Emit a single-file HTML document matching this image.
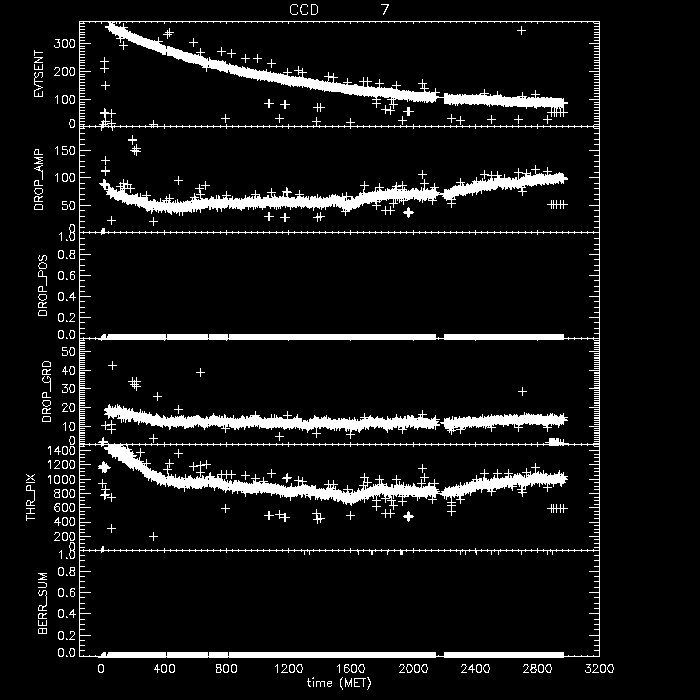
<!DOCTYPE html>
<html><head><meta charset="utf-8"><title>CCD 7</title>
<style>
html,body{margin:0;padding:0;background:#000;}
body{width:700px;height:700px;overflow:hidden;font-family:"Liberation Sans",sans-serif;}
svg{display:block;}
</style></head><body>
<svg width="700" height="700" viewBox="0 0 700 700" shape-rendering="crispEdges">
<rect width="700" height="700" fill="#000"/>
<g fill="#000" font-family="Liberation Sans, sans-serif" font-size="11">
<text x="101" y="672" text-anchor="middle">0</text>
<text x="164" y="672" text-anchor="middle">400</text>
<text x="226" y="672" text-anchor="middle">800</text>
<text x="288" y="672" text-anchor="middle">1200</text>
<text x="350" y="672" text-anchor="middle">1600</text>
<text x="413" y="672" text-anchor="middle">2000</text>
<text x="475" y="672" text-anchor="middle">2400</text>
<text x="537" y="672" text-anchor="middle">2800</text>
<text x="599" y="672" text-anchor="middle">3200</text>
<text x="339" y="686" text-anchor="middle">time (MET)</text>
<text x="75" y="47" text-anchor="end">300</text>
<text x="75" y="75" text-anchor="end">200</text>
<text x="75" y="103" text-anchor="end">100</text>
<text x="75" y="127" text-anchor="end">0</text>
<text x="75" y="154" text-anchor="end">150</text>
<text x="75" y="181" text-anchor="end">100</text>
<text x="75" y="209" text-anchor="end">50</text>
<text x="75" y="232" text-anchor="end">0</text>
<text x="75" y="240" text-anchor="end">1.0</text>
<text x="75" y="258" text-anchor="end">0.8</text>
<text x="75" y="279" text-anchor="end">0.6</text>
<text x="75" y="300" text-anchor="end">0.4</text>
<text x="75" y="321" text-anchor="end">0.2</text>
<text x="75" y="338" text-anchor="end">0.0</text>
<text x="75" y="355" text-anchor="end">50</text>
<text x="75" y="374" text-anchor="end">40</text>
<text x="75" y="392" text-anchor="end">30</text>
<text x="75" y="411" text-anchor="end">20</text>
<text x="75" y="430" text-anchor="end">10</text>
<text x="75" y="444" text-anchor="end">0</text>
<text x="75" y="454" text-anchor="end">1400</text>
<text x="75" y="468" text-anchor="end">1200</text>
<text x="75" y="483" text-anchor="end">1000</text>
<text x="75" y="497" text-anchor="end">800</text>
<text x="75" y="511" text-anchor="end">600</text>
<text x="75" y="525" text-anchor="end">400</text>
<text x="75" y="540" text-anchor="end">200</text>
<text x="75" y="550" text-anchor="end">0</text>
<text x="75" y="558" text-anchor="end">1.0</text>
<text x="75" y="575" text-anchor="end">0.8</text>
<text x="75" y="596" text-anchor="end">0.6</text>
<text x="75" y="617" text-anchor="end">0.4</text>
<text x="75" y="639" text-anchor="end">0.2</text>
<text x="75" y="656" text-anchor="end">0.0</text>
<text x="42" y="73" text-anchor="middle" transform="rotate(-90 42 73)">EVTSENT</text>
<text x="42" y="179" text-anchor="middle" transform="rotate(-90 42 179)">DROP_AMP</text>
<text x="46" y="285" text-anchor="middle" transform="rotate(-90 46 285)">DROP_POS</text>
<text x="50" y="391" text-anchor="middle" transform="rotate(-90 50 391)">DROP_GRD</text>
<text x="34" y="497" text-anchor="middle" transform="rotate(-90 34 497)">THR_PIX</text>
<text x="46" y="603" text-anchor="middle" transform="rotate(-90 46 603)">BERR_SUM</text>
<text x="304" y="14" text-anchor="middle">CCD</text>
<text x="385" y="14" text-anchor="middle">7</text>
</g>
<defs>
<clipPath id="c0"><rect x="79" y="21" width="521" height="107"/></clipPath>
<clipPath id="c1"><rect x="79" y="126" width="521" height="108"/></clipPath>
<clipPath id="c2"><rect x="79" y="232" width="521" height="108"/></clipPath>
<clipPath id="c3"><rect x="79" y="338" width="521" height="108"/></clipPath>
<clipPath id="c4"><rect x="79" y="444" width="521" height="108"/></clipPath>
<clipPath id="c5"><rect x="79" y="550" width="521" height="108"/></clipPath>
</defs>
<path fill="#fff" d="M79 21h1v636h-1zM599 21h1v636h-1zM79 21h521v1h-521zM79 126h521v1h-521zM79 232h521v1h-521zM79 338h521v1h-521zM79 444h521v1h-521zM79 550h521v1h-521zM79 656h521v1h-521zM83 21h1v2h-1zM89 21h1v2h-1zM95 21h1v2h-1zM101 21h1v3h-1zM108 21h1v2h-1zM114 21h1v2h-1zM120 21h1v2h-1zM126 21h1v2h-1zM132 21h1v2h-1zM139 21h1v2h-1zM145 21h1v2h-1zM151 21h1v2h-1zM157 21h1v2h-1zM164 21h1v3h-1zM170 21h1v2h-1zM176 21h1v2h-1zM182 21h1v2h-1zM189 21h1v2h-1zM195 21h1v2h-1zM201 21h1v2h-1zM207 21h1v2h-1zM213 21h1v2h-1zM220 21h1v2h-1zM226 21h1v3h-1zM232 21h1v2h-1zM238 21h1v2h-1zM245 21h1v2h-1zM251 21h1v2h-1zM257 21h1v2h-1zM263 21h1v2h-1zM269 21h1v2h-1zM276 21h1v2h-1zM282 21h1v2h-1zM288 21h1v3h-1zM294 21h1v2h-1zM301 21h1v2h-1zM307 21h1v2h-1zM313 21h1v2h-1zM319 21h1v2h-1zM325 21h1v2h-1zM332 21h1v2h-1zM338 21h1v2h-1zM344 21h1v2h-1zM350 21h1v3h-1zM357 21h1v2h-1zM363 21h1v2h-1zM369 21h1v2h-1zM375 21h1v2h-1zM381 21h1v2h-1zM388 21h1v2h-1zM394 21h1v2h-1zM400 21h1v2h-1zM406 21h1v2h-1zM413 21h1v3h-1zM419 21h1v2h-1zM425 21h1v2h-1zM431 21h1v2h-1zM438 21h1v2h-1zM444 21h1v2h-1zM450 21h1v2h-1zM456 21h1v2h-1zM462 21h1v2h-1zM469 21h1v2h-1zM475 21h1v3h-1zM481 21h1v2h-1zM487 21h1v2h-1zM494 21h1v2h-1zM500 21h1v2h-1zM506 21h1v2h-1zM512 21h1v2h-1zM518 21h1v2h-1zM525 21h1v2h-1zM531 21h1v2h-1zM537 21h1v3h-1zM543 21h1v2h-1zM550 21h1v2h-1zM556 21h1v2h-1zM562 21h1v2h-1zM568 21h1v2h-1zM574 21h1v2h-1zM581 21h1v2h-1zM587 21h1v2h-1zM593 21h1v2h-1zM83 125h1v3h-1zM89 125h1v3h-1zM95 125h1v3h-1zM101 124h1v5h-1zM108 125h1v3h-1zM114 125h1v3h-1zM120 125h1v3h-1zM126 125h1v3h-1zM132 125h1v3h-1zM139 125h1v3h-1zM145 125h1v3h-1zM151 125h1v3h-1zM157 125h1v3h-1zM164 124h1v5h-1zM170 125h1v3h-1zM176 125h1v3h-1zM182 125h1v3h-1zM189 125h1v3h-1zM195 125h1v3h-1zM201 125h1v3h-1zM207 125h1v3h-1zM213 125h1v3h-1zM220 125h1v3h-1zM226 124h1v5h-1zM232 125h1v3h-1zM238 125h1v3h-1zM245 125h1v3h-1zM251 125h1v3h-1zM257 125h1v3h-1zM263 125h1v3h-1zM269 125h1v3h-1zM276 125h1v3h-1zM282 125h1v3h-1zM288 124h1v5h-1zM294 125h1v3h-1zM301 125h1v3h-1zM307 125h1v3h-1zM313 125h1v3h-1zM319 125h1v3h-1zM325 125h1v3h-1zM332 125h1v3h-1zM338 125h1v3h-1zM344 125h1v3h-1zM350 124h1v5h-1zM357 125h1v3h-1zM363 125h1v3h-1zM369 125h1v3h-1zM375 125h1v3h-1zM381 125h1v3h-1zM388 125h1v3h-1zM394 125h1v3h-1zM400 125h1v3h-1zM406 125h1v3h-1zM413 124h1v5h-1zM419 125h1v3h-1zM425 125h1v3h-1zM431 125h1v3h-1zM438 125h1v3h-1zM444 125h1v3h-1zM450 125h1v3h-1zM456 125h1v3h-1zM462 125h1v3h-1zM469 125h1v3h-1zM475 124h1v5h-1zM481 125h1v3h-1zM487 125h1v3h-1zM494 125h1v3h-1zM500 125h1v3h-1zM506 125h1v3h-1zM512 125h1v3h-1zM518 125h1v3h-1zM525 125h1v3h-1zM531 125h1v3h-1zM537 124h1v5h-1zM543 125h1v3h-1zM550 125h1v3h-1zM556 125h1v3h-1zM562 125h1v3h-1zM568 125h1v3h-1zM574 125h1v3h-1zM581 125h1v3h-1zM587 125h1v3h-1zM593 125h1v3h-1zM83 231h1v3h-1zM89 231h1v3h-1zM95 231h1v3h-1zM101 230h1v5h-1zM108 231h1v3h-1zM114 231h1v3h-1zM120 231h1v3h-1zM126 231h1v3h-1zM132 231h1v3h-1zM139 231h1v3h-1zM145 231h1v3h-1zM151 231h1v3h-1zM157 231h1v3h-1zM164 230h1v5h-1zM170 231h1v3h-1zM176 231h1v3h-1zM182 231h1v3h-1zM189 231h1v3h-1zM195 231h1v3h-1zM201 231h1v3h-1zM207 231h1v3h-1zM213 231h1v3h-1zM220 231h1v3h-1zM226 230h1v5h-1zM232 231h1v3h-1zM238 231h1v3h-1zM245 231h1v3h-1zM251 231h1v3h-1zM257 231h1v3h-1zM263 231h1v3h-1zM269 231h1v3h-1zM276 231h1v3h-1zM282 231h1v3h-1zM288 230h1v5h-1zM294 231h1v3h-1zM301 231h1v3h-1zM307 231h1v3h-1zM313 231h1v3h-1zM319 231h1v3h-1zM325 231h1v3h-1zM332 231h1v3h-1zM338 231h1v3h-1zM344 231h1v3h-1zM350 230h1v5h-1zM357 231h1v3h-1zM363 231h1v3h-1zM369 231h1v3h-1zM375 231h1v3h-1zM381 231h1v3h-1zM388 231h1v3h-1zM394 231h1v3h-1zM400 231h1v3h-1zM406 231h1v3h-1zM413 230h1v5h-1zM419 231h1v3h-1zM425 231h1v3h-1zM431 231h1v3h-1zM438 231h1v3h-1zM444 231h1v3h-1zM450 231h1v3h-1zM456 231h1v3h-1zM462 231h1v3h-1zM469 231h1v3h-1zM475 230h1v5h-1zM481 231h1v3h-1zM487 231h1v3h-1zM494 231h1v3h-1zM500 231h1v3h-1zM506 231h1v3h-1zM512 231h1v3h-1zM518 231h1v3h-1zM525 231h1v3h-1zM531 231h1v3h-1zM537 230h1v5h-1zM543 231h1v3h-1zM550 231h1v3h-1zM556 231h1v3h-1zM562 231h1v3h-1zM568 231h1v3h-1zM574 231h1v3h-1zM581 231h1v3h-1zM587 231h1v3h-1zM593 231h1v3h-1zM83 337h1v3h-1zM89 337h1v3h-1zM95 337h1v3h-1zM101 336h1v5h-1zM108 337h1v3h-1zM114 337h1v3h-1zM120 337h1v3h-1zM126 337h1v3h-1zM132 337h1v3h-1zM139 337h1v3h-1zM145 337h1v3h-1zM151 337h1v3h-1zM157 337h1v3h-1zM164 336h1v5h-1zM170 337h1v3h-1zM176 337h1v3h-1zM182 337h1v3h-1zM189 337h1v3h-1zM195 337h1v3h-1zM201 337h1v3h-1zM207 337h1v3h-1zM213 337h1v3h-1zM220 337h1v3h-1zM226 336h1v5h-1zM232 337h1v3h-1zM238 337h1v3h-1zM245 337h1v3h-1zM251 337h1v3h-1zM257 337h1v3h-1zM263 337h1v3h-1zM269 337h1v3h-1zM276 337h1v3h-1zM282 337h1v3h-1zM288 336h1v5h-1zM294 337h1v3h-1zM301 337h1v3h-1zM307 337h1v3h-1zM313 337h1v3h-1zM319 337h1v3h-1zM325 337h1v3h-1zM332 337h1v3h-1zM338 337h1v3h-1zM344 337h1v3h-1zM350 336h1v5h-1zM357 337h1v3h-1zM363 337h1v3h-1zM369 337h1v3h-1zM375 337h1v3h-1zM381 337h1v3h-1zM388 337h1v3h-1zM394 337h1v3h-1zM400 337h1v3h-1zM406 337h1v3h-1zM413 336h1v5h-1zM419 337h1v3h-1zM425 337h1v3h-1zM431 337h1v3h-1zM438 337h1v3h-1zM444 337h1v3h-1zM450 337h1v3h-1zM456 337h1v3h-1zM462 337h1v3h-1zM469 337h1v3h-1zM475 336h1v5h-1zM481 337h1v3h-1zM487 337h1v3h-1zM494 337h1v3h-1zM500 337h1v3h-1zM506 337h1v3h-1zM512 337h1v3h-1zM518 337h1v3h-1zM525 337h1v3h-1zM531 337h1v3h-1zM537 336h1v5h-1zM543 337h1v3h-1zM550 337h1v3h-1zM556 337h1v3h-1zM562 337h1v3h-1zM568 337h1v3h-1zM574 337h1v3h-1zM581 337h1v3h-1zM587 337h1v3h-1zM593 337h1v3h-1zM83 443h1v3h-1zM89 443h1v3h-1zM95 443h1v3h-1zM101 442h1v5h-1zM108 443h1v3h-1zM114 443h1v3h-1zM120 443h1v3h-1zM126 443h1v3h-1zM132 443h1v3h-1zM139 443h1v3h-1zM145 443h1v3h-1zM151 443h1v3h-1zM157 443h1v3h-1zM164 442h1v5h-1zM170 443h1v3h-1zM176 443h1v3h-1zM182 443h1v3h-1zM189 443h1v3h-1zM195 443h1v3h-1zM201 443h1v3h-1zM207 443h1v3h-1zM213 443h1v3h-1zM220 443h1v3h-1zM226 442h1v5h-1zM232 443h1v3h-1zM238 443h1v3h-1zM245 443h1v3h-1zM251 443h1v3h-1zM257 443h1v3h-1zM263 443h1v3h-1zM269 443h1v3h-1zM276 443h1v3h-1zM282 443h1v3h-1zM288 442h1v5h-1zM294 443h1v3h-1zM301 443h1v3h-1zM307 443h1v3h-1zM313 443h1v3h-1zM319 443h1v3h-1zM325 443h1v3h-1zM332 443h1v3h-1zM338 443h1v3h-1zM344 443h1v3h-1zM350 442h1v5h-1zM357 443h1v3h-1zM363 443h1v3h-1zM369 443h1v3h-1zM375 443h1v3h-1zM381 443h1v3h-1zM388 443h1v3h-1zM394 443h1v3h-1zM400 443h1v3h-1zM406 443h1v3h-1zM413 442h1v5h-1zM419 443h1v3h-1zM425 443h1v3h-1zM431 443h1v3h-1zM438 443h1v3h-1zM444 443h1v3h-1zM450 443h1v3h-1zM456 443h1v3h-1zM462 443h1v3h-1zM469 443h1v3h-1zM475 442h1v5h-1zM481 443h1v3h-1zM487 443h1v3h-1zM494 443h1v3h-1zM500 443h1v3h-1zM506 443h1v3h-1zM512 443h1v3h-1zM518 443h1v3h-1zM525 443h1v3h-1zM531 443h1v3h-1zM537 442h1v5h-1zM543 443h1v3h-1zM550 443h1v3h-1zM556 443h1v3h-1zM562 443h1v3h-1zM568 443h1v3h-1zM574 443h1v3h-1zM581 443h1v3h-1zM587 443h1v3h-1zM593 443h1v3h-1zM83 549h1v3h-1zM89 549h1v3h-1zM95 549h1v3h-1zM101 548h1v5h-1zM108 549h1v3h-1zM114 549h1v3h-1zM120 549h1v3h-1zM126 549h1v3h-1zM132 549h1v3h-1zM139 549h1v3h-1zM145 549h1v3h-1zM151 549h1v3h-1zM157 549h1v3h-1zM164 548h1v5h-1zM170 549h1v3h-1zM176 549h1v3h-1zM182 549h1v3h-1zM189 549h1v3h-1zM195 549h1v3h-1zM201 549h1v3h-1zM207 549h1v3h-1zM213 549h1v3h-1zM220 549h1v3h-1zM226 548h1v5h-1zM232 549h1v3h-1zM238 549h1v3h-1zM245 549h1v3h-1zM251 549h1v3h-1zM257 549h1v3h-1zM263 549h1v3h-1zM269 549h1v3h-1zM276 549h1v3h-1zM282 549h1v3h-1zM288 548h1v5h-1zM294 549h1v3h-1zM301 549h1v3h-1zM307 549h1v3h-1zM313 549h1v3h-1zM319 549h1v3h-1zM325 549h1v3h-1zM332 549h1v3h-1zM338 549h1v3h-1zM344 549h1v3h-1zM350 548h1v5h-1zM357 549h1v3h-1zM363 549h1v3h-1zM369 549h1v3h-1zM375 549h1v3h-1zM381 549h1v3h-1zM388 549h1v3h-1zM394 549h1v3h-1zM400 549h1v3h-1zM406 549h1v3h-1zM413 548h1v5h-1zM419 549h1v3h-1zM425 549h1v3h-1zM431 549h1v3h-1zM438 549h1v3h-1zM444 549h1v3h-1zM450 549h1v3h-1zM456 549h1v3h-1zM462 549h1v3h-1zM469 549h1v3h-1zM475 548h1v5h-1zM481 549h1v3h-1zM487 549h1v3h-1zM494 549h1v3h-1zM500 549h1v3h-1zM506 549h1v3h-1zM512 549h1v3h-1zM518 549h1v3h-1zM525 549h1v3h-1zM531 549h1v3h-1zM537 548h1v5h-1zM543 549h1v3h-1zM550 549h1v3h-1zM556 549h1v3h-1zM562 549h1v3h-1zM568 549h1v3h-1zM574 549h1v3h-1zM581 549h1v3h-1zM587 549h1v3h-1zM593 549h1v3h-1zM83 655h1v2h-1zM89 655h1v2h-1zM95 655h1v2h-1zM101 654h1v3h-1zM108 655h1v2h-1zM114 655h1v2h-1zM120 655h1v2h-1zM126 655h1v2h-1zM132 655h1v2h-1zM139 655h1v2h-1zM145 655h1v2h-1zM151 655h1v2h-1zM157 655h1v2h-1zM164 654h1v3h-1zM170 655h1v2h-1zM176 655h1v2h-1zM182 655h1v2h-1zM189 655h1v2h-1zM195 655h1v2h-1zM201 655h1v2h-1zM207 655h1v2h-1zM213 655h1v2h-1zM220 655h1v2h-1zM226 654h1v3h-1zM232 655h1v2h-1zM238 655h1v2h-1zM245 655h1v2h-1zM251 655h1v2h-1zM257 655h1v2h-1zM263 655h1v2h-1zM269 655h1v2h-1zM276 655h1v2h-1zM282 655h1v2h-1zM288 654h1v3h-1zM294 655h1v2h-1zM301 655h1v2h-1zM307 655h1v2h-1zM313 655h1v2h-1zM319 655h1v2h-1zM325 655h1v2h-1zM332 655h1v2h-1zM338 655h1v2h-1zM344 655h1v2h-1zM350 654h1v3h-1zM357 655h1v2h-1zM363 655h1v2h-1zM369 655h1v2h-1zM375 655h1v2h-1zM381 655h1v2h-1zM388 655h1v2h-1zM394 655h1v2h-1zM400 655h1v2h-1zM406 655h1v2h-1zM413 654h1v3h-1zM419 655h1v2h-1zM425 655h1v2h-1zM431 655h1v2h-1zM438 655h1v2h-1zM444 655h1v2h-1zM450 655h1v2h-1zM456 655h1v2h-1zM462 655h1v2h-1zM469 655h1v2h-1zM475 654h1v3h-1zM481 655h1v2h-1zM487 655h1v2h-1zM494 655h1v2h-1zM500 655h1v2h-1zM506 655h1v2h-1zM512 655h1v2h-1zM518 655h1v2h-1zM525 655h1v2h-1zM531 655h1v2h-1zM537 654h1v3h-1zM543 655h1v2h-1zM550 655h1v2h-1zM556 655h1v2h-1zM562 655h1v2h-1zM568 655h1v2h-1zM574 655h1v2h-1zM581 655h1v2h-1zM587 655h1v2h-1zM593 655h1v2h-1zM80 124h5v1h-5zM594 124h5v1h-5zM80 121h5v1h-5zM594 121h5v1h-5zM80 118h5v1h-5zM594 118h5v1h-5zM80 116h5v1h-5zM594 116h5v1h-5zM80 113h5v1h-5zM594 113h5v1h-5zM80 110h5v1h-5zM594 110h5v1h-5zM80 107h5v1h-5zM594 107h5v1h-5zM80 104h5v1h-5zM594 104h5v1h-5zM80 102h5v1h-5zM594 102h5v1h-5zM80 99h11v1h-11zM589 99h10v1h-10zM80 96h5v1h-5zM594 96h5v1h-5zM80 93h5v1h-5zM594 93h5v1h-5zM80 90h5v1h-5zM594 90h5v1h-5zM80 88h5v1h-5zM594 88h5v1h-5zM80 85h5v1h-5zM594 85h5v1h-5zM80 82h5v1h-5zM594 82h5v1h-5zM80 79h5v1h-5zM594 79h5v1h-5zM80 76h5v1h-5zM594 76h5v1h-5zM80 74h5v1h-5zM594 74h5v1h-5zM80 71h11v1h-11zM589 71h10v1h-10zM80 68h5v1h-5zM594 68h5v1h-5zM80 65h5v1h-5zM594 65h5v1h-5zM80 62h5v1h-5zM594 62h5v1h-5zM80 60h5v1h-5zM594 60h5v1h-5zM80 57h5v1h-5zM594 57h5v1h-5zM80 54h5v1h-5zM594 54h5v1h-5zM80 51h5v1h-5zM594 51h5v1h-5zM80 48h5v1h-5zM594 48h5v1h-5zM80 46h5v1h-5zM594 46h5v1h-5zM80 43h11v1h-11zM589 43h10v1h-10zM80 40h5v1h-5zM594 40h5v1h-5zM80 37h5v1h-5zM594 37h5v1h-5zM80 34h5v1h-5zM594 34h5v1h-5zM80 32h5v1h-5zM594 32h5v1h-5zM80 29h5v1h-5zM594 29h5v1h-5zM80 26h5v1h-5zM594 26h5v1h-5zM80 23h5v1h-5zM594 23h5v1h-5zM80 227h5v1h-5zM594 227h5v1h-5zM80 221h5v1h-5zM594 221h5v1h-5zM80 216h5v1h-5zM594 216h5v1h-5zM80 210h5v1h-5zM594 210h5v1h-5zM80 205h11v1h-11zM589 205h10v1h-10zM80 199h5v1h-5zM594 199h5v1h-5zM80 194h5v1h-5zM594 194h5v1h-5zM80 188h5v1h-5zM594 188h5v1h-5zM80 183h5v1h-5zM594 183h5v1h-5zM80 177h11v1h-11zM589 177h10v1h-10zM80 172h5v1h-5zM594 172h5v1h-5zM80 166h5v1h-5zM594 166h5v1h-5zM80 161h5v1h-5zM594 161h5v1h-5zM80 155h5v1h-5zM594 155h5v1h-5zM80 150h11v1h-11zM589 150h10v1h-10zM80 144h5v1h-5zM594 144h5v1h-5zM80 139h5v1h-5zM594 139h5v1h-5zM80 133h5v1h-5zM594 133h5v1h-5zM80 128h5v1h-5zM594 128h5v1h-5zM80 333h5v1h-5zM594 333h5v1h-5zM80 328h5v1h-5zM594 328h5v1h-5zM80 322h5v1h-5zM594 322h5v1h-5zM80 317h11v1h-11zM589 317h10v1h-10zM80 312h5v1h-5zM594 312h5v1h-5zM80 307h5v1h-5zM594 307h5v1h-5zM80 301h5v1h-5zM594 301h5v1h-5zM80 296h11v1h-11zM589 296h10v1h-10zM80 291h5v1h-5zM594 291h5v1h-5zM80 286h5v1h-5zM594 286h5v1h-5zM80 280h5v1h-5zM594 280h5v1h-5zM80 275h11v1h-11zM589 275h10v1h-10zM80 270h5v1h-5zM594 270h5v1h-5zM80 265h5v1h-5zM594 265h5v1h-5zM80 259h5v1h-5zM594 259h5v1h-5zM80 254h11v1h-11zM589 254h10v1h-10zM80 249h5v1h-5zM594 249h5v1h-5zM80 244h5v1h-5zM594 244h5v1h-5zM80 238h5v1h-5zM594 238h5v1h-5zM80 443h5v1h-5zM594 443h5v1h-5zM80 441h5v1h-5zM594 441h5v1h-5zM80 439h5v1h-5zM594 439h5v1h-5zM80 437h5v1h-5zM594 437h5v1h-5zM80 435h5v1h-5zM594 435h5v1h-5zM80 433h5v1h-5zM594 433h5v1h-5zM80 432h5v1h-5zM594 432h5v1h-5zM80 430h5v1h-5zM594 430h5v1h-5zM80 428h5v1h-5zM594 428h5v1h-5zM80 426h11v1h-11zM589 426h10v1h-10zM80 424h5v1h-5zM594 424h5v1h-5zM80 422h5v1h-5zM594 422h5v1h-5zM80 420h5v1h-5zM594 420h5v1h-5zM80 418h5v1h-5zM594 418h5v1h-5zM80 417h5v1h-5zM594 417h5v1h-5zM80 415h5v1h-5zM594 415h5v1h-5zM80 413h5v1h-5zM594 413h5v1h-5zM80 411h5v1h-5zM594 411h5v1h-5zM80 409h5v1h-5zM594 409h5v1h-5zM80 407h11v1h-11zM589 407h10v1h-10zM80 405h5v1h-5zM594 405h5v1h-5zM80 403h5v1h-5zM594 403h5v1h-5zM80 402h5v1h-5zM594 402h5v1h-5zM80 400h5v1h-5zM594 400h5v1h-5zM80 398h5v1h-5zM594 398h5v1h-5zM80 396h5v1h-5zM594 396h5v1h-5zM80 394h5v1h-5zM594 394h5v1h-5zM80 392h5v1h-5zM594 392h5v1h-5zM80 390h5v1h-5zM594 390h5v1h-5zM80 388h11v1h-11zM589 388h10v1h-10zM80 387h5v1h-5zM594 387h5v1h-5zM80 385h5v1h-5zM594 385h5v1h-5zM80 383h5v1h-5zM594 383h5v1h-5zM80 381h5v1h-5zM594 381h5v1h-5zM80 379h5v1h-5zM594 379h5v1h-5zM80 377h5v1h-5zM594 377h5v1h-5zM80 375h5v1h-5zM594 375h5v1h-5zM80 373h5v1h-5zM594 373h5v1h-5zM80 372h5v1h-5zM594 372h5v1h-5zM80 370h11v1h-11zM589 370h10v1h-10zM80 368h5v1h-5zM594 368h5v1h-5zM80 366h5v1h-5zM594 366h5v1h-5zM80 364h5v1h-5zM594 364h5v1h-5zM80 362h5v1h-5zM594 362h5v1h-5zM80 360h5v1h-5zM594 360h5v1h-5zM80 358h5v1h-5zM594 358h5v1h-5zM80 357h5v1h-5zM594 357h5v1h-5zM80 355h5v1h-5zM594 355h5v1h-5zM80 353h5v1h-5zM594 353h5v1h-5zM80 351h11v1h-11zM589 351h10v1h-10zM80 349h5v1h-5zM594 349h5v1h-5zM80 347h5v1h-5zM594 347h5v1h-5zM80 345h5v1h-5zM594 345h5v1h-5zM80 343h5v1h-5zM594 343h5v1h-5zM80 342h5v1h-5zM594 342h5v1h-5zM80 340h5v1h-5zM594 340h5v1h-5zM80 547h5v1h-5zM594 547h5v1h-5zM80 543h5v1h-5zM594 543h5v1h-5zM80 539h5v1h-5zM594 539h5v1h-5zM80 536h11v1h-11zM589 536h10v1h-10zM80 532h5v1h-5zM594 532h5v1h-5zM80 529h5v1h-5zM594 529h5v1h-5zM80 525h5v1h-5zM594 525h5v1h-5zM80 522h11v1h-11zM589 522h10v1h-10zM80 518h5v1h-5zM594 518h5v1h-5zM80 514h5v1h-5zM594 514h5v1h-5zM80 511h5v1h-5zM594 511h5v1h-5zM80 507h11v1h-11zM589 507h10v1h-10zM80 504h5v1h-5zM594 504h5v1h-5zM80 500h5v1h-5zM594 500h5v1h-5zM80 497h5v1h-5zM594 497h5v1h-5zM80 493h11v1h-11zM589 493h10v1h-10zM80 489h5v1h-5zM594 489h5v1h-5zM80 486h5v1h-5zM594 486h5v1h-5zM80 482h5v1h-5zM594 482h5v1h-5zM80 479h11v1h-11zM589 479h10v1h-10zM80 475h5v1h-5zM594 475h5v1h-5zM80 471h5v1h-5zM594 471h5v1h-5zM80 468h5v1h-5zM594 468h5v1h-5zM80 464h11v1h-11zM589 464h10v1h-10zM80 461h5v1h-5zM594 461h5v1h-5zM80 457h5v1h-5zM594 457h5v1h-5zM80 454h5v1h-5zM594 454h5v1h-5zM80 450h11v1h-11zM589 450h10v1h-10zM80 446h5v1h-5zM594 446h5v1h-5zM80 650h5v1h-5zM594 650h5v1h-5zM80 645h5v1h-5zM594 645h5v1h-5zM80 640h5v1h-5zM594 640h5v1h-5zM80 635h11v1h-11zM589 635h10v1h-10zM80 629h5v1h-5zM594 629h5v1h-5zM80 624h5v1h-5zM594 624h5v1h-5zM80 619h5v1h-5zM594 619h5v1h-5zM80 613h11v1h-11zM589 613h10v1h-10zM80 608h5v1h-5zM594 608h5v1h-5zM80 603h5v1h-5zM594 603h5v1h-5zM80 597h5v1h-5zM594 597h5v1h-5zM80 592h11v1h-11zM589 592h10v1h-10zM80 587h5v1h-5zM594 587h5v1h-5zM80 581h5v1h-5zM594 581h5v1h-5zM80 576h5v1h-5zM594 576h5v1h-5zM80 571h11v1h-11zM589 571h10v1h-10zM80 566h5v1h-5zM594 566h5v1h-5zM80 560h5v1h-5zM594 560h5v1h-5zM80 555h5v1h-5zM594 555h5v1h-5zM439 97h5v1h-5zM444 93h4v11h-4z"/>
<g clip-path="url(#c0)"><path fill="none" stroke="#fff" stroke-width="1" d="M105 27.5h9M109.5 23v9M105 26.5h9M109.5 22v9M106 26.5h9M110.5 22v9M107 27.5h9M111.5 23v9M108 28.5h9M112.5 24v9M108 29.5h9M112.5 25v9M109 28.5h9M113.5 24v9M109 29.5h9M113.5 25v9M110 29.5h9M114.5 25v9M110 28.5h9M114.5 24v9M111 30.5h9M115.5 26v9M111 31.5h9M115.5 27v9M112 30.5h9M116.5 26v9M113 30.5h9M117.5 26v9M114 31.5h9M118.5 27v9M115 32.5h9M119.5 28v9M115 33.5h9M119.5 29v9M116 30.5h9M120.5 26v9M116 32.5h9M120.5 28v9M117 32.5h9M121.5 28v9M118 32.5h9M122.5 28v9M119 33.5h9M123.5 29v9M120 33.5h9M124.5 29v9M120 32.5h9M124.5 28v9M121 33.5h9M125.5 29v9M122 34.5h9M126.5 30v9M123 34.5h9M127.5 30v9M124 36.5h9M128.5 32v9M125 35.5h9M129.5 31v9M125 36.5h9M129.5 32v9M126 35.5h9M130.5 31v9M126 36.5h9M130.5 32v9M127 37.5h9M131.5 33v9M128 37.5h9M132.5 33v9M129 38.5h9M133.5 34v9M130 38.5h9M134.5 34v9M130 37.5h9M134.5 33v9M131 38.5h9M135.5 34v9M132 38.5h9M136.5 34v9M132 39.5h9M136.5 35v9M133 40.5h9M137.5 36v9M133 39.5h9M137.5 35v9M134 39.5h9M138.5 35v9M134 40.5h9M138.5 36v9M135 40.5h9M139.5 36v9M136 40.5h9M140.5 36v9M137 41.5h9M141.5 37v9M137 40.5h9M141.5 36v9M138 41.5h9M142.5 37v9M139 42.5h9M143.5 38v9M140 42.5h9M144.5 38v9M141 42.5h9M145.5 38v9M142 42.5h9M146.5 38v9M142 43.5h9M146.5 39v9M143 43.5h9M147.5 39v9M144 43.5h9M148.5 39v9M144 44.5h9M148.5 40v9M145 43.5h9M149.5 39v9M145 44.5h9M149.5 40v9M146 44.5h9M150.5 40v9M147 44.5h9M151.5 40v9M148 45.5h9M152.5 41v9M148 44.5h9M152.5 40v9M149 45.5h9M153.5 41v9M150 45.5h9M154.5 41v9M150 44.5h9M154.5 40v9M151 46.5h9M155.5 42v9M151 45.5h9M155.5 41v9M152 46.5h9M156.5 42v9M153 46.5h9M157.5 42v9M153 47.5h9M157.5 43v9M154 47.5h9M158.5 43v9M154 46.5h9M158.5 42v9M155 47.5h9M159.5 43v9M156 48.5h9M160.5 44v9M157 48.5h9M161.5 44v9M158 49.5h9M162.5 45v9M158 50.5h9M162.5 46v9M159 50.5h9M163.5 46v9M159 49.5h9M163.5 45v9M160 49.5h9M164.5 45v9M160 50.5h9M164.5 46v9M161 50.5h9M165.5 46v9M163 50.5h9M167.5 46v9M163 51.5h9M167.5 47v9M164 50.5h9M168.5 46v9M164 51.5h9M168.5 47v9M165 50.5h9M169.5 46v9M165 51.5h9M169.5 47v9M166 51.5h9M170.5 47v9M167 51.5h9M171.5 47v9M168 51.5h9M172.5 47v9M169 52.5h9M173.5 48v9M170 53.5h9M174.5 49v9M170 52.5h9M174.5 48v9M171 53.5h9M175.5 49v9M172 54.5h9M176.5 50v9M172 53.5h9M176.5 49v9M173 53.5h9M177.5 49v9M173 54.5h9M177.5 50v9M174 53.5h9M178.5 49v9M174 55.5h9M178.5 51v9M175 54.5h9M179.5 50v9M176 54.5h9M180.5 50v9M177 54.5h9M181.5 50v9M178 55.5h9M182.5 51v9M179 56.5h9M183.5 52v9M180 56.5h9M184.5 52v9M181 56.5h9M185.5 52v9M181 57.5h9M185.5 53v9M182 57.5h9M186.5 53v9M182 56.5h9M186.5 52v9M183 57.5h9M187.5 53v9M183 56.5h9M187.5 52v9M184 58.5h9M188.5 54v9M184 57.5h9M188.5 53v9M185 58.5h9M189.5 54v9M185 57.5h9M189.5 53v9M186 57.5h9M190.5 53v9M186 58.5h9M190.5 54v9M187 58.5h9M191.5 54v9M187 57.5h9M191.5 53v9M188 58.5h9M192.5 54v9M189 59.5h9M193.5 55v9M190 58.5h9M194.5 54v9M191 59.5h9M195.5 55v9M191 58.5h9M195.5 54v9M192 59.5h9M196.5 55v9M193 59.5h9M197.5 55v9M194 59.5h9M198.5 55v9M194 58.5h9M198.5 54v9M195 60.5h9M199.5 56v9M196 59.5h9M200.5 55v9M196 60.5h9M200.5 56v9M197 60.5h9M201.5 56v9M197 61.5h9M201.5 57v9M198 60.5h9M202.5 56v9M198 61.5h9M202.5 57v9M199 61.5h9M203.5 57v9M199 62.5h9M203.5 58v9M200 62.5h9M204.5 58v9M201 62.5h9M205.5 58v9M202 64.5h9M206.5 60v9M202 63.5h9M206.5 59v9M203 62.5h9M207.5 58v9M203 63.5h9M207.5 59v9M205 63.5h9M209.5 59v9M205 61.5h9M209.5 57v9M206 63.5h9M210.5 59v9M207 64.5h9M211.5 60v9M208 64.5h9M212.5 60v9M209 64.5h9M213.5 60v9M210 64.5h9M214.5 60v9M211 64.5h9M215.5 60v9M212 64.5h9M216.5 60v9M213 65.5h9M217.5 61v9M214 64.5h9M218.5 60v9M214 65.5h9M218.5 61v9M215 65.5h9M219.5 61v9M215 66.5h9M219.5 62v9M216 67.5h9M220.5 63v9M216 65.5h9M220.5 61v9M217 66.5h9M221.5 62v9M217 65.5h9M221.5 61v9M218 64.5h9M222.5 60v9M218 66.5h9M222.5 62v9M219 65.5h9M223.5 61v9M219 66.5h9M223.5 62v9M220 66.5h9M224.5 62v9M220 67.5h9M224.5 63v9M221 65.5h9M225.5 61v9M221 67.5h9M225.5 63v9M222 68.5h9M226.5 64v9M223 68.5h9M227.5 64v9M225 67.5h9M229.5 63v9M226 68.5h9M230.5 64v9M226 69.5h9M230.5 65v9M227 69.5h9M231.5 65v9M228 69.5h9M232.5 65v9M229 69.5h9M233.5 65v9M230 70.5h9M234.5 66v9M231 69.5h9M235.5 65v9M232 69.5h9M236.5 65v9M232 70.5h9M236.5 66v9M233 70.5h9M237.5 66v9M234 71.5h9M238.5 67v9M235 71.5h9M239.5 67v9M235 72.5h9M239.5 68v9M236 71.5h9M240.5 67v9M237 72.5h9M241.5 68v9M238 71.5h9M242.5 67v9M238 70.5h9M242.5 66v9M239 71.5h9M243.5 67v9M239 72.5h9M243.5 68v9M240 72.5h9M244.5 68v9M240 71.5h9M244.5 67v9M241 72.5h9M245.5 68v9M242 73.5h9M246.5 69v9M243 71.5h9M247.5 67v9M243 73.5h9M247.5 69v9M244 72.5h9M248.5 68v9M244 73.5h9M248.5 69v9M245 73.5h9M249.5 69v9M245 72.5h9M249.5 68v9M246 73.5h9M250.5 69v9M247 74.5h9M251.5 70v9M247 73.5h9M251.5 69v9M248 73.5h9M252.5 69v9M249 73.5h9M253.5 69v9M249 74.5h9M253.5 70v9M250 74.5h9M254.5 70v9M251 73.5h9M255.5 69v9M251 74.5h9M255.5 70v9M252 74.5h9M256.5 70v9M253 75.5h9M257.5 71v9M253 76.5h9M257.5 72v9M254 75.5h9M258.5 71v9M255 74.5h9M259.5 70v9M256 76.5h9M260.5 72v9M256 75.5h9M260.5 71v9M257 75.5h9M261.5 71v9M258 75.5h9M262.5 71v9M259 74.5h9M263.5 70v9M259 75.5h9M263.5 71v9M260 75.5h9M264.5 71v9M260 76.5h9M264.5 72v9M261 75.5h9M265.5 71v9M262 73.5h9M266.5 69v9M262 75.5h9M266.5 71v9M263 76.5h9M267.5 72v9M264 76.5h9M268.5 72v9M264 77.5h9M268.5 73v9M265 77.5h9M269.5 73v9M265 76.5h9M269.5 72v9M266 75.5h9M270.5 71v9M266 76.5h9M270.5 72v9M267 77.5h9M271.5 73v9M268 77.5h9M272.5 73v9M269 76.5h9M273.5 72v9M270 77.5h9M274.5 73v9M271 77.5h9M275.5 73v9M272 77.5h9M276.5 73v9M273 78.5h9M277.5 74v9M274 78.5h9M278.5 74v9M274 77.5h9M278.5 73v9M275 78.5h9M279.5 74v9M276 77.5h9M280.5 73v9M276 78.5h9M280.5 74v9M277 78.5h9M281.5 74v9M277 80.5h9M281.5 76v9M278 78.5h9M282.5 74v9M278 79.5h9M282.5 75v9M279 78.5h9M283.5 74v9M279 80.5h9M283.5 76v9M280 79.5h9M284.5 75v9M281 80.5h9M285.5 76v9M281 79.5h9M285.5 75v9M282 80.5h9M286.5 76v9M282 79.5h9M286.5 75v9M283 80.5h9M287.5 76v9M284 81.5h9M288.5 77v9M284 80.5h9M288.5 76v9M285 81.5h9M289.5 77v9M285 80.5h9M289.5 76v9M286 82.5h9M290.5 78v9M286 81.5h9M290.5 77v9M287 80.5h9M291.5 76v9M288 81.5h9M292.5 77v9M288 80.5h9M292.5 76v9M289 82.5h9M293.5 78v9M289 80.5h9M293.5 76v9M290 81.5h9M294.5 77v9M291 81.5h9M295.5 77v9M291 80.5h9M295.5 76v9M292 81.5h9M296.5 77v9M293 81.5h9M297.5 77v9M293 82.5h9M297.5 78v9M294 81.5h9M298.5 77v9M295 80.5h9M299.5 76v9M295 82.5h9M299.5 78v9M296 81.5h9M300.5 77v9M297 81.5h9M301.5 77v9M298 81.5h9M302.5 77v9M298 83.5h9M302.5 79v9M299 81.5h9M303.5 77v9M300 82.5h9M304.5 78v9M301 82.5h9M305.5 78v9M302 82.5h9M306.5 78v9M303 83.5h9M307.5 79v9M304 82.5h9M308.5 78v9M305 83.5h9M309.5 79v9M305 82.5h9M309.5 78v9M306 82.5h9M310.5 78v9M306 85.5h9M310.5 81v9M307 84.5h9M311.5 80v9M307 83.5h9M311.5 79v9M308 83.5h9M312.5 79v9M309 83.5h9M313.5 79v9M309 84.5h9M313.5 80v9M310 84.5h9M314.5 80v9M311 85.5h9M315.5 81v9M311 84.5h9M315.5 80v9M312 83.5h9M316.5 79v9M312 84.5h9M316.5 80v9M313 83.5h9M317.5 79v9M313 84.5h9M317.5 80v9M314 84.5h9M318.5 80v9M314 85.5h9M318.5 81v9M315 85.5h9M319.5 81v9M316 85.5h9M320.5 81v9M317 85.5h9M321.5 81v9M318 84.5h9M322.5 80v9M318 86.5h9M322.5 82v9M319 85.5h9M323.5 81v9M320 86.5h9M324.5 82v9M320 87.5h9M324.5 83v9M321 86.5h9M325.5 82v9M321 85.5h9M325.5 81v9M322 86.5h9M326.5 82v9M323 86.5h9M327.5 82v9M323 85.5h9M327.5 81v9M324 86.5h9M328.5 82v9M325 87.5h9M329.5 83v9M325 86.5h9M329.5 82v9M326 86.5h9M330.5 82v9M327 87.5h9M331.5 83v9M328 87.5h9M332.5 83v9M328 86.5h9M332.5 82v9M329 86.5h9M333.5 82v9M329 87.5h9M333.5 83v9M330 87.5h9M334.5 83v9M331 87.5h9M335.5 83v9M332 86.5h9M336.5 82v9M332 87.5h9M336.5 83v9M333 87.5h9M337.5 83v9M334 87.5h9M338.5 83v9M335 87.5h9M339.5 83v9M336 87.5h9M340.5 83v9M337 88.5h9M341.5 84v9M338 88.5h9M342.5 84v9M339 88.5h9M343.5 84v9M340 89.5h9M344.5 85v9M340 88.5h9M344.5 84v9M341 89.5h9M345.5 85v9M342 89.5h9M346.5 85v9M342 88.5h9M346.5 84v9M343 89.5h9M347.5 85v9M344 89.5h9M348.5 85v9M345 89.5h9M349.5 85v9M345 90.5h9M349.5 86v9M346 89.5h9M350.5 85v9M346 90.5h9M350.5 86v9M347 89.5h9M351.5 85v9M347 90.5h9M351.5 86v9M348 89.5h9M352.5 85v9M349 89.5h9M353.5 85v9M350 88.5h9M354.5 84v9M350 90.5h9M354.5 86v9M351 90.5h9M355.5 86v9M351 88.5h9M355.5 84v9M352 90.5h9M356.5 86v9M352 88.5h9M356.5 84v9M353 91.5h9M357.5 87v9M353 89.5h9M357.5 85v9M354 90.5h9M358.5 86v9M355 90.5h9M359.5 86v9M355 91.5h9M359.5 87v9M356 91.5h9M360.5 87v9M356 90.5h9M360.5 86v9M357 91.5h9M361.5 87v9M357 90.5h9M361.5 86v9M358 90.5h9M362.5 86v9M359 91.5h9M363.5 87v9M359 90.5h9M363.5 86v9M360 91.5h9M364.5 87v9M360 92.5h9M364.5 88v9M361 91.5h9M365.5 87v9M362 91.5h9M366.5 87v9M363 90.5h9M367.5 86v9M363 91.5h9M367.5 87v9M364 90.5h9M368.5 86v9M364 92.5h9M368.5 88v9M365 91.5h9M369.5 87v9M366 91.5h9M370.5 87v9M367 90.5h9M371.5 86v9M367 92.5h9M371.5 88v9M368 91.5h9M372.5 87v9M369 91.5h9M373.5 87v9M369 92.5h9M373.5 88v9M370 91.5h9M374.5 87v9M370 92.5h9M374.5 88v9M371 92.5h9M375.5 88v9M371 93.5h9M375.5 89v9M372 92.5h9M376.5 88v9M373 92.5h9M377.5 88v9M373 91.5h9M377.5 87v9M374 91.5h9M378.5 87v9M375 91.5h9M379.5 87v9M376 92.5h9M380.5 88v9M377 91.5h9M381.5 87v9M378 92.5h9M382.5 88v9M379 92.5h9M383.5 88v9M380 91.5h9M384.5 87v9M380 93.5h9M384.5 89v9M381 93.5h9M385.5 89v9M381 92.5h9M385.5 88v9M382 92.5h9M386.5 88v9M382 93.5h9M386.5 89v9M383 92.5h9M387.5 88v9M383 93.5h9M387.5 89v9M384 92.5h9M388.5 88v9M384 93.5h9M388.5 89v9M385 92.5h9M389.5 88v9M386 92.5h9M390.5 88v9M387 91.5h9M391.5 87v9M387 93.5h9M391.5 89v9M388 92.5h9M392.5 88v9M388 93.5h9M392.5 89v9M389 93.5h9M393.5 89v9M389 94.5h9M393.5 90v9M390 93.5h9M394.5 89v9M391 94.5h9M395.5 90v9M391 93.5h9M395.5 89v9M392 93.5h9M396.5 89v9M392 94.5h9M396.5 90v9M393 94.5h9M397.5 90v9M393 93.5h9M397.5 89v9M394 95.5h9M398.5 91v9M394 94.5h9M398.5 90v9M395 95.5h9M399.5 91v9M395 94.5h9M399.5 90v9M396 95.5h9M400.5 91v9M397 95.5h9M401.5 91v9M398 95.5h9M402.5 91v9M398 94.5h9M402.5 90v9M399 94.5h9M403.5 90v9M400 95.5h9M404.5 91v9M400 94.5h9M404.5 90v9M401 95.5h9M405.5 91v9M402 95.5h9M406.5 91v9M402 94.5h9M406.5 90v9M403 97.5h9M407.5 93v9M403 95.5h9M407.5 91v9M404 94.5h9M408.5 90v9M405 95.5h9M409.5 91v9M405 96.5h9M409.5 92v9M406 95.5h9M410.5 91v9M407 96.5h9M411.5 92v9M408 95.5h9M412.5 91v9M409 97.5h9M413.5 93v9M409 95.5h9M413.5 91v9M410 96.5h9M414.5 92v9M410 97.5h9M414.5 93v9M411 97.5h9M415.5 93v9M411 96.5h9M415.5 92v9M412 96.5h9M416.5 92v9M413 96.5h9M417.5 92v9M413 97.5h9M417.5 93v9M414 96.5h9M418.5 92v9M414 97.5h9M418.5 93v9M415 96.5h9M419.5 92v9M416 96.5h9M420.5 92v9M416 97.5h9M420.5 93v9M417 96.5h9M421.5 92v9M418 96.5h9M422.5 92v9M418 97.5h9M422.5 93v9M419 96.5h9M423.5 92v9M420 98.5h9M424.5 94v9M420 97.5h9M424.5 93v9M421 95.5h9M425.5 91v9M421 96.5h9M425.5 92v9M422 96.5h9M426.5 92v9M422 98.5h9M426.5 94v9M423 98.5h9M427.5 94v9M423 96.5h9M427.5 92v9M424 96.5h9M428.5 92v9M424 97.5h9M428.5 93v9M425 96.5h9M429.5 92v9M425 95.5h9M429.5 91v9M426 97.5h9M430.5 93v9M427 98.5h9M431.5 94v9M427 97.5h9M431.5 93v9M428 98.5h9M432.5 94v9M428 96.5h9M432.5 92v9M429 96.5h9M433.5 92v9M429 97.5h9M433.5 93v9M430 96.5h9M434.5 92v9M431 97.5h9M435.5 93v9M444 99.5h9M448.5 95v9M445 98.5h9M449.5 94v9M445 100.5h9M449.5 96v9M446 100.5h9M450.5 96v9M446 99.5h9M450.5 95v9M447 98.5h9M451.5 94v9M448 100.5h9M452.5 96v9M448 98.5h9M452.5 94v9M449 99.5h9M453.5 95v9M450 99.5h9M454.5 95v9M451 99.5h9M455.5 95v9M451 101.5h9M455.5 97v9M452 99.5h9M456.5 95v9M453 101.5h9M457.5 97v9M453 98.5h9M457.5 94v9M454 99.5h9M458.5 95v9M455 98.5h9M459.5 94v9M456 98.5h9M460.5 94v9M456 99.5h9M460.5 95v9M457 100.5h9M461.5 96v9M458 99.5h9M462.5 95v9M458 98.5h9M462.5 94v9M459 99.5h9M463.5 95v9M460 98.5h9M464.5 94v9M461 99.5h9M465.5 95v9M461 98.5h9M465.5 94v9M462 99.5h9M466.5 95v9M463 99.5h9M467.5 95v9M464 99.5h9M468.5 95v9M465 100.5h9M469.5 96v9M465 99.5h9M469.5 95v9M466 100.5h9M470.5 96v9M466 99.5h9M470.5 95v9M467 100.5h9M471.5 96v9M467 99.5h9M471.5 95v9M468 98.5h9M472.5 94v9M468 99.5h9M472.5 95v9M469 99.5h9M473.5 95v9M470 99.5h9M474.5 95v9M470 100.5h9M474.5 96v9M471 99.5h9M475.5 95v9M472 99.5h9M476.5 95v9M472 98.5h9M476.5 94v9M473 100.5h9M477.5 96v9M473 99.5h9M477.5 95v9M474 100.5h9M478.5 96v9M474 99.5h9M478.5 95v9M475 99.5h9M479.5 95v9M475 98.5h9M479.5 94v9M476 98.5h9M480.5 94v9M476 99.5h9M480.5 95v9M477 99.5h9M481.5 95v9M478 99.5h9M482.5 95v9M479 99.5h9M483.5 95v9M480 100.5h9M484.5 96v9M480 99.5h9M484.5 95v9M481 99.5h9M485.5 95v9M482 99.5h9M486.5 95v9M482 100.5h9M486.5 96v9M483 101.5h9M487.5 97v9M483 100.5h9M487.5 96v9M484 100.5h9M488.5 96v9M485 102.5h9M489.5 98v9M485 100.5h9M489.5 96v9M486 98.5h9M490.5 94v9M486 99.5h9M490.5 95v9M487 100.5h9M491.5 96v9M488 101.5h9M492.5 97v9M488 100.5h9M492.5 96v9M489 100.5h9M493.5 96v9M490 100.5h9M494.5 96v9M490 99.5h9M494.5 95v9M491 100.5h9M495.5 96v9M492 99.5h9M496.5 95v9M492 100.5h9M496.5 96v9M493 101.5h9M497.5 97v9M493 100.5h9M497.5 96v9M494 100.5h9M498.5 96v9M495 100.5h9M499.5 96v9M495 99.5h9M499.5 95v9M496 98.5h9M500.5 94v9M496 100.5h9M500.5 96v9M497 100.5h9M501.5 96v9M497 101.5h9M501.5 97v9M498 101.5h9M502.5 97v9M499 102.5h9M503.5 98v9M499 101.5h9M503.5 97v9M500 100.5h9M504.5 96v9M501 102.5h9M505.5 98v9M501 101.5h9M505.5 97v9M502 101.5h9M506.5 97v9M502 102.5h9M506.5 98v9M503 101.5h9M507.5 97v9M503 102.5h9M507.5 98v9M504 101.5h9M508.5 97v9M504 102.5h9M508.5 98v9M505 101.5h9M509.5 97v9M506 101.5h9M510.5 97v9M506 102.5h9M510.5 98v9M507 102.5h9M511.5 98v9M508 101.5h9M512.5 97v9M508 102.5h9M512.5 98v9M509 101.5h9M513.5 97v9M510 101.5h9M514.5 97v9M511 101.5h9M515.5 97v9M512 101.5h9M516.5 97v9M513 100.5h9M517.5 96v9M513 102.5h9M517.5 98v9M514 101.5h9M518.5 97v9M514 102.5h9M518.5 98v9M515 102.5h9M519.5 98v9M515 101.5h9M519.5 97v9M516 102.5h9M520.5 98v9M517 102.5h9M521.5 98v9M518 102.5h9M522.5 98v9M519 102.5h9M523.5 98v9M520 101.5h9M524.5 97v9M520 102.5h9M524.5 98v9M521 101.5h9M525.5 97v9M521 102.5h9M525.5 98v9M522 103.5h9M526.5 99v9M522 104.5h9M526.5 100v9M523 102.5h9M527.5 98v9M524 101.5h9M528.5 97v9M524 102.5h9M528.5 98v9M525 101.5h9M529.5 97v9M525 102.5h9M529.5 98v9M526 102.5h9M530.5 98v9M527 101.5h9M531.5 97v9M527 102.5h9M531.5 98v9M528 101.5h9M532.5 97v9M528 102.5h9M532.5 98v9M529 101.5h9M533.5 97v9M530 102.5h9M534.5 98v9M530 103.5h9M534.5 99v9M531 102.5h9M535.5 98v9M531 103.5h9M535.5 99v9M532 104.5h9M536.5 100v9M532 102.5h9M536.5 98v9M533 102.5h9M537.5 98v9M533 101.5h9M537.5 97v9M534 101.5h9M538.5 97v9M534 102.5h9M538.5 98v9M535 102.5h9M539.5 98v9M536 102.5h9M540.5 98v9M537 101.5h9M541.5 97v9M538 101.5h9M542.5 97v9M538 102.5h9M542.5 98v9M539 101.5h9M543.5 97v9M539 102.5h9M543.5 98v9M540 101.5h9M544.5 97v9M540 103.5h9M544.5 99v9M541 102.5h9M545.5 98v9M542 102.5h9M546.5 98v9M542 101.5h9M546.5 97v9M543 101.5h9M547.5 97v9M543 102.5h9M547.5 98v9M544 102.5h9M548.5 98v9M545 102.5h9M549.5 98v9M546 102.5h9M550.5 98v9M546 101.5h9M550.5 97v9M547 101.5h9M551.5 97v9M547 103.5h9M551.5 99v9M548 102.5h9M552.5 98v9M548 103.5h9M552.5 99v9M549 102.5h9M553.5 98v9M550 102.5h9M554.5 98v9M550 103.5h9M554.5 99v9M551 103.5h9M555.5 99v9M551 102.5h9M555.5 98v9M552 103.5h9M556.5 99v9M552 102.5h9M556.5 98v9M553 104.5h9M557.5 100v9M553 102.5h9M557.5 98v9M554 102.5h9M558.5 98v9M555 104.5h9M559.5 100v9M555 102.5h9M559.5 98v9M556 102.5h9M560.5 98v9M557 103.5h9M561.5 99v9M557 102.5h9M561.5 98v9M558 103.5h9M562.5 99v9M559 103.5h9M563.5 99v9M559 102.5h9M563.5 98v9M100 61.5h9M104.5 57v9M100 68.5h9M104.5 64v9M101 85.5h9M105.5 81v9M100 113.5h9M104.5 109v9M101 113.5h9M105.5 109v9M100 112.5h9M104.5 108v9M107 113.5h9M111.5 109v9M119 45.5h9M123.5 41v9M116 38.5h9M120.5 34v9M165 32.5h9M169.5 28v9M163 34.5h9M167.5 30v9M154 41.5h9M158.5 37v9M189 42.5h9M193.5 38v9M196 52.5h9M200.5 48v9M119 27.5h9M123.5 23v9M101 121.5h9M105.5 117v9M107 123.5h9M111.5 119v9M98 126.5h9M102.5 122v9M99 126.5h9M103.5 122v9M99 124.5h9M103.5 120v9M149 124.5h9M153.5 120v9M202 67.5h9M206.5 63v9M217 51.5h9M221.5 47v9M227 53.5h9M231.5 49v9M241 58.5h9M245.5 54v9M253 58.5h9M257.5 54v9M267 63.5h9M271.5 59v9M283 72.5h9M287.5 68v9M294 70.5h9M298.5 66v9M298 72.5h9M302.5 68v9M324 76.5h9M328.5 72v9M329 77.5h9M333.5 73v9M264 103.5h9M268.5 99v9M265 103.5h9M269.5 99v9M280 104.5h9M284.5 100v9M281 104.5h9M285.5 100v9M313 107.5h9M317.5 103v9M316 107.5h9M320.5 103v9M221 118.5h9M225.5 114v9M275 118.5h9M279.5 114v9M312 121.5h9M316.5 117v9M343 82.5h9M347.5 78v9M359 81.5h9M363.5 77v9M363 81.5h9M367.5 77v9M375 83.5h9M379.5 79v9M392 85.5h9M396.5 81v9M418 83.5h9M422.5 79v9M420 88.5h9M424.5 84v9M431 92.5h9M435.5 88v9M372 99.5h9M376.5 95v9M372 103.5h9M376.5 99v9M387 99.5h9M391.5 95v9M389 104.5h9M393.5 100v9M381 109.5h9M385.5 105v9M386 110.5h9M390.5 106v9M403 111.5h9M407.5 107v9M404 111.5h9M408.5 107v9M405 111.5h9M409.5 107v9M398 120.5h9M402.5 116v9M346 122.5h9M350.5 118v9M447 118.5h9M451.5 114v9M456 120.5h9M460.5 116v9M517 30.5h9M521.5 26v9M480 93.5h9M484.5 89v9M531 94.5h9M535.5 90v9M493 95.5h9M497.5 91v9M518 96.5h9M522.5 92v9M547 112.5h9M551.5 108v9M550 112.5h9M554.5 108v9M552 112.5h9M556.5 108v9M556 112.5h9M560.5 108v9M559 112.5h9M563.5 108v9M487 119.5h9M491.5 115v9M514 119.5h9M518.5 115v9M543 119.5h9M547.5 115v9M106 19.5h9M110.5 15v9M108 20.5h9M112.5 16v9M109 18.5h9M113.5 14v9M112 19.5h9M116.5 15v9M115 19.5h9M119.5 15v9"/></g>
<g clip-path="url(#c1)"><path fill="none" stroke="#fff" stroke-width="1" d="M100 183.5h9M104.5 179v9M100 184.5h9M104.5 180v9M101 184.5h9M105.5 180v9M101 185.5h9M105.5 181v9M104 189.5h9M108.5 185v9M105 189.5h9M109.5 185v9M106 194.5h9M110.5 190v9M106 191.5h9M110.5 187v9M107 192.5h9M111.5 188v9M107 193.5h9M111.5 189v9M108 192.5h9M112.5 188v9M108 191.5h9M112.5 187v9M109 192.5h9M113.5 188v9M110 194.5h9M114.5 190v9M111 194.5h9M115.5 190v9M111 195.5h9M115.5 191v9M112 195.5h9M116.5 191v9M112 193.5h9M116.5 189v9M113 196.5h9M117.5 192v9M114 196.5h9M118.5 192v9M114 195.5h9M118.5 191v9M115 195.5h9M119.5 191v9M116 195.5h9M120.5 191v9M116 193.5h9M120.5 189v9M117 194.5h9M121.5 190v9M117 195.5h9M121.5 191v9M118 193.5h9M122.5 189v9M118 198.5h9M122.5 194v9M119 194.5h9M123.5 190v9M119 197.5h9M123.5 193v9M120 198.5h9M124.5 194v9M121 197.5h9M125.5 193v9M122 197.5h9M126.5 193v9M122 199.5h9M126.5 195v9M123 200.5h9M127.5 196v9M123 198.5h9M127.5 194v9M124 200.5h9M128.5 196v9M124 199.5h9M128.5 195v9M125 199.5h9M129.5 195v9M126 199.5h9M130.5 195v9M127 200.5h9M131.5 196v9M127 199.5h9M131.5 195v9M128 199.5h9M132.5 195v9M128 198.5h9M132.5 194v9M129 199.5h9M133.5 195v9M130 199.5h9M134.5 195v9M131 198.5h9M135.5 194v9M131 201.5h9M135.5 197v9M132 198.5h9M136.5 194v9M133 201.5h9M137.5 197v9M133 197.5h9M137.5 193v9M134 202.5h9M138.5 198v9M135 201.5h9M139.5 197v9M135 203.5h9M139.5 199v9M136 201.5h9M140.5 197v9M136 200.5h9M140.5 196v9M137 201.5h9M141.5 197v9M137 202.5h9M141.5 198v9M138 202.5h9M142.5 198v9M138 201.5h9M142.5 197v9M139 201.5h9M143.5 197v9M139 202.5h9M143.5 198v9M140 202.5h9M144.5 198v9M141 201.5h9M145.5 197v9M141 204.5h9M145.5 200v9M142 206.5h9M146.5 202v9M142 201.5h9M146.5 197v9M143 207.5h9M147.5 203v9M143 201.5h9M147.5 197v9M144 206.5h9M148.5 202v9M144 205.5h9M148.5 201v9M145 206.5h9M149.5 202v9M145 205.5h9M149.5 201v9M146 205.5h9M150.5 201v9M146 204.5h9M150.5 200v9M147 209.5h9M151.5 205v9M147 206.5h9M151.5 202v9M148 207.5h9M152.5 203v9M148 205.5h9M152.5 201v9M149 203.5h9M153.5 199v9M150 205.5h9M154.5 201v9M150 203.5h9M154.5 199v9M151 204.5h9M155.5 200v9M151 206.5h9M155.5 202v9M152 207.5h9M156.5 203v9M152 206.5h9M156.5 202v9M153 205.5h9M157.5 201v9M154 207.5h9M158.5 203v9M154 208.5h9M158.5 204v9M155 206.5h9M159.5 202v9M156 206.5h9M160.5 202v9M156 202.5h9M160.5 198v9M157 208.5h9M161.5 204v9M157 206.5h9M161.5 202v9M158 206.5h9M162.5 202v9M159 205.5h9M163.5 201v9M160 206.5h9M164.5 202v9M160 205.5h9M164.5 201v9M161 208.5h9M165.5 204v9M161 207.5h9M165.5 203v9M163 207.5h9M167.5 203v9M164 208.5h9M168.5 204v9M164 204.5h9M168.5 200v9M165 208.5h9M169.5 204v9M165 207.5h9M169.5 203v9M166 209.5h9M170.5 205v9M166 206.5h9M170.5 202v9M167 207.5h9M171.5 203v9M167 210.5h9M171.5 206v9M168 206.5h9M172.5 202v9M169 207.5h9M173.5 203v9M169 205.5h9M173.5 201v9M170 207.5h9M174.5 203v9M170 208.5h9M174.5 204v9M171 206.5h9M175.5 202v9M171 204.5h9M175.5 200v9M172 209.5h9M176.5 205v9M172 207.5h9M176.5 203v9M173 208.5h9M177.5 204v9M173 203.5h9M177.5 199v9M174 206.5h9M178.5 202v9M174 207.5h9M178.5 203v9M175 208.5h9M179.5 204v9M175 211.5h9M179.5 207v9M176 205.5h9M180.5 201v9M176 206.5h9M180.5 202v9M177 206.5h9M181.5 202v9M178 211.5h9M182.5 207v9M178 207.5h9M182.5 203v9M179 205.5h9M183.5 201v9M179 206.5h9M183.5 202v9M180 207.5h9M184.5 203v9M180 206.5h9M184.5 202v9M181 205.5h9M185.5 201v9M181 206.5h9M185.5 202v9M182 205.5h9M186.5 201v9M182 206.5h9M186.5 202v9M183 207.5h9M187.5 203v9M183 204.5h9M187.5 200v9M184 206.5h9M188.5 202v9M185 207.5h9M189.5 203v9M185 205.5h9M189.5 201v9M186 206.5h9M190.5 202v9M186 207.5h9M190.5 203v9M187 208.5h9M191.5 204v9M187 207.5h9M191.5 203v9M188 203.5h9M192.5 199v9M188 201.5h9M192.5 197v9M189 207.5h9M193.5 203v9M189 206.5h9M193.5 202v9M190 207.5h9M194.5 203v9M190 205.5h9M194.5 201v9M191 204.5h9M195.5 200v9M191 200.5h9M195.5 196v9M192 207.5h9M196.5 203v9M192 203.5h9M196.5 199v9M193 205.5h9M197.5 201v9M193 204.5h9M197.5 200v9M194 203.5h9M198.5 199v9M194 204.5h9M198.5 200v9M195 205.5h9M199.5 201v9M196 208.5h9M200.5 204v9M196 204.5h9M200.5 200v9M197 202.5h9M201.5 198v9M197 203.5h9M201.5 199v9M198 202.5h9M202.5 198v9M198 203.5h9M202.5 199v9M199 204.5h9M203.5 200v9M199 203.5h9M203.5 199v9M200 203.5h9M204.5 199v9M201 202.5h9M205.5 198v9M201 203.5h9M205.5 199v9M202 202.5h9M206.5 198v9M202 203.5h9M206.5 199v9M203 203.5h9M207.5 199v9M203 202.5h9M207.5 198v9M205 205.5h9M209.5 201v9M205 203.5h9M209.5 199v9M206 202.5h9M210.5 198v9M206 205.5h9M210.5 201v9M207 200.5h9M211.5 196v9M207 202.5h9M211.5 198v9M208 204.5h9M212.5 200v9M208 201.5h9M212.5 197v9M209 204.5h9M213.5 200v9M209 201.5h9M213.5 197v9M210 203.5h9M214.5 199v9M211 203.5h9M215.5 199v9M212 199.5h9M216.5 195v9M212 205.5h9M216.5 201v9M213 207.5h9M217.5 203v9M213 204.5h9M217.5 200v9M214 199.5h9M218.5 195v9M214 203.5h9M218.5 199v9M215 200.5h9M219.5 196v9M215 202.5h9M219.5 198v9M216 204.5h9M220.5 200v9M217 203.5h9M221.5 199v9M217 207.5h9M221.5 203v9M218 203.5h9M222.5 199v9M219 203.5h9M223.5 199v9M219 201.5h9M223.5 197v9M220 202.5h9M224.5 198v9M220 204.5h9M224.5 200v9M221 201.5h9M225.5 197v9M221 202.5h9M225.5 198v9M222 203.5h9M226.5 199v9M222 201.5h9M226.5 197v9M223 202.5h9M227.5 198v9M225 202.5h9M229.5 198v9M225 204.5h9M229.5 200v9M226 203.5h9M230.5 199v9M226 202.5h9M230.5 198v9M227 202.5h9M231.5 198v9M228 204.5h9M232.5 200v9M228 200.5h9M232.5 196v9M229 204.5h9M233.5 200v9M230 203.5h9M234.5 199v9M231 202.5h9M235.5 198v9M231 204.5h9M235.5 200v9M232 202.5h9M236.5 198v9M233 202.5h9M237.5 198v9M233 204.5h9M237.5 200v9M234 203.5h9M238.5 199v9M234 204.5h9M238.5 200v9M235 204.5h9M239.5 200v9M235 202.5h9M239.5 198v9M236 205.5h9M240.5 201v9M236 204.5h9M240.5 200v9M237 202.5h9M241.5 198v9M237 206.5h9M241.5 202v9M238 204.5h9M242.5 200v9M238 203.5h9M242.5 199v9M239 203.5h9M243.5 199v9M239 204.5h9M243.5 200v9M240 202.5h9M244.5 198v9M240 204.5h9M244.5 200v9M241 200.5h9M245.5 196v9M241 199.5h9M245.5 195v9M242 202.5h9M246.5 198v9M243 202.5h9M247.5 198v9M243 201.5h9M247.5 197v9M244 201.5h9M248.5 197v9M244 205.5h9M248.5 201v9M245 200.5h9M249.5 196v9M245 202.5h9M249.5 198v9M246 203.5h9M250.5 199v9M246 202.5h9M250.5 198v9M247 202.5h9M251.5 198v9M247 201.5h9M251.5 197v9M248 200.5h9M252.5 196v9M248 202.5h9M252.5 198v9M249 205.5h9M253.5 201v9M249 203.5h9M253.5 199v9M250 202.5h9M254.5 198v9M250 200.5h9M254.5 196v9M251 204.5h9M255.5 200v9M251 200.5h9M255.5 196v9M252 202.5h9M256.5 198v9M253 203.5h9M257.5 199v9M253 200.5h9M257.5 196v9M254 201.5h9M258.5 197v9M254 200.5h9M258.5 196v9M255 199.5h9M259.5 195v9M255 203.5h9M259.5 199v9M256 203.5h9M260.5 199v9M256 201.5h9M260.5 197v9M257 203.5h9M261.5 199v9M258 205.5h9M262.5 201v9M258 203.5h9M262.5 199v9M259 201.5h9M263.5 197v9M259 203.5h9M263.5 199v9M260 201.5h9M264.5 197v9M260 203.5h9M264.5 199v9M261 203.5h9M265.5 199v9M261 201.5h9M265.5 197v9M262 201.5h9M266.5 197v9M263 201.5h9M267.5 197v9M263 199.5h9M267.5 195v9M264 201.5h9M268.5 197v9M264 199.5h9M268.5 195v9M265 202.5h9M269.5 198v9M266 204.5h9M270.5 200v9M266 203.5h9M270.5 199v9M267 202.5h9M271.5 198v9M268 202.5h9M272.5 198v9M268 200.5h9M272.5 196v9M269 201.5h9M273.5 197v9M269 202.5h9M273.5 198v9M270 204.5h9M274.5 200v9M270 198.5h9M274.5 194v9M271 200.5h9M275.5 196v9M271 202.5h9M275.5 198v9M272 201.5h9M276.5 197v9M272 205.5h9M276.5 201v9M273 201.5h9M277.5 197v9M273 202.5h9M277.5 198v9M274 204.5h9M278.5 200v9M274 202.5h9M278.5 198v9M275 202.5h9M279.5 198v9M275 200.5h9M279.5 196v9M276 204.5h9M280.5 200v9M276 200.5h9M280.5 196v9M277 201.5h9M281.5 197v9M278 200.5h9M282.5 196v9M278 202.5h9M282.5 198v9M279 197.5h9M283.5 193v9M279 201.5h9M283.5 197v9M280 201.5h9M284.5 197v9M281 201.5h9M285.5 197v9M281 203.5h9M285.5 199v9M282 201.5h9M286.5 197v9M283 201.5h9M287.5 197v9M283 202.5h9M287.5 198v9M284 201.5h9M288.5 197v9M284 202.5h9M288.5 198v9M285 202.5h9M289.5 198v9M286 205.5h9M290.5 201v9M286 202.5h9M290.5 198v9M287 202.5h9M291.5 198v9M287 201.5h9M291.5 197v9M288 201.5h9M292.5 197v9M288 203.5h9M292.5 199v9M289 201.5h9M293.5 197v9M289 202.5h9M293.5 198v9M290 202.5h9M294.5 198v9M290 201.5h9M294.5 197v9M291 203.5h9M295.5 199v9M292 202.5h9M296.5 198v9M292 203.5h9M296.5 199v9M293 200.5h9M297.5 196v9M293 201.5h9M297.5 197v9M294 202.5h9M298.5 198v9M294 200.5h9M298.5 196v9M295 200.5h9M299.5 196v9M295 201.5h9M299.5 197v9M296 200.5h9M300.5 196v9M296 202.5h9M300.5 198v9M297 204.5h9M301.5 200v9M297 201.5h9M301.5 197v9M298 202.5h9M302.5 198v9M298 201.5h9M302.5 197v9M299 203.5h9M303.5 199v9M299 200.5h9M303.5 196v9M300 202.5h9M304.5 198v9M301 201.5h9M305.5 197v9M302 202.5h9M306.5 198v9M302 200.5h9M306.5 196v9M303 202.5h9M307.5 198v9M303 203.5h9M307.5 199v9M304 203.5h9M308.5 199v9M304 200.5h9M308.5 196v9M305 204.5h9M309.5 200v9M306 203.5h9M310.5 199v9M306 201.5h9M310.5 197v9M307 203.5h9M311.5 199v9M307 200.5h9M311.5 196v9M308 202.5h9M312.5 198v9M308 200.5h9M312.5 196v9M309 206.5h9M313.5 202v9M309 201.5h9M313.5 197v9M310 200.5h9M314.5 196v9M310 203.5h9M314.5 199v9M311 200.5h9M315.5 196v9M311 201.5h9M315.5 197v9M312 202.5h9M316.5 198v9M313 203.5h9M317.5 199v9M313 198.5h9M317.5 194v9M314 203.5h9M318.5 199v9M314 202.5h9M318.5 198v9M315 201.5h9M319.5 197v9M315 204.5h9M319.5 200v9M316 202.5h9M320.5 198v9M316 200.5h9M320.5 196v9M317 205.5h9M321.5 201v9M317 202.5h9M321.5 198v9M318 203.5h9M322.5 199v9M319 201.5h9M323.5 197v9M319 203.5h9M323.5 199v9M320 202.5h9M324.5 198v9M321 202.5h9M325.5 198v9M321 205.5h9M325.5 201v9M322 201.5h9M326.5 197v9M322 202.5h9M326.5 198v9M323 201.5h9M327.5 197v9M323 202.5h9M327.5 198v9M324 202.5h9M328.5 198v9M325 201.5h9M329.5 197v9M325 199.5h9M329.5 195v9M326 202.5h9M330.5 198v9M326 201.5h9M330.5 197v9M327 201.5h9M331.5 197v9M327 199.5h9M331.5 195v9M328 199.5h9M332.5 195v9M328 198.5h9M332.5 194v9M329 202.5h9M333.5 198v9M329 199.5h9M333.5 195v9M330 199.5h9M334.5 195v9M330 202.5h9M334.5 198v9M331 198.5h9M335.5 194v9M331 199.5h9M335.5 195v9M332 202.5h9M336.5 198v9M332 200.5h9M336.5 196v9M333 199.5h9M337.5 195v9M333 201.5h9M337.5 197v9M334 202.5h9M338.5 198v9M334 200.5h9M338.5 196v9M335 200.5h9M339.5 196v9M335 203.5h9M339.5 199v9M336 201.5h9M340.5 197v9M336 203.5h9M340.5 199v9M337 202.5h9M341.5 198v9M337 201.5h9M341.5 197v9M338 203.5h9M342.5 199v9M338 204.5h9M342.5 200v9M339 206.5h9M343.5 202v9M339 202.5h9M343.5 198v9M340 204.5h9M344.5 200v9M340 202.5h9M344.5 198v9M341 205.5h9M345.5 201v9M342 203.5h9M346.5 199v9M342 205.5h9M346.5 201v9M343 204.5h9M347.5 200v9M343 206.5h9M347.5 202v9M344 203.5h9M348.5 199v9M344 207.5h9M348.5 203v9M345 206.5h9M349.5 202v9M345 204.5h9M349.5 200v9M346 205.5h9M350.5 201v9M347 205.5h9M351.5 201v9M347 200.5h9M351.5 196v9M348 200.5h9M352.5 196v9M348 203.5h9M352.5 199v9M349 202.5h9M353.5 198v9M349 204.5h9M353.5 200v9M350 203.5h9M354.5 199v9M350 204.5h9M354.5 200v9M351 202.5h9M355.5 198v9M351 204.5h9M355.5 200v9M352 203.5h9M356.5 199v9M352 201.5h9M356.5 197v9M353 200.5h9M357.5 196v9M353 202.5h9M357.5 198v9M354 203.5h9M358.5 199v9M354 202.5h9M358.5 198v9M355 197.5h9M359.5 193v9M355 202.5h9M359.5 198v9M356 200.5h9M360.5 196v9M356 196.5h9M360.5 192v9M357 199.5h9M361.5 195v9M357 198.5h9M361.5 194v9M358 199.5h9M362.5 195v9M358 201.5h9M362.5 197v9M359 199.5h9M363.5 195v9M360 198.5h9M364.5 194v9M360 196.5h9M364.5 192v9M361 198.5h9M365.5 194v9M361 197.5h9M365.5 193v9M362 198.5h9M366.5 194v9M363 199.5h9M367.5 195v9M363 198.5h9M367.5 194v9M364 199.5h9M368.5 195v9M364 196.5h9M368.5 192v9M365 196.5h9M369.5 192v9M365 199.5h9M369.5 195v9M366 196.5h9M370.5 192v9M366 197.5h9M370.5 193v9M367 198.5h9M371.5 194v9M367 196.5h9M371.5 192v9M368 195.5h9M372.5 191v9M368 197.5h9M372.5 193v9M369 197.5h9M373.5 193v9M369 196.5h9M373.5 192v9M370 195.5h9M374.5 191v9M370 196.5h9M374.5 192v9M371 192.5h9M375.5 188v9M371 199.5h9M375.5 195v9M372 197.5h9M376.5 193v9M373 194.5h9M377.5 190v9M373 195.5h9M377.5 191v9M374 195.5h9M378.5 191v9M375 198.5h9M379.5 194v9M375 195.5h9M379.5 191v9M376 193.5h9M380.5 189v9M376 195.5h9M380.5 191v9M377 194.5h9M381.5 190v9M377 196.5h9M381.5 192v9M378 195.5h9M382.5 191v9M379 195.5h9M383.5 191v9M380 195.5h9M384.5 191v9M381 195.5h9M385.5 191v9M381 193.5h9M385.5 189v9M382 195.5h9M386.5 191v9M382 196.5h9M386.5 192v9M383 192.5h9M387.5 188v9M383 194.5h9M387.5 190v9M384 195.5h9M388.5 191v9M384 193.5h9M388.5 189v9M385 193.5h9M389.5 189v9M385 194.5h9M389.5 190v9M386 194.5h9M390.5 190v9M387 193.5h9M391.5 189v9M387 194.5h9M391.5 190v9M388 192.5h9M392.5 188v9M388 193.5h9M392.5 189v9M389 193.5h9M393.5 189v9M389 194.5h9M393.5 190v9M390 194.5h9M394.5 190v9M390 192.5h9M394.5 188v9M391 189.5h9M395.5 185v9M391 198.5h9M395.5 194v9M392 192.5h9M396.5 188v9M392 194.5h9M396.5 190v9M393 196.5h9M397.5 192v9M393 195.5h9M397.5 191v9M394 193.5h9M398.5 189v9M394 194.5h9M398.5 190v9M395 194.5h9M399.5 190v9M395 198.5h9M399.5 194v9M396 193.5h9M400.5 189v9M396 194.5h9M400.5 190v9M397 197.5h9M401.5 193v9M397 196.5h9M401.5 192v9M398 189.5h9M402.5 185v9M398 192.5h9M402.5 188v9M399 194.5h9M403.5 190v9M399 193.5h9M403.5 189v9M400 191.5h9M404.5 187v9M400 192.5h9M404.5 188v9M401 195.5h9M405.5 191v9M402 194.5h9M406.5 190v9M403 195.5h9M407.5 191v9M404 195.5h9M408.5 191v9M404 194.5h9M408.5 190v9M405 195.5h9M409.5 191v9M406 194.5h9M410.5 190v9M407 193.5h9M411.5 189v9M407 194.5h9M411.5 190v9M408 194.5h9M412.5 190v9M408 192.5h9M412.5 188v9M409 192.5h9M413.5 188v9M410 195.5h9M414.5 191v9M410 194.5h9M414.5 190v9M411 192.5h9M415.5 188v9M411 194.5h9M415.5 190v9M412 194.5h9M416.5 190v9M412 192.5h9M416.5 188v9M413 195.5h9M417.5 191v9M413 193.5h9M417.5 189v9M414 195.5h9M418.5 191v9M414 194.5h9M418.5 190v9M415 197.5h9M419.5 193v9M415 196.5h9M419.5 192v9M416 194.5h9M420.5 190v9M416 196.5h9M420.5 192v9M417 191.5h9M421.5 187v9M417 194.5h9M421.5 190v9M418 198.5h9M422.5 194v9M418 196.5h9M422.5 192v9M419 192.5h9M423.5 188v9M419 195.5h9M423.5 191v9M420 192.5h9M424.5 188v9M420 196.5h9M424.5 192v9M421 196.5h9M425.5 192v9M421 194.5h9M425.5 190v9M422 195.5h9M426.5 191v9M422 193.5h9M426.5 189v9M423 193.5h9M427.5 189v9M423 192.5h9M427.5 188v9M424 195.5h9M428.5 191v9M424 194.5h9M428.5 190v9M425 194.5h9M429.5 190v9M426 194.5h9M430.5 190v9M427 194.5h9M431.5 190v9M427 193.5h9M431.5 189v9M428 191.5h9M432.5 187v9M428 195.5h9M432.5 191v9M429 193.5h9M433.5 189v9M429 195.5h9M433.5 191v9M430 193.5h9M434.5 189v9M430 192.5h9M434.5 188v9M431 192.5h9M435.5 188v9M431 194.5h9M435.5 190v9M440 193.5h9M444.5 189v9M440 194.5h9M444.5 190v9M441 194.5h9M445.5 190v9M441 193.5h9M445.5 189v9M442 196.5h9M446.5 192v9M442 193.5h9M446.5 189v9M443 195.5h9M447.5 191v9M443 194.5h9M447.5 190v9M444 193.5h9M448.5 189v9M444 194.5h9M448.5 190v9M445 194.5h9M449.5 190v9M445 195.5h9M449.5 191v9M446 192.5h9M450.5 188v9M446 194.5h9M450.5 190v9M447 193.5h9M451.5 189v9M447 192.5h9M451.5 188v9M448 191.5h9M452.5 187v9M448 193.5h9M452.5 189v9M449 192.5h9M453.5 188v9M449 190.5h9M453.5 186v9M450 190.5h9M454.5 186v9M450 195.5h9M454.5 191v9M451 190.5h9M455.5 186v9M451 189.5h9M455.5 185v9M452 191.5h9M456.5 187v9M452 190.5h9M456.5 186v9M453 191.5h9M457.5 187v9M453 190.5h9M457.5 186v9M454 191.5h9M458.5 187v9M454 189.5h9M458.5 185v9M455 189.5h9M459.5 185v9M456 190.5h9M460.5 186v9M457 190.5h9M461.5 186v9M458 191.5h9M462.5 187v9M458 186.5h9M462.5 182v9M459 191.5h9M463.5 187v9M459 188.5h9M463.5 184v9M460 190.5h9M464.5 186v9M461 190.5h9M465.5 186v9M461 191.5h9M465.5 187v9M462 188.5h9M466.5 184v9M462 189.5h9M466.5 185v9M463 187.5h9M467.5 183v9M463 189.5h9M467.5 185v9M464 188.5h9M468.5 184v9M465 189.5h9M469.5 185v9M466 188.5h9M470.5 184v9M467 187.5h9M471.5 183v9M467 188.5h9M471.5 184v9M468 189.5h9M472.5 185v9M468 191.5h9M472.5 187v9M469 188.5h9M473.5 184v9M469 185.5h9M473.5 181v9M470 184.5h9M474.5 180v9M470 188.5h9M474.5 184v9M471 186.5h9M475.5 182v9M472 187.5h9M476.5 183v9M472 190.5h9M476.5 186v9M473 187.5h9M477.5 183v9M473 188.5h9M477.5 184v9M474 186.5h9M478.5 182v9M474 187.5h9M478.5 183v9M475 186.5h9M479.5 182v9M475 185.5h9M479.5 181v9M476 186.5h9M480.5 182v9M476 184.5h9M480.5 180v9M477 185.5h9M481.5 181v9M477 189.5h9M481.5 185v9M478 185.5h9M482.5 181v9M478 182.5h9M482.5 178v9M479 185.5h9M483.5 181v9M480 185.5h9M484.5 181v9M480 186.5h9M484.5 182v9M481 185.5h9M485.5 181v9M481 184.5h9M485.5 180v9M482 186.5h9M486.5 182v9M483 185.5h9M487.5 181v9M483 186.5h9M487.5 182v9M484 185.5h9M488.5 181v9M484 183.5h9M488.5 179v9M485 184.5h9M489.5 180v9M485 186.5h9M489.5 182v9M486 186.5h9M490.5 182v9M486 182.5h9M490.5 178v9M487 184.5h9M491.5 180v9M488 184.5h9M492.5 180v9M488 182.5h9M492.5 178v9M489 185.5h9M493.5 181v9M490 182.5h9M494.5 178v9M490 185.5h9M494.5 181v9M491 185.5h9M495.5 181v9M491 182.5h9M495.5 178v9M492 184.5h9M496.5 180v9M492 182.5h9M496.5 178v9M493 183.5h9M497.5 179v9M493 182.5h9M497.5 178v9M494 179.5h9M498.5 175v9M494 181.5h9M498.5 177v9M495 180.5h9M499.5 176v9M495 182.5h9M499.5 178v9M496 182.5h9M500.5 178v9M497 182.5h9M501.5 178v9M497 183.5h9M501.5 179v9M498 184.5h9M502.5 180v9M498 185.5h9M502.5 181v9M499 184.5h9M503.5 180v9M499 182.5h9M503.5 178v9M500 178.5h9M504.5 174v9M500 182.5h9M504.5 178v9M501 182.5h9M505.5 178v9M501 185.5h9M505.5 181v9M502 183.5h9M506.5 179v9M502 184.5h9M506.5 180v9M503 183.5h9M507.5 179v9M503 184.5h9M507.5 180v9M504 182.5h9M508.5 178v9M504 181.5h9M508.5 177v9M505 181.5h9M509.5 177v9M505 183.5h9M509.5 179v9M506 185.5h9M510.5 181v9M506 182.5h9M510.5 178v9M507 185.5h9M511.5 181v9M507 184.5h9M511.5 180v9M508 182.5h9M512.5 178v9M509 183.5h9M513.5 179v9M509 182.5h9M513.5 178v9M510 183.5h9M514.5 179v9M510 184.5h9M514.5 180v9M511 181.5h9M515.5 177v9M511 182.5h9M515.5 178v9M512 181.5h9M516.5 177v9M512 183.5h9M516.5 179v9M513 184.5h9M517.5 180v9M514 181.5h9M518.5 177v9M514 184.5h9M518.5 180v9M515 183.5h9M519.5 179v9M516 182.5h9M520.5 178v9M516 183.5h9M520.5 179v9M517 182.5h9M521.5 178v9M518 181.5h9M522.5 177v9M519 181.5h9M523.5 177v9M519 180.5h9M523.5 176v9M520 182.5h9M524.5 178v9M520 181.5h9M524.5 177v9M521 180.5h9M525.5 176v9M521 177.5h9M525.5 173v9M522 179.5h9M526.5 175v9M522 180.5h9M526.5 176v9M523 179.5h9M527.5 175v9M523 181.5h9M527.5 177v9M524 179.5h9M528.5 175v9M524 180.5h9M528.5 176v9M525 179.5h9M529.5 175v9M525 181.5h9M529.5 177v9M526 176.5h9M530.5 172v9M526 181.5h9M530.5 177v9M527 182.5h9M531.5 178v9M527 180.5h9M531.5 176v9M528 181.5h9M532.5 177v9M529 181.5h9M533.5 177v9M529 179.5h9M533.5 175v9M530 180.5h9M534.5 176v9M530 179.5h9M534.5 175v9M531 179.5h9M535.5 175v9M531 180.5h9M535.5 176v9M532 181.5h9M536.5 177v9M532 178.5h9M536.5 174v9M533 178.5h9M537.5 174v9M533 179.5h9M537.5 175v9M534 178.5h9M538.5 174v9M534 179.5h9M538.5 175v9M535 177.5h9M539.5 173v9M535 179.5h9M539.5 175v9M536 178.5h9M540.5 174v9M536 180.5h9M540.5 176v9M537 181.5h9M541.5 177v9M537 177.5h9M541.5 173v9M538 179.5h9M542.5 175v9M538 178.5h9M542.5 174v9M539 180.5h9M543.5 176v9M539 178.5h9M543.5 174v9M540 180.5h9M544.5 176v9M541 178.5h9M545.5 174v9M542 179.5h9M546.5 175v9M543 180.5h9M547.5 176v9M543 178.5h9M547.5 174v9M544 180.5h9M548.5 176v9M544 179.5h9M548.5 175v9M545 178.5h9M549.5 174v9M546 178.5h9M550.5 174v9M546 179.5h9M550.5 175v9M547 179.5h9M551.5 175v9M548 179.5h9M552.5 175v9M549 180.5h9M553.5 176v9M549 179.5h9M553.5 175v9M550 178.5h9M554.5 174v9M551 178.5h9M555.5 174v9M551 179.5h9M555.5 175v9M552 178.5h9M556.5 174v9M552 177.5h9M556.5 173v9M553 178.5h9M557.5 174v9M554 177.5h9M558.5 173v9M554 179.5h9M558.5 175v9M555 176.5h9M559.5 172v9M556 177.5h9M560.5 173v9M557 177.5h9M561.5 173v9M557 179.5h9M561.5 175v9M558 178.5h9M562.5 174v9M558 177.5h9M562.5 173v9M559 179.5h9M563.5 175v9M559 178.5h9M563.5 174v9M108 126.5h9M112.5 122v9M97 126.5h9M101.5 122v9M128 139.5h9M132.5 135v9M128 140.5h9M132.5 136v9M130 150.5h9M134.5 146v9M132 148.5h9M136.5 144v9M132 151.5h9M136.5 147v9M101 160.5h9M105.5 156v9M101 170.5h9M105.5 166v9M101 171.5h9M105.5 167v9M120 188.5h9M124.5 184v9M126 188.5h9M130.5 184v9M136 197.5h9M140.5 193v9M162 200.5h9M166.5 196v9M99 183.5h9M103.5 179v9M174 180.5h9M178.5 176v9M201 185.5h9M205.5 181v9M195 188.5h9M199.5 184v9M196 194.5h9M200.5 190v9M119 183.5h9M123.5 179v9M123 184.5h9M127.5 180v9M116 186.5h9M120.5 182v9M142 195.5h9M146.5 191v9M165 198.5h9M169.5 194v9M190 197.5h9M194.5 193v9M107 220.5h9M111.5 216v9M149 221.5h9M153.5 217v9M98 232.5h9M102.5 228v9M99 232.5h9M103.5 228v9M100 232.5h9M104.5 228v9M222 195.5h9M226.5 191v9M251 194.5h9M255.5 190v9M267 192.5h9M271.5 188v9M282 191.5h9M286.5 187v9M283 192.5h9M287.5 188v9M295 194.5h9M299.5 190v9M264 216.5h9M268.5 212v9M265 216.5h9M269.5 212v9M280 217.5h9M284.5 213v9M281 217.5h9M285.5 213v9M313 217.5h9M317.5 213v9M316 216.5h9M320.5 212v9M418 174.5h9M422.5 170v9M360 185.5h9M364.5 181v9M420 183.5h9M424.5 179v9M375 187.5h9M379.5 183v9M398 185.5h9M402.5 181v9M392 186.5h9M396.5 182v9M430 187.5h9M434.5 183v9M456 182.5h9M460.5 178v9M472 181.5h9M476.5 177v9M359 193.5h9M363.5 189v9M342 196.5h9M346.5 192v9M338 197.5h9M342.5 193v9M372 205.5h9M376.5 201v9M372 201.5h9M376.5 197v9M381 210.5h9M385.5 206v9M386 210.5h9M390.5 206v9M389 203.5h9M393.5 199v9M399 200.5h9M403.5 196v9M403 212.5h9M407.5 208v9M404 212.5h9M408.5 208v9M405 212.5h9M409.5 208v9M404 211.5h9M408.5 207v9M404 213.5h9M408.5 209v9M428 200.5h9M432.5 196v9M447 199.5h9M451.5 195v9M447 203.5h9M451.5 199v9M341 211.5h9M345.5 207v9M480 174.5h9M484.5 170v9M487 175.5h9M491.5 171v9M493 175.5h9M497.5 171v9M514 172.5h9M518.5 168v9M522 173.5h9M526.5 169v9M531 169.5h9M535.5 165v9M543 171.5h9M547.5 167v9M518 191.5h9M522.5 187v9M517 187.5h9M521.5 183v9M547 204.5h9M551.5 200v9M549 204.5h9M553.5 200v9M552 204.5h9M556.5 200v9M556 204.5h9M560.5 200v9M559 204.5h9M563.5 200v9"/></g>
<g clip-path="url(#c2)"><path fill="none" stroke="#fff" stroke-width="1" d="M99 338.5h9M103.5 334v9M100 338.5h9M104.5 334v9M101 338.5h9M105.5 334v9M104 338.5h9M108.5 334v9M105 338.5h9M109.5 334v9M106 338.5h9M110.5 334v9M107 338.5h9M111.5 334v9M108 338.5h9M112.5 334v9M109 338.5h9M113.5 334v9M110 338.5h9M114.5 334v9M111 338.5h9M115.5 334v9M112 338.5h9M116.5 334v9M113 338.5h9M117.5 334v9M114 338.5h9M118.5 334v9M115 338.5h9M119.5 334v9M116 338.5h9M120.5 334v9M117 338.5h9M121.5 334v9M118 338.5h9M122.5 334v9M119 338.5h9M123.5 334v9M120 338.5h9M124.5 334v9M121 338.5h9M125.5 334v9M122 338.5h9M126.5 334v9M123 338.5h9M127.5 334v9M124 338.5h9M128.5 334v9M125 338.5h9M129.5 334v9M126 338.5h9M130.5 334v9M127 338.5h9M131.5 334v9M128 338.5h9M132.5 334v9M129 338.5h9M133.5 334v9M130 338.5h9M134.5 334v9M131 338.5h9M135.5 334v9M132 338.5h9M136.5 334v9M133 338.5h9M137.5 334v9M134 338.5h9M138.5 334v9M135 338.5h9M139.5 334v9M136 338.5h9M140.5 334v9M137 338.5h9M141.5 334v9M138 338.5h9M142.5 334v9M139 338.5h9M143.5 334v9M140 338.5h9M144.5 334v9M141 338.5h9M145.5 334v9M142 338.5h9M146.5 334v9M143 338.5h9M147.5 334v9M144 338.5h9M148.5 334v9M145 338.5h9M149.5 334v9M146 338.5h9M150.5 334v9M147 338.5h9M151.5 334v9M148 338.5h9M152.5 334v9M149 338.5h9M153.5 334v9M150 338.5h9M154.5 334v9M151 338.5h9M155.5 334v9M152 338.5h9M156.5 334v9M153 338.5h9M157.5 334v9M154 338.5h9M158.5 334v9M155 338.5h9M159.5 334v9M156 338.5h9M160.5 334v9M157 338.5h9M161.5 334v9M158 338.5h9M162.5 334v9M159 338.5h9M163.5 334v9M160 338.5h9M164.5 334v9M161 338.5h9M165.5 334v9M163 338.5h9M167.5 334v9M164 338.5h9M168.5 334v9M165 338.5h9M169.5 334v9M166 338.5h9M170.5 334v9M167 338.5h9M171.5 334v9M168 338.5h9M172.5 334v9M169 338.5h9M173.5 334v9M170 338.5h9M174.5 334v9M171 338.5h9M175.5 334v9M172 338.5h9M176.5 334v9M173 338.5h9M177.5 334v9M174 338.5h9M178.5 334v9M175 338.5h9M179.5 334v9M176 338.5h9M180.5 334v9M177 338.5h9M181.5 334v9M178 338.5h9M182.5 334v9M179 338.5h9M183.5 334v9M180 338.5h9M184.5 334v9M181 338.5h9M185.5 334v9M182 338.5h9M186.5 334v9M183 338.5h9M187.5 334v9M184 338.5h9M188.5 334v9M185 338.5h9M189.5 334v9M186 338.5h9M190.5 334v9M187 338.5h9M191.5 334v9M188 338.5h9M192.5 334v9M189 338.5h9M193.5 334v9M190 338.5h9M194.5 334v9M191 338.5h9M195.5 334v9M192 338.5h9M196.5 334v9M193 338.5h9M197.5 334v9M194 338.5h9M198.5 334v9M195 338.5h9M199.5 334v9M196 338.5h9M200.5 334v9M197 338.5h9M201.5 334v9M198 338.5h9M202.5 334v9M199 338.5h9M203.5 334v9M200 338.5h9M204.5 334v9M201 338.5h9M205.5 334v9M202 338.5h9M206.5 334v9M203 338.5h9M207.5 334v9M205 338.5h9M209.5 334v9M206 338.5h9M210.5 334v9M207 338.5h9M211.5 334v9M208 338.5h9M212.5 334v9M209 338.5h9M213.5 334v9M210 338.5h9M214.5 334v9M211 338.5h9M215.5 334v9M212 338.5h9M216.5 334v9M213 338.5h9M217.5 334v9M214 338.5h9M218.5 334v9M215 338.5h9M219.5 334v9M216 338.5h9M220.5 334v9M217 338.5h9M221.5 334v9M218 338.5h9M222.5 334v9M219 338.5h9M223.5 334v9M220 338.5h9M224.5 334v9M221 338.5h9M225.5 334v9M222 338.5h9M226.5 334v9M223 338.5h9M227.5 334v9M225 338.5h9M229.5 334v9M226 338.5h9M230.5 334v9M227 338.5h9M231.5 334v9M228 338.5h9M232.5 334v9M229 338.5h9M233.5 334v9M230 338.5h9M234.5 334v9M231 338.5h9M235.5 334v9M232 338.5h9M236.5 334v9M233 338.5h9M237.5 334v9M234 338.5h9M238.5 334v9M235 338.5h9M239.5 334v9M236 338.5h9M240.5 334v9M237 338.5h9M241.5 334v9M238 338.5h9M242.5 334v9M239 338.5h9M243.5 334v9M240 338.5h9M244.5 334v9M241 338.5h9M245.5 334v9M242 338.5h9M246.5 334v9M243 338.5h9M247.5 334v9M244 338.5h9M248.5 334v9M245 338.5h9M249.5 334v9M246 338.5h9M250.5 334v9M247 338.5h9M251.5 334v9M248 338.5h9M252.5 334v9M249 338.5h9M253.5 334v9M250 338.5h9M254.5 334v9M251 338.5h9M255.5 334v9M252 338.5h9M256.5 334v9M253 338.5h9M257.5 334v9M254 338.5h9M258.5 334v9M255 338.5h9M259.5 334v9M256 338.5h9M260.5 334v9M257 338.5h9M261.5 334v9M258 338.5h9M262.5 334v9M259 338.5h9M263.5 334v9M260 338.5h9M264.5 334v9M261 338.5h9M265.5 334v9M262 338.5h9M266.5 334v9M263 338.5h9M267.5 334v9M264 338.5h9M268.5 334v9M265 338.5h9M269.5 334v9M266 338.5h9M270.5 334v9M267 338.5h9M271.5 334v9M268 338.5h9M272.5 334v9M269 338.5h9M273.5 334v9M270 338.5h9M274.5 334v9M271 338.5h9M275.5 334v9M272 338.5h9M276.5 334v9M273 338.5h9M277.5 334v9M274 338.5h9M278.5 334v9M275 338.5h9M279.5 334v9M276 338.5h9M280.5 334v9M277 338.5h9M281.5 334v9M278 338.5h9M282.5 334v9M279 338.5h9M283.5 334v9M280 338.5h9M284.5 334v9M281 338.5h9M285.5 334v9M282 338.5h9M286.5 334v9M283 338.5h9M287.5 334v9M284 338.5h9M288.5 334v9M285 338.5h9M289.5 334v9M286 338.5h9M290.5 334v9M287 338.5h9M291.5 334v9M288 338.5h9M292.5 334v9M289 338.5h9M293.5 334v9M290 338.5h9M294.5 334v9M291 338.5h9M295.5 334v9M292 338.5h9M296.5 334v9M293 338.5h9M297.5 334v9M294 338.5h9M298.5 334v9M295 338.5h9M299.5 334v9M296 338.5h9M300.5 334v9M297 338.5h9M301.5 334v9M298 338.5h9M302.5 334v9M299 338.5h9M303.5 334v9M300 338.5h9M304.5 334v9M301 338.5h9M305.5 334v9M302 338.5h9M306.5 334v9M303 338.5h9M307.5 334v9M304 338.5h9M308.5 334v9M305 338.5h9M309.5 334v9M306 338.5h9M310.5 334v9M307 338.5h9M311.5 334v9M308 338.5h9M312.5 334v9M309 338.5h9M313.5 334v9M310 338.5h9M314.5 334v9M311 338.5h9M315.5 334v9M312 338.5h9M316.5 334v9M313 338.5h9M317.5 334v9M314 338.5h9M318.5 334v9M315 338.5h9M319.5 334v9M316 338.5h9M320.5 334v9M317 338.5h9M321.5 334v9M318 338.5h9M322.5 334v9M319 338.5h9M323.5 334v9M320 338.5h9M324.5 334v9M321 338.5h9M325.5 334v9M322 338.5h9M326.5 334v9M323 338.5h9M327.5 334v9M324 338.5h9M328.5 334v9M325 338.5h9M329.5 334v9M326 338.5h9M330.5 334v9M327 338.5h9M331.5 334v9M328 338.5h9M332.5 334v9M329 338.5h9M333.5 334v9M330 338.5h9M334.5 334v9M331 338.5h9M335.5 334v9M332 338.5h9M336.5 334v9M333 338.5h9M337.5 334v9M334 338.5h9M338.5 334v9M335 338.5h9M339.5 334v9M336 338.5h9M340.5 334v9M337 338.5h9M341.5 334v9M338 338.5h9M342.5 334v9M339 338.5h9M343.5 334v9M340 338.5h9M344.5 334v9M341 338.5h9M345.5 334v9M342 338.5h9M346.5 334v9M343 338.5h9M347.5 334v9M344 338.5h9M348.5 334v9M345 338.5h9M349.5 334v9M346 338.5h9M350.5 334v9M347 338.5h9M351.5 334v9M348 338.5h9M352.5 334v9M349 338.5h9M353.5 334v9M350 338.5h9M354.5 334v9M351 338.5h9M355.5 334v9M352 338.5h9M356.5 334v9M353 338.5h9M357.5 334v9M354 338.5h9M358.5 334v9M355 338.5h9M359.5 334v9M356 338.5h9M360.5 334v9M357 338.5h9M361.5 334v9M358 338.5h9M362.5 334v9M359 338.5h9M363.5 334v9M360 338.5h9M364.5 334v9M361 338.5h9M365.5 334v9M362 338.5h9M366.5 334v9M363 338.5h9M367.5 334v9M364 338.5h9M368.5 334v9M365 338.5h9M369.5 334v9M366 338.5h9M370.5 334v9M367 338.5h9M371.5 334v9M368 338.5h9M372.5 334v9M369 338.5h9M373.5 334v9M370 338.5h9M374.5 334v9M371 338.5h9M375.5 334v9M372 338.5h9M376.5 334v9M373 338.5h9M377.5 334v9M374 338.5h9M378.5 334v9M375 338.5h9M379.5 334v9M376 338.5h9M380.5 334v9M377 338.5h9M381.5 334v9M378 338.5h9M382.5 334v9M379 338.5h9M383.5 334v9M380 338.5h9M384.5 334v9M381 338.5h9M385.5 334v9M382 338.5h9M386.5 334v9M383 338.5h9M387.5 334v9M384 338.5h9M388.5 334v9M385 338.5h9M389.5 334v9M386 338.5h9M390.5 334v9M387 338.5h9M391.5 334v9M388 338.5h9M392.5 334v9M389 338.5h9M393.5 334v9M390 338.5h9M394.5 334v9M391 338.5h9M395.5 334v9M392 338.5h9M396.5 334v9M393 338.5h9M397.5 334v9M394 338.5h9M398.5 334v9M395 338.5h9M399.5 334v9M396 338.5h9M400.5 334v9M397 338.5h9M401.5 334v9M398 338.5h9M402.5 334v9M399 338.5h9M403.5 334v9M400 338.5h9M404.5 334v9M401 338.5h9M405.5 334v9M402 338.5h9M406.5 334v9M403 338.5h9M407.5 334v9M404 338.5h9M408.5 334v9M405 338.5h9M409.5 334v9M406 338.5h9M410.5 334v9M407 338.5h9M411.5 334v9M408 338.5h9M412.5 334v9M409 338.5h9M413.5 334v9M410 338.5h9M414.5 334v9M411 338.5h9M415.5 334v9M412 338.5h9M416.5 334v9M413 338.5h9M417.5 334v9M414 338.5h9M418.5 334v9M415 338.5h9M419.5 334v9M416 338.5h9M420.5 334v9M417 338.5h9M421.5 334v9M418 338.5h9M422.5 334v9M419 338.5h9M423.5 334v9M420 338.5h9M424.5 334v9M421 338.5h9M425.5 334v9M422 338.5h9M426.5 334v9M423 338.5h9M427.5 334v9M424 338.5h9M428.5 334v9M425 338.5h9M429.5 334v9M426 338.5h9M430.5 334v9M427 338.5h9M431.5 334v9M428 338.5h9M432.5 334v9M429 338.5h9M433.5 334v9M430 338.5h9M434.5 334v9M431 338.5h9M435.5 334v9M440 338.5h9M444.5 334v9M441 338.5h9M445.5 334v9M442 338.5h9M446.5 334v9M443 338.5h9M447.5 334v9M444 338.5h9M448.5 334v9M445 338.5h9M449.5 334v9M446 338.5h9M450.5 334v9M447 338.5h9M451.5 334v9M448 338.5h9M452.5 334v9M449 338.5h9M453.5 334v9M450 338.5h9M454.5 334v9M451 338.5h9M455.5 334v9M452 338.5h9M456.5 334v9M453 338.5h9M457.5 334v9M454 338.5h9M458.5 334v9M455 338.5h9M459.5 334v9M456 338.5h9M460.5 334v9M457 338.5h9M461.5 334v9M458 338.5h9M462.5 334v9M459 338.5h9M463.5 334v9M460 338.5h9M464.5 334v9M461 338.5h9M465.5 334v9M462 338.5h9M466.5 334v9M463 338.5h9M467.5 334v9M464 338.5h9M468.5 334v9M465 338.5h9M469.5 334v9M466 338.5h9M470.5 334v9M467 338.5h9M471.5 334v9M468 338.5h9M472.5 334v9M469 338.5h9M473.5 334v9M470 338.5h9M474.5 334v9M471 338.5h9M475.5 334v9M472 338.5h9M476.5 334v9M473 338.5h9M477.5 334v9M474 338.5h9M478.5 334v9M475 338.5h9M479.5 334v9M476 338.5h9M480.5 334v9M477 338.5h9M481.5 334v9M478 338.5h9M482.5 334v9M479 338.5h9M483.5 334v9M480 338.5h9M484.5 334v9M481 338.5h9M485.5 334v9M482 338.5h9M486.5 334v9M483 338.5h9M487.5 334v9M484 338.5h9M488.5 334v9M485 338.5h9M489.5 334v9M486 338.5h9M490.5 334v9M487 338.5h9M491.5 334v9M488 338.5h9M492.5 334v9M489 338.5h9M493.5 334v9M490 338.5h9M494.5 334v9M491 338.5h9M495.5 334v9M492 338.5h9M496.5 334v9M493 338.5h9M497.5 334v9M494 338.5h9M498.5 334v9M495 338.5h9M499.5 334v9M496 338.5h9M500.5 334v9M497 338.5h9M501.5 334v9M498 338.5h9M502.5 334v9M499 338.5h9M503.5 334v9M500 338.5h9M504.5 334v9M501 338.5h9M505.5 334v9M502 338.5h9M506.5 334v9M503 338.5h9M507.5 334v9M504 338.5h9M508.5 334v9M505 338.5h9M509.5 334v9M506 338.5h9M510.5 334v9M507 338.5h9M511.5 334v9M508 338.5h9M512.5 334v9M509 338.5h9M513.5 334v9M510 338.5h9M514.5 334v9M511 338.5h9M515.5 334v9M512 338.5h9M516.5 334v9M513 338.5h9M517.5 334v9M514 338.5h9M518.5 334v9M515 338.5h9M519.5 334v9M516 338.5h9M520.5 334v9M517 338.5h9M521.5 334v9M518 338.5h9M522.5 334v9M519 338.5h9M523.5 334v9M520 338.5h9M524.5 334v9M521 338.5h9M525.5 334v9M522 338.5h9M526.5 334v9M523 338.5h9M527.5 334v9M524 338.5h9M528.5 334v9M525 338.5h9M529.5 334v9M526 338.5h9M530.5 334v9M527 338.5h9M531.5 334v9M528 338.5h9M532.5 334v9M529 338.5h9M533.5 334v9M530 338.5h9M534.5 334v9M531 338.5h9M535.5 334v9M532 338.5h9M536.5 334v9M533 338.5h9M537.5 334v9M534 338.5h9M538.5 334v9M535 338.5h9M539.5 334v9M536 338.5h9M540.5 334v9M537 338.5h9M541.5 334v9M538 338.5h9M542.5 334v9M539 338.5h9M543.5 334v9M540 338.5h9M544.5 334v9M541 338.5h9M545.5 334v9M542 338.5h9M546.5 334v9M543 338.5h9M547.5 334v9M544 338.5h9M548.5 334v9M545 338.5h9M549.5 334v9M546 338.5h9M550.5 334v9M547 338.5h9M551.5 334v9M548 338.5h9M552.5 334v9M549 338.5h9M553.5 334v9M550 338.5h9M554.5 334v9M551 338.5h9M555.5 334v9M552 338.5h9M556.5 334v9M553 338.5h9M557.5 334v9M554 338.5h9M558.5 334v9M555 338.5h9M559.5 334v9M556 338.5h9M560.5 334v9M557 338.5h9M561.5 334v9M558 338.5h9M562.5 334v9M559 338.5h9M563.5 334v9M97 340.5h9M101.5 336v9M98 339.5h9M102.5 335v9M103 340.5h9M107.5 336v9"/></g>
<g clip-path="url(#c3)"><path fill="none" stroke="#fff" stroke-width="1" d="M104 410.5h9M108.5 406v9M104 409.5h9M108.5 405v9M105 413.5h9M109.5 409v9M105 408.5h9M109.5 404v9M106 411.5h9M110.5 407v9M106 410.5h9M110.5 406v9M107 412.5h9M111.5 408v9M108 410.5h9M112.5 406v9M108 413.5h9M112.5 409v9M109 413.5h9M113.5 409v9M109 414.5h9M113.5 410v9M110 412.5h9M114.5 408v9M110 411.5h9M114.5 407v9M111 409.5h9M115.5 405v9M111 412.5h9M115.5 408v9M112 412.5h9M116.5 408v9M113 408.5h9M117.5 404v9M113 410.5h9M117.5 406v9M114 413.5h9M118.5 409v9M114 410.5h9M118.5 406v9M115 410.5h9M119.5 406v9M115 409.5h9M119.5 405v9M116 412.5h9M120.5 408v9M116 411.5h9M120.5 407v9M117 418.5h9M121.5 414v9M117 412.5h9M121.5 408v9M118 414.5h9M122.5 410v9M119 417.5h9M123.5 413v9M119 410.5h9M123.5 406v9M120 412.5h9M124.5 408v9M121 412.5h9M125.5 408v9M121 418.5h9M125.5 414v9M122 415.5h9M126.5 411v9M122 412.5h9M126.5 408v9M123 414.5h9M127.5 410v9M124 417.5h9M128.5 413v9M124 413.5h9M128.5 409v9M125 412.5h9M129.5 408v9M125 417.5h9M129.5 413v9M126 417.5h9M130.5 413v9M126 415.5h9M130.5 411v9M127 414.5h9M131.5 410v9M127 413.5h9M131.5 409v9M128 413.5h9M132.5 409v9M128 412.5h9M132.5 408v9M129 415.5h9M133.5 411v9M130 416.5h9M134.5 412v9M130 417.5h9M134.5 413v9M131 417.5h9M135.5 413v9M132 417.5h9M136.5 413v9M132 416.5h9M136.5 412v9M133 416.5h9M137.5 412v9M134 420.5h9M138.5 416v9M134 417.5h9M138.5 413v9M135 416.5h9M139.5 412v9M135 418.5h9M139.5 414v9M136 413.5h9M140.5 409v9M136 416.5h9M140.5 412v9M137 417.5h9M141.5 413v9M137 418.5h9M141.5 414v9M138 415.5h9M142.5 411v9M138 417.5h9M142.5 413v9M139 418.5h9M143.5 414v9M140 415.5h9M144.5 411v9M140 417.5h9M144.5 413v9M141 418.5h9M145.5 414v9M141 417.5h9M145.5 413v9M142 417.5h9M146.5 413v9M142 420.5h9M146.5 416v9M143 418.5h9M147.5 414v9M143 419.5h9M147.5 415v9M144 418.5h9M148.5 414v9M145 416.5h9M149.5 412v9M145 418.5h9M149.5 414v9M146 419.5h9M150.5 415v9M146 418.5h9M150.5 414v9M147 418.5h9M151.5 414v9M147 421.5h9M151.5 417v9M148 421.5h9M152.5 417v9M148 420.5h9M152.5 416v9M149 421.5h9M153.5 417v9M150 420.5h9M154.5 416v9M150 421.5h9M154.5 417v9M151 420.5h9M155.5 416v9M151 419.5h9M155.5 415v9M152 417.5h9M156.5 413v9M152 420.5h9M156.5 416v9M153 418.5h9M157.5 414v9M153 421.5h9M157.5 417v9M154 419.5h9M158.5 415v9M154 421.5h9M158.5 417v9M155 421.5h9M159.5 417v9M155 420.5h9M159.5 416v9M156 422.5h9M160.5 418v9M157 422.5h9M161.5 418v9M158 422.5h9M162.5 418v9M158 423.5h9M162.5 419v9M159 420.5h9M163.5 416v9M159 419.5h9M163.5 415v9M160 421.5h9M164.5 417v9M160 420.5h9M164.5 416v9M161 422.5h9M165.5 418v9M161 421.5h9M165.5 417v9M163 421.5h9M167.5 417v9M164 422.5h9M168.5 418v9M165 425.5h9M169.5 421v9M165 422.5h9M169.5 418v9M166 421.5h9M170.5 417v9M166 424.5h9M170.5 420v9M167 419.5h9M171.5 415v9M167 420.5h9M171.5 416v9M168 421.5h9M172.5 417v9M169 421.5h9M173.5 417v9M169 422.5h9M173.5 418v9M170 422.5h9M174.5 418v9M171 420.5h9M175.5 416v9M171 422.5h9M175.5 418v9M172 421.5h9M176.5 417v9M172 423.5h9M176.5 419v9M173 420.5h9M177.5 416v9M173 421.5h9M177.5 417v9M174 421.5h9M178.5 417v9M174 422.5h9M178.5 418v9M175 421.5h9M179.5 417v9M175 420.5h9M179.5 416v9M176 420.5h9M180.5 416v9M176 421.5h9M180.5 417v9M177 421.5h9M181.5 417v9M177 419.5h9M181.5 415v9M178 422.5h9M182.5 418v9M178 420.5h9M182.5 416v9M179 421.5h9M183.5 417v9M179 419.5h9M183.5 415v9M180 424.5h9M184.5 420v9M180 422.5h9M184.5 418v9M181 424.5h9M185.5 420v9M181 421.5h9M185.5 417v9M182 423.5h9M186.5 419v9M183 421.5h9M187.5 417v9M183 423.5h9M187.5 419v9M184 423.5h9M188.5 419v9M184 420.5h9M188.5 416v9M185 421.5h9M189.5 417v9M185 422.5h9M189.5 418v9M186 421.5h9M190.5 417v9M186 422.5h9M190.5 418v9M187 420.5h9M191.5 416v9M187 423.5h9M191.5 419v9M188 421.5h9M192.5 417v9M188 422.5h9M192.5 418v9M189 423.5h9M193.5 419v9M189 420.5h9M193.5 416v9M190 420.5h9M194.5 416v9M191 421.5h9M195.5 417v9M191 420.5h9M195.5 416v9M192 420.5h9M196.5 416v9M192 419.5h9M196.5 415v9M193 419.5h9M197.5 415v9M194 422.5h9M198.5 418v9M194 419.5h9M198.5 415v9M195 420.5h9M199.5 416v9M196 421.5h9M200.5 417v9M197 422.5h9M201.5 418v9M198 422.5h9M202.5 418v9M199 423.5h9M203.5 419v9M199 422.5h9M203.5 418v9M200 425.5h9M204.5 421v9M200 423.5h9M204.5 419v9M201 423.5h9M205.5 419v9M201 422.5h9M205.5 418v9M202 420.5h9M206.5 416v9M202 422.5h9M206.5 418v9M203 423.5h9M207.5 419v9M203 421.5h9M207.5 417v9M205 422.5h9M209.5 418v9M206 421.5h9M210.5 417v9M206 420.5h9M210.5 416v9M207 420.5h9M211.5 416v9M208 419.5h9M212.5 415v9M208 421.5h9M212.5 417v9M209 417.5h9M213.5 413v9M209 420.5h9M213.5 416v9M210 419.5h9M214.5 415v9M210 420.5h9M214.5 416v9M211 421.5h9M215.5 417v9M211 420.5h9M215.5 416v9M212 420.5h9M216.5 416v9M213 420.5h9M217.5 416v9M213 421.5h9M217.5 417v9M214 421.5h9M218.5 417v9M214 422.5h9M218.5 418v9M215 419.5h9M219.5 415v9M215 422.5h9M219.5 418v9M216 422.5h9M220.5 418v9M217 420.5h9M221.5 416v9M217 421.5h9M221.5 417v9M218 421.5h9M222.5 417v9M218 420.5h9M222.5 416v9M219 422.5h9M223.5 418v9M219 423.5h9M223.5 419v9M220 418.5h9M224.5 414v9M220 420.5h9M224.5 416v9M221 420.5h9M225.5 416v9M221 419.5h9M225.5 415v9M222 422.5h9M226.5 418v9M223 421.5h9M227.5 417v9M223 422.5h9M227.5 418v9M225 422.5h9M229.5 418v9M226 421.5h9M230.5 417v9M226 422.5h9M230.5 418v9M227 422.5h9M231.5 418v9M227 423.5h9M231.5 419v9M228 423.5h9M232.5 419v9M228 422.5h9M232.5 418v9M229 423.5h9M233.5 419v9M229 419.5h9M233.5 415v9M230 425.5h9M234.5 421v9M230 423.5h9M234.5 419v9M231 422.5h9M235.5 418v9M231 425.5h9M235.5 421v9M232 423.5h9M236.5 419v9M233 424.5h9M237.5 420v9M233 422.5h9M237.5 418v9M234 424.5h9M238.5 420v9M234 425.5h9M238.5 421v9M235 422.5h9M239.5 418v9M235 423.5h9M239.5 419v9M236 422.5h9M240.5 418v9M237 423.5h9M241.5 419v9M237 420.5h9M241.5 416v9M238 419.5h9M242.5 415v9M238 422.5h9M242.5 418v9M239 422.5h9M243.5 418v9M239 420.5h9M243.5 416v9M240 425.5h9M244.5 421v9M240 421.5h9M244.5 417v9M241 423.5h9M245.5 419v9M242 420.5h9M246.5 416v9M242 421.5h9M246.5 417v9M243 421.5h9M247.5 417v9M243 420.5h9M247.5 416v9M244 422.5h9M248.5 418v9M244 423.5h9M248.5 419v9M245 421.5h9M249.5 417v9M245 423.5h9M249.5 419v9M246 421.5h9M250.5 417v9M246 419.5h9M250.5 415v9M247 421.5h9M251.5 417v9M247 422.5h9M251.5 418v9M248 420.5h9M252.5 416v9M248 422.5h9M252.5 418v9M249 420.5h9M253.5 416v9M249 422.5h9M253.5 418v9M250 420.5h9M254.5 416v9M251 420.5h9M255.5 416v9M251 422.5h9M255.5 418v9M252 420.5h9M256.5 416v9M252 421.5h9M256.5 417v9M253 422.5h9M257.5 418v9M253 420.5h9M257.5 416v9M254 420.5h9M258.5 416v9M255 421.5h9M259.5 417v9M255 424.5h9M259.5 420v9M256 422.5h9M260.5 418v9M256 421.5h9M260.5 417v9M257 422.5h9M261.5 418v9M257 423.5h9M261.5 419v9M258 423.5h9M262.5 419v9M259 423.5h9M263.5 419v9M260 421.5h9M264.5 417v9M260 423.5h9M264.5 419v9M261 423.5h9M265.5 419v9M261 422.5h9M265.5 418v9M262 424.5h9M266.5 420v9M262 423.5h9M266.5 419v9M263 422.5h9M267.5 418v9M263 424.5h9M267.5 420v9M264 422.5h9M268.5 418v9M264 424.5h9M268.5 420v9M265 422.5h9M269.5 418v9M265 423.5h9M269.5 419v9M266 423.5h9M270.5 419v9M267 425.5h9M271.5 421v9M267 418.5h9M271.5 414v9M268 422.5h9M272.5 418v9M268 423.5h9M272.5 419v9M269 422.5h9M273.5 418v9M269 423.5h9M273.5 419v9M270 422.5h9M274.5 418v9M270 418.5h9M274.5 414v9M271 423.5h9M275.5 419v9M271 422.5h9M275.5 418v9M272 423.5h9M276.5 419v9M272 419.5h9M276.5 415v9M273 422.5h9M277.5 418v9M273 421.5h9M277.5 417v9M274 422.5h9M278.5 418v9M274 423.5h9M278.5 419v9M275 421.5h9M279.5 417v9M275 423.5h9M279.5 419v9M276 421.5h9M280.5 417v9M276 422.5h9M280.5 418v9M277 421.5h9M281.5 417v9M277 423.5h9M281.5 419v9M278 422.5h9M282.5 418v9M279 424.5h9M283.5 420v9M279 423.5h9M283.5 419v9M280 425.5h9M284.5 421v9M280 423.5h9M284.5 419v9M281 423.5h9M285.5 419v9M281 424.5h9M285.5 420v9M282 424.5h9M286.5 420v9M282 423.5h9M286.5 419v9M283 423.5h9M287.5 419v9M284 423.5h9M288.5 419v9M285 423.5h9M289.5 419v9M285 425.5h9M289.5 421v9M286 423.5h9M290.5 419v9M287 424.5h9M291.5 420v9M287 423.5h9M291.5 419v9M288 423.5h9M292.5 419v9M288 424.5h9M292.5 420v9M289 423.5h9M293.5 419v9M290 421.5h9M294.5 417v9M290 422.5h9M294.5 418v9M291 422.5h9M295.5 418v9M291 424.5h9M295.5 420v9M292 422.5h9M296.5 418v9M292 420.5h9M296.5 416v9M293 418.5h9M297.5 414v9M293 423.5h9M297.5 419v9M294 423.5h9M298.5 419v9M294 422.5h9M298.5 418v9M295 422.5h9M299.5 418v9M295 425.5h9M299.5 421v9M296 423.5h9M300.5 419v9M297 424.5h9M301.5 420v9M297 423.5h9M301.5 419v9M298 426.5h9M302.5 422v9M299 424.5h9M303.5 420v9M300 424.5h9M304.5 420v9M301 424.5h9M305.5 420v9M302 425.5h9M306.5 421v9M303 424.5h9M307.5 420v9M303 428.5h9M307.5 424v9M304 426.5h9M308.5 422v9M305 425.5h9M309.5 421v9M305 423.5h9M309.5 419v9M306 422.5h9M310.5 418v9M306 423.5h9M310.5 419v9M307 424.5h9M311.5 420v9M307 425.5h9M311.5 421v9M308 423.5h9M312.5 419v9M308 424.5h9M312.5 420v9M309 424.5h9M313.5 420v9M309 422.5h9M313.5 418v9M310 419.5h9M314.5 415v9M310 422.5h9M314.5 418v9M311 420.5h9M315.5 416v9M311 423.5h9M315.5 419v9M312 425.5h9M316.5 421v9M312 421.5h9M316.5 417v9M313 423.5h9M317.5 419v9M313 421.5h9M317.5 417v9M314 422.5h9M318.5 418v9M314 421.5h9M318.5 417v9M315 424.5h9M319.5 420v9M315 423.5h9M319.5 419v9M316 423.5h9M320.5 419v9M316 424.5h9M320.5 420v9M317 421.5h9M321.5 417v9M317 422.5h9M321.5 418v9M318 422.5h9M322.5 418v9M319 421.5h9M323.5 417v9M319 423.5h9M323.5 419v9M320 422.5h9M324.5 418v9M320 420.5h9M324.5 416v9M321 421.5h9M325.5 417v9M321 422.5h9M325.5 418v9M322 423.5h9M326.5 419v9M322 419.5h9M326.5 415v9M323 423.5h9M327.5 419v9M323 424.5h9M327.5 420v9M324 424.5h9M328.5 420v9M324 421.5h9M328.5 417v9M325 422.5h9M329.5 418v9M325 423.5h9M329.5 419v9M326 425.5h9M330.5 421v9M326 422.5h9M330.5 418v9M327 424.5h9M331.5 420v9M327 425.5h9M331.5 421v9M328 424.5h9M332.5 420v9M329 424.5h9M333.5 420v9M329 423.5h9M333.5 419v9M330 423.5h9M334.5 419v9M330 426.5h9M334.5 422v9M331 423.5h9M335.5 419v9M332 426.5h9M336.5 422v9M332 424.5h9M336.5 420v9M333 424.5h9M337.5 420v9M334 422.5h9M338.5 418v9M334 423.5h9M338.5 419v9M335 422.5h9M339.5 418v9M335 426.5h9M339.5 422v9M336 424.5h9M340.5 420v9M337 423.5h9M341.5 419v9M337 422.5h9M341.5 418v9M338 423.5h9M342.5 419v9M339 423.5h9M343.5 419v9M339 422.5h9M343.5 418v9M340 422.5h9M344.5 418v9M340 423.5h9M344.5 419v9M341 423.5h9M345.5 419v9M341 426.5h9M345.5 422v9M342 423.5h9M346.5 419v9M342 427.5h9M346.5 423v9M343 424.5h9M347.5 420v9M343 423.5h9M347.5 419v9M344 424.5h9M348.5 420v9M344 426.5h9M348.5 422v9M345 421.5h9M349.5 417v9M345 424.5h9M349.5 420v9M346 425.5h9M350.5 421v9M346 424.5h9M350.5 420v9M347 424.5h9M351.5 420v9M347 427.5h9M351.5 423v9M348 425.5h9M352.5 421v9M348 423.5h9M352.5 419v9M349 424.5h9M353.5 420v9M349 425.5h9M353.5 421v9M350 421.5h9M354.5 417v9M350 425.5h9M354.5 421v9M351 426.5h9M355.5 422v9M351 423.5h9M355.5 419v9M352 425.5h9M356.5 421v9M352 426.5h9M356.5 422v9M353 423.5h9M357.5 419v9M353 424.5h9M357.5 420v9M354 425.5h9M358.5 421v9M354 427.5h9M358.5 423v9M355 428.5h9M359.5 424v9M355 425.5h9M359.5 421v9M356 426.5h9M360.5 422v9M356 423.5h9M360.5 419v9M357 425.5h9M361.5 421v9M357 424.5h9M361.5 420v9M358 424.5h9M362.5 420v9M358 423.5h9M362.5 419v9M359 423.5h9M363.5 419v9M359 424.5h9M363.5 420v9M360 422.5h9M364.5 418v9M361 425.5h9M365.5 421v9M361 422.5h9M365.5 418v9M362 423.5h9M366.5 419v9M363 424.5h9M367.5 420v9M363 423.5h9M367.5 419v9M364 422.5h9M368.5 418v9M364 425.5h9M368.5 421v9M365 420.5h9M369.5 416v9M365 422.5h9M369.5 418v9M366 419.5h9M370.5 415v9M367 421.5h9M371.5 417v9M367 422.5h9M371.5 418v9M368 421.5h9M372.5 417v9M368 422.5h9M372.5 418v9M369 422.5h9M373.5 418v9M370 424.5h9M374.5 420v9M371 423.5h9M375.5 419v9M371 422.5h9M375.5 418v9M372 422.5h9M376.5 418v9M372 421.5h9M376.5 417v9M373 420.5h9M377.5 416v9M373 421.5h9M377.5 417v9M374 422.5h9M378.5 418v9M374 423.5h9M378.5 419v9M375 423.5h9M379.5 419v9M375 422.5h9M379.5 418v9M376 422.5h9M380.5 418v9M377 423.5h9M381.5 419v9M377 422.5h9M381.5 418v9M378 421.5h9M382.5 417v9M379 423.5h9M383.5 419v9M380 423.5h9M384.5 419v9M381 425.5h9M385.5 421v9M382 426.5h9M386.5 422v9M382 424.5h9M386.5 420v9M383 428.5h9M387.5 424v9M383 420.5h9M387.5 416v9M384 424.5h9M388.5 420v9M384 422.5h9M388.5 418v9M385 423.5h9M389.5 419v9M385 425.5h9M389.5 421v9M386 423.5h9M390.5 419v9M386 422.5h9M390.5 418v9M387 424.5h9M391.5 420v9M387 425.5h9M391.5 421v9M388 425.5h9M392.5 421v9M388 422.5h9M392.5 418v9M389 422.5h9M393.5 418v9M390 423.5h9M394.5 419v9M391 421.5h9M395.5 417v9M391 423.5h9M395.5 419v9M392 418.5h9M396.5 414v9M392 423.5h9M396.5 419v9M393 421.5h9M397.5 417v9M394 422.5h9M398.5 418v9M394 424.5h9M398.5 420v9M395 423.5h9M399.5 419v9M396 422.5h9M400.5 418v9M396 420.5h9M400.5 416v9M397 422.5h9M401.5 418v9M398 423.5h9M402.5 419v9M398 425.5h9M402.5 421v9M399 422.5h9M403.5 418v9M399 425.5h9M403.5 421v9M400 420.5h9M404.5 416v9M400 424.5h9M404.5 420v9M401 420.5h9M405.5 416v9M401 421.5h9M405.5 417v9M402 423.5h9M406.5 419v9M403 419.5h9M407.5 415v9M403 423.5h9M407.5 419v9M404 422.5h9M408.5 418v9M404 419.5h9M408.5 415v9M405 420.5h9M409.5 416v9M406 421.5h9M410.5 417v9M406 423.5h9M410.5 419v9M407 419.5h9M411.5 415v9M407 422.5h9M411.5 418v9M408 419.5h9M412.5 415v9M408 422.5h9M412.5 418v9M409 420.5h9M413.5 416v9M410 424.5h9M414.5 420v9M410 422.5h9M414.5 418v9M411 423.5h9M415.5 419v9M411 422.5h9M415.5 418v9M412 422.5h9M416.5 418v9M412 423.5h9M416.5 419v9M413 425.5h9M417.5 421v9M413 424.5h9M417.5 420v9M414 421.5h9M418.5 417v9M414 423.5h9M418.5 419v9M415 422.5h9M419.5 418v9M415 421.5h9M419.5 417v9M416 418.5h9M420.5 414v9M416 422.5h9M420.5 418v9M417 421.5h9M421.5 417v9M417 423.5h9M421.5 419v9M418 423.5h9M422.5 419v9M418 421.5h9M422.5 417v9M419 422.5h9M423.5 418v9M419 423.5h9M423.5 419v9M420 423.5h9M424.5 419v9M420 422.5h9M424.5 418v9M421 423.5h9M425.5 419v9M421 422.5h9M425.5 418v9M422 422.5h9M426.5 418v9M422 424.5h9M426.5 420v9M423 422.5h9M427.5 418v9M424 424.5h9M428.5 420v9M424 423.5h9M428.5 419v9M425 423.5h9M429.5 419v9M425 424.5h9M429.5 420v9M426 424.5h9M430.5 420v9M427 423.5h9M431.5 419v9M427 422.5h9M431.5 418v9M428 423.5h9M432.5 419v9M428 424.5h9M432.5 420v9M429 422.5h9M433.5 418v9M429 424.5h9M433.5 420v9M430 421.5h9M434.5 417v9M431 424.5h9M435.5 420v9M431 425.5h9M435.5 421v9M440 422.5h9M444.5 418v9M441 423.5h9M445.5 419v9M442 423.5h9M446.5 419v9M442 422.5h9M446.5 418v9M443 423.5h9M447.5 419v9M443 422.5h9M447.5 418v9M444 424.5h9M448.5 420v9M444 422.5h9M448.5 418v9M445 421.5h9M449.5 417v9M445 428.5h9M449.5 424v9M446 425.5h9M450.5 421v9M446 424.5h9M450.5 420v9M447 423.5h9M451.5 419v9M447 424.5h9M451.5 420v9M448 424.5h9M452.5 420v9M448 420.5h9M452.5 416v9M449 424.5h9M453.5 420v9M449 427.5h9M453.5 423v9M450 421.5h9M454.5 417v9M451 423.5h9M455.5 419v9M451 421.5h9M455.5 417v9M452 421.5h9M456.5 417v9M452 422.5h9M456.5 418v9M453 423.5h9M457.5 419v9M454 422.5h9M458.5 418v9M455 422.5h9M459.5 418v9M455 420.5h9M459.5 416v9M456 422.5h9M460.5 418v9M456 423.5h9M460.5 419v9M457 422.5h9M461.5 418v9M457 424.5h9M461.5 420v9M458 422.5h9M462.5 418v9M458 424.5h9M462.5 420v9M459 421.5h9M463.5 417v9M459 423.5h9M463.5 419v9M460 422.5h9M464.5 418v9M460 421.5h9M464.5 417v9M461 424.5h9M465.5 420v9M461 422.5h9M465.5 418v9M462 421.5h9M466.5 417v9M462 422.5h9M466.5 418v9M463 421.5h9M467.5 417v9M463 422.5h9M467.5 418v9M464 420.5h9M468.5 416v9M464 421.5h9M468.5 417v9M465 423.5h9M469.5 419v9M465 420.5h9M469.5 416v9M466 421.5h9M470.5 417v9M466 422.5h9M470.5 418v9M467 423.5h9M471.5 419v9M468 421.5h9M472.5 417v9M469 421.5h9M473.5 417v9M469 422.5h9M473.5 418v9M470 421.5h9M474.5 417v9M471 421.5h9M475.5 417v9M472 423.5h9M476.5 419v9M472 422.5h9M476.5 418v9M473 422.5h9M477.5 418v9M474 422.5h9M478.5 418v9M474 423.5h9M478.5 419v9M475 421.5h9M479.5 417v9M475 422.5h9M479.5 418v9M476 422.5h9M480.5 418v9M476 420.5h9M480.5 416v9M477 422.5h9M481.5 418v9M477 421.5h9M481.5 417v9M478 421.5h9M482.5 417v9M478 418.5h9M482.5 414v9M479 423.5h9M483.5 419v9M479 422.5h9M483.5 418v9M480 421.5h9M484.5 417v9M480 420.5h9M484.5 416v9M481 424.5h9M485.5 420v9M481 421.5h9M485.5 417v9M482 422.5h9M486.5 418v9M482 421.5h9M486.5 417v9M483 420.5h9M487.5 416v9M483 421.5h9M487.5 417v9M484 419.5h9M488.5 415v9M484 422.5h9M488.5 418v9M485 421.5h9M489.5 417v9M486 422.5h9M490.5 418v9M486 420.5h9M490.5 416v9M487 420.5h9M491.5 416v9M487 418.5h9M491.5 414v9M488 420.5h9M492.5 416v9M489 421.5h9M493.5 417v9M489 420.5h9M493.5 416v9M490 419.5h9M494.5 415v9M491 420.5h9M495.5 416v9M492 420.5h9M496.5 416v9M492 419.5h9M496.5 415v9M493 419.5h9M497.5 415v9M494 419.5h9M498.5 415v9M495 420.5h9M499.5 416v9M496 419.5h9M500.5 415v9M496 420.5h9M500.5 416v9M497 420.5h9M501.5 416v9M497 419.5h9M501.5 415v9M498 420.5h9M502.5 416v9M499 421.5h9M503.5 417v9M499 422.5h9M503.5 418v9M500 418.5h9M504.5 414v9M500 420.5h9M504.5 416v9M501 420.5h9M505.5 416v9M501 419.5h9M505.5 415v9M502 419.5h9M506.5 415v9M502 420.5h9M506.5 416v9M503 419.5h9M507.5 415v9M503 421.5h9M507.5 417v9M504 420.5h9M508.5 416v9M504 421.5h9M508.5 417v9M505 419.5h9M509.5 415v9M505 418.5h9M509.5 414v9M506 418.5h9M510.5 414v9M506 419.5h9M510.5 415v9M507 419.5h9M511.5 415v9M508 420.5h9M512.5 416v9M509 419.5h9M513.5 415v9M510 418.5h9M514.5 414v9M510 423.5h9M514.5 419v9M511 419.5h9M515.5 415v9M512 418.5h9M516.5 414v9M512 420.5h9M516.5 416v9M513 420.5h9M517.5 416v9M513 419.5h9M517.5 415v9M514 422.5h9M518.5 418v9M514 421.5h9M518.5 417v9M515 420.5h9M519.5 416v9M515 421.5h9M519.5 417v9M516 419.5h9M520.5 415v9M516 420.5h9M520.5 416v9M517 420.5h9M521.5 416v9M517 419.5h9M521.5 415v9M518 420.5h9M522.5 416v9M518 419.5h9M522.5 415v9M519 419.5h9M523.5 415v9M520 416.5h9M524.5 412v9M520 418.5h9M524.5 414v9M521 419.5h9M525.5 415v9M522 419.5h9M526.5 415v9M522 417.5h9M526.5 413v9M523 418.5h9M527.5 414v9M523 419.5h9M527.5 415v9M524 418.5h9M528.5 414v9M524 417.5h9M528.5 413v9M525 420.5h9M529.5 416v9M525 418.5h9M529.5 414v9M526 420.5h9M530.5 416v9M526 419.5h9M530.5 415v9M527 418.5h9M531.5 414v9M527 419.5h9M531.5 415v9M528 419.5h9M532.5 415v9M528 420.5h9M532.5 416v9M529 418.5h9M533.5 414v9M529 419.5h9M533.5 415v9M530 419.5h9M534.5 415v9M531 419.5h9M535.5 415v9M532 419.5h9M536.5 415v9M532 420.5h9M536.5 416v9M533 418.5h9M537.5 414v9M533 420.5h9M537.5 416v9M534 420.5h9M538.5 416v9M534 418.5h9M538.5 414v9M535 420.5h9M539.5 416v9M535 419.5h9M539.5 415v9M536 418.5h9M540.5 414v9M536 419.5h9M540.5 415v9M537 419.5h9M541.5 415v9M537 418.5h9M541.5 414v9M538 420.5h9M542.5 416v9M539 421.5h9M543.5 417v9M539 420.5h9M543.5 416v9M540 420.5h9M544.5 416v9M540 421.5h9M544.5 417v9M541 420.5h9M545.5 416v9M541 421.5h9M545.5 417v9M542 420.5h9M546.5 416v9M542 422.5h9M546.5 418v9M543 421.5h9M547.5 417v9M543 418.5h9M547.5 414v9M544 420.5h9M548.5 416v9M545 419.5h9M549.5 415v9M546 419.5h9M550.5 415v9M546 417.5h9M550.5 413v9M547 418.5h9M551.5 414v9M547 421.5h9M551.5 417v9M548 417.5h9M552.5 413v9M548 419.5h9M552.5 415v9M549 420.5h9M553.5 416v9M550 419.5h9M554.5 415v9M550 418.5h9M554.5 414v9M551 420.5h9M555.5 416v9M551 419.5h9M555.5 415v9M552 419.5h9M556.5 415v9M552 420.5h9M556.5 416v9M553 420.5h9M557.5 416v9M554 421.5h9M558.5 417v9M554 423.5h9M558.5 419v9M555 420.5h9M559.5 416v9M555 421.5h9M559.5 417v9M556 419.5h9M560.5 415v9M556 418.5h9M560.5 414v9M557 420.5h9M561.5 416v9M557 419.5h9M561.5 415v9M558 419.5h9M562.5 415v9M559 420.5h9M563.5 416v9M559 417.5h9M563.5 413v9M108 365.5h9M112.5 361v9M196 372.5h9M200.5 368v9M128 381.5h9M132.5 377v9M132 381.5h9M136.5 377v9M130 384.5h9M134.5 380v9M132 386.5h9M136.5 382v9M153 396.5h9M157.5 392v9M174 409.5h9M178.5 405v9M104 414.5h9M108.5 410v9M101 425.5h9M105.5 421v9M107 424.5h9M111.5 420v9M107 429.5h9M111.5 425v9M149 438.5h9M153.5 434v9M99 442.5h9M103.5 438v9M98 442.5h9M102.5 438v9M99 441.5h9M103.5 437v9M283 415.5h9M287.5 411v9M221 428.5h9M225.5 424v9M275 436.5h9M279.5 432v9M312 433.5h9M316.5 429v9M251 415.5h9M255.5 411v9M418 414.5h9M422.5 410v9M360 417.5h9M364.5 413v9M346 434.5h9M350.5 430v9M398 429.5h9M402.5 425v9M447 430.5h9M451.5 426v9M456 429.5h9M460.5 425v9M431 419.5h9M435.5 415v9M518 391.5h9M522.5 387v9M487 427.5h9M491.5 423v9M514 427.5h9M518.5 423v9M543 427.5h9M547.5 423v9M545 442.5h9M549.5 438v9M546 442.5h9M550.5 438v9M547 442.5h9M551.5 438v9M548 442.5h9M552.5 438v9M549 442.5h9M553.5 438v9M550 442.5h9M554.5 438v9M552 442.5h9M556.5 438v9M553 442.5h9M557.5 438v9M554 442.5h9M558.5 438v9M556 443.5h9M560.5 439v9M559 443.5h9M563.5 439v9M551 444.5h9M555.5 440v9"/></g>
<g clip-path="url(#c4)"><path fill="none" stroke="#fff" stroke-width="1" d="M104 447.5h9M108.5 443v9M104 448.5h9M108.5 444v9M105 449.5h9M109.5 445v9M105 447.5h9M109.5 443v9M106 448.5h9M110.5 444v9M107 449.5h9M111.5 445v9M108 452.5h9M112.5 448v9M108 453.5h9M112.5 449v9M109 451.5h9M113.5 447v9M109 452.5h9M113.5 448v9M110 451.5h9M114.5 447v9M110 452.5h9M114.5 448v9M111 454.5h9M115.5 450v9M111 450.5h9M115.5 446v9M112 452.5h9M116.5 448v9M112 451.5h9M116.5 447v9M113 452.5h9M117.5 448v9M114 455.5h9M118.5 451v9M114 456.5h9M118.5 452v9M115 450.5h9M119.5 446v9M115 456.5h9M119.5 452v9M116 456.5h9M120.5 452v9M117 454.5h9M121.5 450v9M117 456.5h9M121.5 452v9M118 458.5h9M122.5 454v9M118 456.5h9M122.5 452v9M119 458.5h9M123.5 454v9M120 458.5h9M124.5 454v9M120 455.5h9M124.5 451v9M121 457.5h9M125.5 453v9M122 459.5h9M126.5 455v9M122 460.5h9M126.5 456v9M123 460.5h9M127.5 456v9M123 461.5h9M127.5 457v9M124 462.5h9M128.5 458v9M125 462.5h9M129.5 458v9M125 463.5h9M129.5 459v9M126 464.5h9M130.5 460v9M126 462.5h9M130.5 458v9M127 463.5h9M131.5 459v9M127 462.5h9M131.5 458v9M128 464.5h9M132.5 460v9M129 462.5h9M133.5 458v9M129 466.5h9M133.5 462v9M130 462.5h9M134.5 458v9M131 463.5h9M135.5 459v9M131 464.5h9M135.5 460v9M132 465.5h9M136.5 461v9M132 463.5h9M136.5 459v9M133 462.5h9M137.5 458v9M133 464.5h9M137.5 460v9M134 464.5h9M138.5 460v9M134 466.5h9M138.5 462v9M135 465.5h9M139.5 461v9M135 461.5h9M139.5 457v9M136 467.5h9M140.5 463v9M136 465.5h9M140.5 461v9M137 467.5h9M141.5 463v9M137 466.5h9M141.5 462v9M138 469.5h9M142.5 465v9M138 468.5h9M142.5 464v9M139 469.5h9M143.5 465v9M140 471.5h9M144.5 467v9M140 468.5h9M144.5 464v9M141 471.5h9M145.5 467v9M142 473.5h9M146.5 469v9M143 472.5h9M147.5 468v9M143 471.5h9M147.5 467v9M144 472.5h9M148.5 468v9M144 476.5h9M148.5 472v9M145 473.5h9M149.5 469v9M145 474.5h9M149.5 470v9M146 473.5h9M150.5 469v9M146 472.5h9M150.5 468v9M147 477.5h9M151.5 473v9M147 475.5h9M151.5 471v9M148 474.5h9M152.5 470v9M148 475.5h9M152.5 471v9M149 474.5h9M153.5 470v9M149 476.5h9M153.5 472v9M150 475.5h9M154.5 471v9M151 475.5h9M155.5 471v9M151 476.5h9M155.5 472v9M152 475.5h9M156.5 471v9M152 476.5h9M156.5 472v9M153 477.5h9M157.5 473v9M153 480.5h9M157.5 476v9M154 479.5h9M158.5 475v9M154 477.5h9M158.5 473v9M155 478.5h9M159.5 474v9M155 476.5h9M159.5 472v9M156 481.5h9M160.5 477v9M156 476.5h9M160.5 472v9M157 477.5h9M161.5 473v9M157 480.5h9M161.5 476v9M158 479.5h9M162.5 475v9M159 480.5h9M163.5 476v9M159 479.5h9M163.5 475v9M160 480.5h9M164.5 476v9M160 479.5h9M164.5 475v9M161 482.5h9M165.5 478v9M161 481.5h9M165.5 477v9M163 480.5h9M167.5 476v9M164 482.5h9M168.5 478v9M164 477.5h9M168.5 473v9M165 480.5h9M169.5 476v9M165 481.5h9M169.5 477v9M166 481.5h9M170.5 477v9M166 480.5h9M170.5 476v9M167 480.5h9M171.5 476v9M167 478.5h9M171.5 474v9M168 480.5h9M172.5 476v9M168 481.5h9M172.5 477v9M169 480.5h9M173.5 476v9M169 481.5h9M173.5 477v9M170 482.5h9M174.5 478v9M170 483.5h9M174.5 479v9M171 482.5h9M175.5 478v9M171 478.5h9M175.5 474v9M172 482.5h9M176.5 478v9M173 483.5h9M177.5 479v9M174 484.5h9M178.5 480v9M174 481.5h9M178.5 477v9M175 480.5h9M179.5 476v9M175 484.5h9M179.5 480v9M176 483.5h9M180.5 479v9M177 481.5h9M181.5 477v9M177 483.5h9M181.5 479v9M178 483.5h9M182.5 479v9M178 481.5h9M182.5 477v9M179 482.5h9M183.5 478v9M180 487.5h9M184.5 483v9M180 484.5h9M184.5 480v9M181 481.5h9M185.5 477v9M181 478.5h9M185.5 474v9M182 482.5h9M186.5 478v9M182 483.5h9M186.5 479v9M183 483.5h9M187.5 479v9M183 484.5h9M187.5 480v9M184 483.5h9M188.5 479v9M184 480.5h9M188.5 476v9M185 484.5h9M189.5 480v9M185 480.5h9M189.5 476v9M186 481.5h9M190.5 477v9M186 479.5h9M190.5 475v9M187 481.5h9M191.5 477v9M187 482.5h9M191.5 478v9M188 482.5h9M192.5 478v9M188 484.5h9M192.5 480v9M189 483.5h9M193.5 479v9M190 482.5h9M194.5 478v9M190 483.5h9M194.5 479v9M191 484.5h9M195.5 480v9M191 483.5h9M195.5 479v9M192 481.5h9M196.5 477v9M192 484.5h9M196.5 480v9M193 480.5h9M197.5 476v9M193 484.5h9M197.5 480v9M194 484.5h9M198.5 480v9M194 482.5h9M198.5 478v9M195 481.5h9M199.5 477v9M195 483.5h9M199.5 479v9M196 484.5h9M200.5 480v9M196 482.5h9M200.5 478v9M197 482.5h9M201.5 478v9M197 484.5h9M201.5 480v9M198 482.5h9M202.5 478v9M198 479.5h9M202.5 475v9M199 480.5h9M203.5 476v9M199 481.5h9M203.5 477v9M200 483.5h9M204.5 479v9M201 482.5h9M205.5 478v9M201 481.5h9M205.5 477v9M202 481.5h9M206.5 477v9M202 482.5h9M206.5 478v9M203 482.5h9M207.5 478v9M203 481.5h9M207.5 477v9M205 477.5h9M209.5 473v9M205 482.5h9M209.5 478v9M206 476.5h9M210.5 472v9M206 481.5h9M210.5 477v9M207 480.5h9M211.5 476v9M207 483.5h9M211.5 479v9M208 480.5h9M212.5 476v9M208 482.5h9M212.5 478v9M209 482.5h9M213.5 478v9M209 483.5h9M213.5 479v9M210 483.5h9M214.5 479v9M210 486.5h9M214.5 482v9M211 483.5h9M215.5 479v9M212 482.5h9M216.5 478v9M213 482.5h9M217.5 478v9M213 478.5h9M217.5 474v9M214 480.5h9M218.5 476v9M214 484.5h9M218.5 480v9M215 483.5h9M219.5 479v9M215 482.5h9M219.5 478v9M216 483.5h9M220.5 479v9M216 484.5h9M220.5 480v9M217 483.5h9M221.5 479v9M217 482.5h9M221.5 478v9M218 485.5h9M222.5 481v9M218 483.5h9M222.5 479v9M219 486.5h9M223.5 482v9M219 485.5h9M223.5 481v9M220 485.5h9M224.5 481v9M220 483.5h9M224.5 479v9M221 488.5h9M225.5 484v9M221 485.5h9M225.5 481v9M222 486.5h9M226.5 482v9M223 485.5h9M227.5 481v9M223 484.5h9M227.5 480v9M225 486.5h9M229.5 482v9M225 485.5h9M229.5 481v9M226 485.5h9M230.5 481v9M226 484.5h9M230.5 480v9M227 485.5h9M231.5 481v9M228 489.5h9M232.5 485v9M229 486.5h9M233.5 482v9M229 487.5h9M233.5 483v9M230 487.5h9M234.5 483v9M230 484.5h9M234.5 480v9M231 484.5h9M235.5 480v9M231 486.5h9M235.5 482v9M232 484.5h9M236.5 480v9M232 486.5h9M236.5 482v9M233 486.5h9M237.5 482v9M233 489.5h9M237.5 485v9M234 484.5h9M238.5 480v9M234 486.5h9M238.5 482v9M235 486.5h9M239.5 482v9M235 485.5h9M239.5 481v9M236 486.5h9M240.5 482v9M237 486.5h9M241.5 482v9M237 488.5h9M241.5 484v9M238 486.5h9M242.5 482v9M239 488.5h9M243.5 484v9M239 487.5h9M243.5 483v9M240 486.5h9M244.5 482v9M240 489.5h9M244.5 485v9M241 487.5h9M245.5 483v9M241 492.5h9M245.5 488v9M242 487.5h9M246.5 483v9M242 486.5h9M246.5 482v9M243 487.5h9M247.5 483v9M243 488.5h9M247.5 484v9M244 488.5h9M248.5 484v9M245 487.5h9M249.5 483v9M246 489.5h9M250.5 485v9M246 488.5h9M250.5 484v9M247 487.5h9M251.5 483v9M247 489.5h9M251.5 485v9M248 489.5h9M252.5 485v9M248 488.5h9M252.5 484v9M249 484.5h9M253.5 480v9M249 488.5h9M253.5 484v9M250 485.5h9M254.5 481v9M250 488.5h9M254.5 484v9M251 488.5h9M255.5 484v9M251 487.5h9M255.5 483v9M252 486.5h9M256.5 482v9M252 490.5h9M256.5 486v9M253 488.5h9M257.5 484v9M253 486.5h9M257.5 482v9M254 488.5h9M258.5 484v9M254 486.5h9M258.5 482v9M255 486.5h9M259.5 482v9M256 488.5h9M260.5 484v9M256 487.5h9M260.5 483v9M257 488.5h9M261.5 484v9M257 489.5h9M261.5 485v9M258 487.5h9M262.5 483v9M258 488.5h9M262.5 484v9M259 487.5h9M263.5 483v9M259 485.5h9M263.5 481v9M260 488.5h9M264.5 484v9M260 485.5h9M264.5 481v9M261 487.5h9M265.5 483v9M262 488.5h9M266.5 484v9M262 487.5h9M266.5 483v9M263 487.5h9M267.5 483v9M263 488.5h9M267.5 484v9M264 488.5h9M268.5 484v9M264 487.5h9M268.5 483v9M265 488.5h9M269.5 484v9M266 487.5h9M270.5 483v9M266 488.5h9M270.5 484v9M267 487.5h9M271.5 483v9M267 491.5h9M271.5 487v9M268 489.5h9M272.5 485v9M268 488.5h9M272.5 484v9M269 488.5h9M273.5 484v9M269 489.5h9M273.5 485v9M270 489.5h9M274.5 485v9M270 488.5h9M274.5 484v9M271 488.5h9M275.5 484v9M271 487.5h9M275.5 483v9M272 489.5h9M276.5 485v9M272 490.5h9M276.5 486v9M273 489.5h9M277.5 485v9M273 488.5h9M277.5 484v9M274 489.5h9M278.5 485v9M274 488.5h9M278.5 484v9M275 490.5h9M279.5 486v9M275 489.5h9M279.5 485v9M276 490.5h9M280.5 486v9M276 493.5h9M280.5 489v9M277 489.5h9M281.5 485v9M277 490.5h9M281.5 486v9M278 490.5h9M282.5 486v9M278 492.5h9M282.5 488v9M279 489.5h9M283.5 485v9M279 490.5h9M283.5 486v9M280 491.5h9M284.5 487v9M280 492.5h9M284.5 488v9M281 492.5h9M285.5 488v9M281 490.5h9M285.5 486v9M282 493.5h9M286.5 489v9M282 492.5h9M286.5 488v9M283 492.5h9M287.5 488v9M284 492.5h9M288.5 488v9M284 491.5h9M288.5 487v9M285 492.5h9M289.5 488v9M286 496.5h9M290.5 492v9M286 490.5h9M290.5 486v9M287 487.5h9M291.5 483v9M287 492.5h9M291.5 488v9M288 491.5h9M292.5 487v9M289 492.5h9M293.5 488v9M289 491.5h9M293.5 487v9M290 492.5h9M294.5 488v9M290 491.5h9M294.5 487v9M291 490.5h9M295.5 486v9M291 491.5h9M295.5 487v9M292 492.5h9M296.5 488v9M292 491.5h9M296.5 487v9M293 491.5h9M297.5 487v9M293 490.5h9M297.5 486v9M294 488.5h9M298.5 484v9M294 489.5h9M298.5 485v9M295 490.5h9M299.5 486v9M296 490.5h9M300.5 486v9M297 493.5h9M301.5 489v9M297 489.5h9M301.5 485v9M298 492.5h9M302.5 488v9M298 488.5h9M302.5 484v9M299 488.5h9M303.5 484v9M299 489.5h9M303.5 485v9M300 489.5h9M304.5 485v9M300 490.5h9M304.5 486v9M301 488.5h9M305.5 484v9M301 493.5h9M305.5 489v9M302 489.5h9M306.5 485v9M303 489.5h9M307.5 485v9M304 492.5h9M308.5 488v9M304 490.5h9M308.5 486v9M305 490.5h9M309.5 486v9M305 493.5h9M309.5 489v9M306 495.5h9M310.5 491v9M306 491.5h9M310.5 487v9M307 491.5h9M311.5 487v9M307 489.5h9M311.5 485v9M308 491.5h9M312.5 487v9M308 489.5h9M312.5 485v9M309 491.5h9M313.5 487v9M309 490.5h9M313.5 486v9M310 490.5h9M314.5 486v9M310 491.5h9M314.5 487v9M311 489.5h9M315.5 485v9M311 495.5h9M315.5 491v9M312 493.5h9M316.5 489v9M313 495.5h9M317.5 491v9M313 493.5h9M317.5 489v9M314 493.5h9M318.5 489v9M315 492.5h9M319.5 488v9M316 494.5h9M320.5 490v9M316 493.5h9M320.5 489v9M317 492.5h9M321.5 488v9M317 496.5h9M321.5 492v9M318 493.5h9M322.5 489v9M318 494.5h9M322.5 490v9M319 492.5h9M323.5 488v9M319 494.5h9M323.5 490v9M320 495.5h9M324.5 491v9M320 493.5h9M324.5 489v9M321 495.5h9M325.5 491v9M321 494.5h9M325.5 490v9M322 492.5h9M326.5 488v9M322 494.5h9M326.5 490v9M323 495.5h9M327.5 491v9M323 491.5h9M327.5 487v9M324 493.5h9M328.5 489v9M324 495.5h9M328.5 491v9M325 492.5h9M329.5 488v9M325 493.5h9M329.5 489v9M326 488.5h9M330.5 484v9M326 492.5h9M330.5 488v9M327 494.5h9M331.5 490v9M327 493.5h9M331.5 489v9M328 491.5h9M332.5 487v9M328 492.5h9M332.5 488v9M329 495.5h9M333.5 491v9M330 496.5h9M334.5 492v9M331 490.5h9M335.5 486v9M331 496.5h9M335.5 492v9M332 494.5h9M336.5 490v9M333 494.5h9M337.5 490v9M333 497.5h9M337.5 493v9M334 497.5h9M338.5 493v9M334 493.5h9M338.5 489v9M335 496.5h9M339.5 492v9M335 495.5h9M339.5 491v9M336 495.5h9M340.5 491v9M336 494.5h9M340.5 490v9M337 495.5h9M341.5 491v9M337 496.5h9M341.5 492v9M338 497.5h9M342.5 493v9M339 495.5h9M343.5 491v9M339 499.5h9M343.5 495v9M340 496.5h9M344.5 492v9M340 497.5h9M344.5 493v9M341 497.5h9M345.5 493v9M341 499.5h9M345.5 495v9M342 500.5h9M346.5 496v9M342 496.5h9M346.5 492v9M343 498.5h9M347.5 494v9M344 498.5h9M348.5 494v9M344 495.5h9M348.5 491v9M345 498.5h9M349.5 494v9M346 499.5h9M350.5 495v9M346 500.5h9M350.5 496v9M347 496.5h9M351.5 492v9M347 501.5h9M351.5 497v9M348 498.5h9M352.5 494v9M348 493.5h9M352.5 489v9M349 497.5h9M353.5 493v9M349 499.5h9M353.5 495v9M350 495.5h9M354.5 491v9M350 498.5h9M354.5 494v9M351 497.5h9M355.5 493v9M351 498.5h9M355.5 494v9M352 496.5h9M356.5 492v9M352 497.5h9M356.5 493v9M353 494.5h9M357.5 490v9M353 497.5h9M357.5 493v9M354 492.5h9M358.5 488v9M354 496.5h9M358.5 492v9M355 494.5h9M359.5 490v9M355 495.5h9M359.5 491v9M356 495.5h9M360.5 491v9M356 496.5h9M360.5 492v9M357 493.5h9M361.5 489v9M358 492.5h9M362.5 488v9M358 495.5h9M362.5 491v9M359 494.5h9M363.5 490v9M359 493.5h9M363.5 489v9M360 498.5h9M364.5 494v9M360 494.5h9M364.5 490v9M361 490.5h9M365.5 486v9M361 492.5h9M365.5 488v9M362 494.5h9M366.5 490v9M362 493.5h9M366.5 489v9M363 492.5h9M367.5 488v9M363 495.5h9M367.5 491v9M364 494.5h9M368.5 490v9M364 492.5h9M368.5 488v9M365 491.5h9M369.5 487v9M365 492.5h9M369.5 488v9M366 492.5h9M370.5 488v9M366 490.5h9M370.5 486v9M367 491.5h9M371.5 487v9M368 492.5h9M372.5 488v9M368 491.5h9M372.5 487v9M369 494.5h9M373.5 490v9M369 488.5h9M373.5 484v9M370 490.5h9M374.5 486v9M371 488.5h9M375.5 484v9M371 491.5h9M375.5 487v9M372 489.5h9M376.5 485v9M373 491.5h9M377.5 487v9M373 488.5h9M377.5 484v9M374 490.5h9M378.5 486v9M375 492.5h9M379.5 488v9M375 489.5h9M379.5 485v9M376 488.5h9M380.5 484v9M376 489.5h9M380.5 485v9M377 484.5h9M381.5 480v9M377 488.5h9M381.5 484v9M378 490.5h9M382.5 486v9M378 487.5h9M382.5 483v9M379 489.5h9M383.5 485v9M380 492.5h9M384.5 488v9M380 490.5h9M384.5 486v9M381 490.5h9M385.5 486v9M381 492.5h9M385.5 488v9M382 487.5h9M386.5 483v9M382 491.5h9M386.5 487v9M383 490.5h9M387.5 486v9M384 492.5h9M388.5 488v9M384 491.5h9M388.5 487v9M385 493.5h9M389.5 489v9M385 492.5h9M389.5 488v9M386 492.5h9M390.5 488v9M386 493.5h9M390.5 489v9M387 488.5h9M391.5 484v9M387 490.5h9M391.5 486v9M388 488.5h9M392.5 484v9M388 490.5h9M392.5 486v9M389 493.5h9M393.5 489v9M389 494.5h9M393.5 490v9M390 490.5h9M394.5 486v9M390 489.5h9M394.5 485v9M391 489.5h9M395.5 485v9M391 491.5h9M395.5 487v9M392 488.5h9M396.5 484v9M392 492.5h9M396.5 488v9M393 490.5h9M397.5 486v9M393 488.5h9M397.5 484v9M394 489.5h9M398.5 485v9M395 491.5h9M399.5 487v9M395 485.5h9M399.5 481v9M396 490.5h9M400.5 486v9M396 489.5h9M400.5 485v9M397 490.5h9M401.5 486v9M397 488.5h9M401.5 484v9M398 490.5h9M402.5 486v9M399 486.5h9M403.5 482v9M399 490.5h9M403.5 486v9M400 492.5h9M404.5 488v9M400 493.5h9M404.5 489v9M401 491.5h9M405.5 487v9M402 490.5h9M406.5 486v9M402 488.5h9M406.5 484v9M403 492.5h9M407.5 488v9M403 491.5h9M407.5 487v9M404 492.5h9M408.5 488v9M404 488.5h9M408.5 484v9M405 490.5h9M409.5 486v9M406 489.5h9M410.5 485v9M406 490.5h9M410.5 486v9M407 491.5h9M411.5 487v9M408 492.5h9M412.5 488v9M408 490.5h9M412.5 486v9M409 487.5h9M413.5 483v9M409 490.5h9M413.5 486v9M410 488.5h9M414.5 484v9M410 490.5h9M414.5 486v9M411 490.5h9M415.5 486v9M411 491.5h9M415.5 487v9M412 491.5h9M416.5 487v9M412 492.5h9M416.5 488v9M413 491.5h9M417.5 487v9M413 496.5h9M417.5 492v9M414 491.5h9M418.5 487v9M414 492.5h9M418.5 488v9M415 494.5h9M419.5 490v9M415 492.5h9M419.5 488v9M416 492.5h9M420.5 488v9M416 491.5h9M420.5 487v9M417 490.5h9M421.5 486v9M417 491.5h9M421.5 487v9M418 492.5h9M422.5 488v9M419 490.5h9M423.5 486v9M419 492.5h9M423.5 488v9M420 492.5h9M424.5 488v9M420 491.5h9M424.5 487v9M421 491.5h9M425.5 487v9M421 493.5h9M425.5 489v9M422 491.5h9M426.5 487v9M422 494.5h9M426.5 490v9M423 492.5h9M427.5 488v9M424 489.5h9M428.5 485v9M424 487.5h9M428.5 483v9M425 486.5h9M429.5 482v9M425 491.5h9M429.5 487v9M426 490.5h9M430.5 486v9M426 492.5h9M430.5 488v9M427 490.5h9M431.5 486v9M428 491.5h9M432.5 487v9M428 490.5h9M432.5 486v9M429 492.5h9M433.5 488v9M429 491.5h9M433.5 487v9M430 489.5h9M434.5 485v9M430 493.5h9M434.5 489v9M431 493.5h9M435.5 489v9M431 491.5h9M435.5 487v9M440 494.5h9M444.5 490v9M440 493.5h9M444.5 489v9M441 491.5h9M445.5 487v9M442 495.5h9M446.5 491v9M442 492.5h9M446.5 488v9M443 492.5h9M447.5 488v9M444 492.5h9M448.5 488v9M444 491.5h9M448.5 487v9M445 490.5h9M449.5 486v9M446 492.5h9M450.5 488v9M446 493.5h9M450.5 489v9M447 495.5h9M451.5 491v9M447 491.5h9M451.5 487v9M448 491.5h9M452.5 487v9M449 490.5h9M453.5 486v9M449 492.5h9M453.5 488v9M450 493.5h9M454.5 489v9M450 491.5h9M454.5 487v9M451 491.5h9M455.5 487v9M451 490.5h9M455.5 486v9M452 488.5h9M456.5 484v9M452 489.5h9M456.5 485v9M453 492.5h9M457.5 488v9M453 491.5h9M457.5 487v9M454 491.5h9M458.5 487v9M454 489.5h9M458.5 485v9M455 492.5h9M459.5 488v9M455 495.5h9M459.5 491v9M456 491.5h9M460.5 487v9M456 486.5h9M460.5 482v9M457 489.5h9M461.5 485v9M457 490.5h9M461.5 486v9M458 490.5h9M462.5 486v9M459 489.5h9M463.5 485v9M459 491.5h9M463.5 487v9M460 488.5h9M464.5 484v9M460 487.5h9M464.5 483v9M461 489.5h9M465.5 485v9M461 490.5h9M465.5 486v9M462 489.5h9M466.5 485v9M462 486.5h9M466.5 482v9M463 488.5h9M467.5 484v9M463 486.5h9M467.5 482v9M464 489.5h9M468.5 485v9M464 488.5h9M468.5 484v9M465 486.5h9M469.5 482v9M466 486.5h9M470.5 482v9M466 491.5h9M470.5 487v9M467 485.5h9M471.5 481v9M467 488.5h9M471.5 484v9M468 485.5h9M472.5 481v9M468 487.5h9M472.5 483v9M469 484.5h9M473.5 480v9M469 487.5h9M473.5 483v9M470 486.5h9M474.5 482v9M471 487.5h9M475.5 483v9M472 482.5h9M476.5 478v9M472 484.5h9M476.5 480v9M473 485.5h9M477.5 481v9M473 484.5h9M477.5 480v9M474 485.5h9M478.5 481v9M475 482.5h9M479.5 478v9M475 483.5h9M479.5 479v9M476 482.5h9M480.5 478v9M476 483.5h9M480.5 479v9M477 488.5h9M481.5 484v9M477 482.5h9M481.5 478v9M478 485.5h9M482.5 481v9M479 483.5h9M483.5 479v9M479 481.5h9M483.5 477v9M480 483.5h9M484.5 479v9M480 481.5h9M484.5 477v9M481 483.5h9M485.5 479v9M481 482.5h9M485.5 478v9M482 482.5h9M486.5 478v9M482 484.5h9M486.5 480v9M483 484.5h9M487.5 480v9M483 485.5h9M487.5 481v9M484 486.5h9M488.5 482v9M484 483.5h9M488.5 479v9M485 485.5h9M489.5 481v9M485 486.5h9M489.5 482v9M486 484.5h9M490.5 480v9M486 483.5h9M490.5 479v9M487 484.5h9M491.5 480v9M487 482.5h9M491.5 478v9M488 487.5h9M492.5 483v9M488 484.5h9M492.5 480v9M489 481.5h9M493.5 477v9M489 484.5h9M493.5 480v9M490 483.5h9M494.5 479v9M490 479.5h9M494.5 475v9M491 483.5h9M495.5 479v9M491 482.5h9M495.5 478v9M492 485.5h9M496.5 481v9M492 482.5h9M496.5 478v9M493 482.5h9M497.5 478v9M493 484.5h9M497.5 480v9M494 484.5h9M498.5 480v9M494 482.5h9M498.5 478v9M495 484.5h9M499.5 480v9M495 483.5h9M499.5 479v9M496 482.5h9M500.5 478v9M496 483.5h9M500.5 479v9M497 483.5h9M501.5 479v9M497 482.5h9M501.5 478v9M498 481.5h9M502.5 477v9M498 483.5h9M502.5 479v9M499 482.5h9M503.5 478v9M500 484.5h9M504.5 480v9M500 482.5h9M504.5 478v9M501 480.5h9M505.5 476v9M501 482.5h9M505.5 478v9M502 482.5h9M506.5 478v9M502 480.5h9M506.5 476v9M503 480.5h9M507.5 476v9M504 483.5h9M508.5 479v9M504 480.5h9M508.5 476v9M505 482.5h9M509.5 478v9M505 483.5h9M509.5 479v9M506 481.5h9M510.5 477v9M506 479.5h9M510.5 475v9M507 480.5h9M511.5 476v9M507 484.5h9M511.5 480v9M508 486.5h9M512.5 482v9M508 483.5h9M512.5 479v9M509 480.5h9M513.5 476v9M510 478.5h9M514.5 474v9M510 480.5h9M514.5 476v9M511 478.5h9M515.5 474v9M511 479.5h9M515.5 475v9M512 480.5h9M516.5 476v9M512 479.5h9M516.5 475v9M513 477.5h9M517.5 473v9M513 478.5h9M517.5 474v9M514 480.5h9M518.5 476v9M514 479.5h9M518.5 475v9M515 482.5h9M519.5 478v9M515 477.5h9M519.5 473v9M516 478.5h9M520.5 474v9M516 480.5h9M520.5 476v9M517 479.5h9M521.5 475v9M517 481.5h9M521.5 477v9M518 483.5h9M522.5 479v9M518 480.5h9M522.5 476v9M519 482.5h9M523.5 478v9M520 481.5h9M524.5 477v9M520 479.5h9M524.5 475v9M521 484.5h9M525.5 480v9M521 482.5h9M525.5 478v9M522 481.5h9M526.5 477v9M522 480.5h9M526.5 476v9M523 481.5h9M527.5 477v9M524 480.5h9M528.5 476v9M524 478.5h9M528.5 474v9M525 480.5h9M529.5 476v9M525 479.5h9M529.5 475v9M526 475.5h9M530.5 471v9M526 478.5h9M530.5 474v9M527 482.5h9M531.5 478v9M527 480.5h9M531.5 476v9M528 478.5h9M532.5 474v9M528 481.5h9M532.5 477v9M529 479.5h9M533.5 475v9M529 477.5h9M533.5 473v9M530 480.5h9M534.5 476v9M530 477.5h9M534.5 473v9M531 476.5h9M535.5 472v9M532 478.5h9M536.5 474v9M532 477.5h9M536.5 473v9M533 479.5h9M537.5 475v9M533 476.5h9M537.5 472v9M534 478.5h9M538.5 474v9M534 475.5h9M538.5 471v9M535 482.5h9M539.5 478v9M535 478.5h9M539.5 474v9M536 476.5h9M540.5 472v9M536 477.5h9M540.5 473v9M537 479.5h9M541.5 475v9M537 477.5h9M541.5 473v9M538 480.5h9M542.5 476v9M538 478.5h9M542.5 474v9M539 474.5h9M543.5 470v9M539 477.5h9M543.5 473v9M540 478.5h9M544.5 474v9M540 479.5h9M544.5 475v9M541 477.5h9M545.5 473v9M541 480.5h9M545.5 476v9M542 477.5h9M546.5 473v9M542 478.5h9M546.5 474v9M543 480.5h9M547.5 476v9M544 479.5h9M548.5 475v9M545 480.5h9M549.5 476v9M545 479.5h9M549.5 475v9M546 478.5h9M550.5 474v9M546 477.5h9M550.5 473v9M547 479.5h9M551.5 475v9M548 479.5h9M552.5 475v9M549 479.5h9M553.5 475v9M549 482.5h9M553.5 478v9M550 477.5h9M554.5 473v9M550 479.5h9M554.5 475v9M551 479.5h9M555.5 475v9M551 478.5h9M555.5 474v9M552 479.5h9M556.5 475v9M553 478.5h9M557.5 474v9M554 476.5h9M558.5 472v9M555 474.5h9M559.5 470v9M555 477.5h9M559.5 473v9M556 481.5h9M560.5 477v9M556 480.5h9M560.5 476v9M557 482.5h9M561.5 478v9M557 477.5h9M561.5 473v9M558 479.5h9M562.5 475v9M558 478.5h9M562.5 474v9M559 476.5h9M563.5 472v9M559 479.5h9M563.5 475v9M136 452.5h9M140.5 448v9M174 453.5h9M178.5 449v9M123 449.5h9M127.5 445v9M114 448.5h9M118.5 444v9M142 463.5h9M146.5 459v9M165 463.5h9M169.5 459v9M163 469.5h9M167.5 465v9M189 466.5h9M193.5 462v9M196 465.5h9M200.5 461v9M202 464.5h9M206.5 460v9M196 472.5h9M200.5 468v9M98 483.5h9M102.5 479v9M101 489.5h9M105.5 485v9M101 494.5h9M105.5 490v9M100 495.5h9M104.5 491v9M107 497.5h9M111.5 493v9M107 528.5h9M111.5 524v9M149 536.5h9M153.5 532v9M98 550.5h9M102.5 546v9M99 550.5h9M103.5 546v9M98 466.5h9M102.5 462v9M99 467.5h9M103.5 463v9M100 466.5h9M104.5 462v9M101 468.5h9M105.5 464v9M99 465.5h9M103.5 461v9M100 468.5h9M104.5 464v9M102 467.5h9M106.5 463v9M98 468.5h9M102.5 464v9M217 474.5h9M221.5 470v9M222 474.5h9M226.5 470v9M227 474.5h9M231.5 470v9M241 475.5h9M245.5 471v9M251 478.5h9M255.5 474v9M259 481.5h9M263.5 477v9M267 473.5h9M271.5 469v9M282 478.5h9M286.5 474v9M283 477.5h9M287.5 473v9M294 480.5h9M298.5 476v9M298 481.5h9M302.5 477v9M324 484.5h9M328.5 480v9M329 484.5h9M333.5 480v9M221 508.5h9M225.5 504v9M264 515.5h9M268.5 511v9M265 515.5h9M269.5 511v9M275 514.5h9M279.5 510v9M280 517.5h9M284.5 513v9M281 517.5h9M285.5 513v9M312 513.5h9M316.5 509v9M313 519.5h9M317.5 515v9M316 518.5h9M320.5 514v9M418 468.5h9M422.5 464v9M360 477.5h9M364.5 473v9M420 477.5h9M424.5 473v9M375 479.5h9M379.5 475v9M392 479.5h9M396.5 475v9M363 482.5h9M367.5 478v9M359 485.5h9M363.5 481v9M430 483.5h9M434.5 479v9M417 483.5h9M421.5 479v9M472 479.5h9M476.5 475v9M343 489.5h9M347.5 485v9M372 500.5h9M376.5 496v9M372 506.5h9M376.5 502v9M381 498.5h9M385.5 494v9M387 500.5h9M391.5 496v9M389 505.5h9M393.5 501v9M398 496.5h9M402.5 492v9M398 501.5h9M402.5 497v9M381 513.5h9M385.5 509v9M386 513.5h9M390.5 509v9M346 515.5h9M350.5 511v9M403 516.5h9M407.5 512v9M404 516.5h9M408.5 512v9M405 516.5h9M409.5 512v9M404 515.5h9M408.5 511v9M404 517.5h9M408.5 513v9M428 499.5h9M432.5 495v9M456 499.5h9M460.5 495v9M447 502.5h9M451.5 498v9M447 505.5h9M451.5 501v9M447 511.5h9M451.5 507v9M531 467.5h9M535.5 463v9M480 473.5h9M484.5 469v9M493 473.5h9M497.5 469v9M504 473.5h9M508.5 469v9M522 472.5h9M526.5 468v9M487 491.5h9M491.5 487v9M517 489.5h9M521.5 485v9M518 492.5h9M522.5 488v9M543 487.5h9M547.5 483v9M547 508.5h9M551.5 504v9M549 508.5h9M553.5 504v9M552 508.5h9M556.5 504v9M556 508.5h9M560.5 504v9M559 508.5h9M563.5 504v9M104 440.5h9M108.5 436v9M105 440.5h9M109.5 436v9M106 440.5h9M110.5 436v9M107 441.5h9M111.5 437v9M108 444.5h9M112.5 440v9M109 446.5h9M113.5 442v9M110 449.5h9M114.5 445v9M111 446.5h9M115.5 442v9M112 448.5h9M116.5 444v9M113 450.5h9M117.5 446v9M114 445.5h9M118.5 441v9M116 447.5h9M120.5 443v9M117 453.5h9M121.5 449v9M118 451.5h9M122.5 447v9M119 450.5h9M123.5 446v9M120 451.5h9M124.5 447v9M121 451.5h9M125.5 447v9M122 453.5h9M126.5 449v9M123 456.5h9M127.5 452v9M124 452.5h9M128.5 448v9M125 453.5h9M129.5 449v9M126 456.5h9M130.5 452v9M127 456.5h9M131.5 452v9M128 455.5h9M132.5 451v9"/></g>
<g clip-path="url(#c5)"><path fill="none" stroke="#fff" stroke-width="1" d="M99 656.5h9M103.5 652v9M100 656.5h9M104.5 652v9M101 656.5h9M105.5 652v9M104 656.5h9M108.5 652v9M105 656.5h9M109.5 652v9M106 656.5h9M110.5 652v9M107 656.5h9M111.5 652v9M108 656.5h9M112.5 652v9M109 656.5h9M113.5 652v9M110 656.5h9M114.5 652v9M111 656.5h9M115.5 652v9M112 656.5h9M116.5 652v9M113 656.5h9M117.5 652v9M114 656.5h9M118.5 652v9M115 656.5h9M119.5 652v9M116 656.5h9M120.5 652v9M117 656.5h9M121.5 652v9M118 656.5h9M122.5 652v9M119 656.5h9M123.5 652v9M120 656.5h9M124.5 652v9M121 656.5h9M125.5 652v9M122 656.5h9M126.5 652v9M123 656.5h9M127.5 652v9M124 656.5h9M128.5 652v9M125 656.5h9M129.5 652v9M126 656.5h9M130.5 652v9M127 656.5h9M131.5 652v9M128 656.5h9M132.5 652v9M129 656.5h9M133.5 652v9M130 656.5h9M134.5 652v9M131 656.5h9M135.5 652v9M132 656.5h9M136.5 652v9M133 656.5h9M137.5 652v9M134 656.5h9M138.5 652v9M135 656.5h9M139.5 652v9M136 656.5h9M140.5 652v9M137 656.5h9M141.5 652v9M138 656.5h9M142.5 652v9M139 656.5h9M143.5 652v9M140 656.5h9M144.5 652v9M141 656.5h9M145.5 652v9M142 656.5h9M146.5 652v9M143 656.5h9M147.5 652v9M144 656.5h9M148.5 652v9M145 656.5h9M149.5 652v9M146 656.5h9M150.5 652v9M147 656.5h9M151.5 652v9M148 656.5h9M152.5 652v9M149 656.5h9M153.5 652v9M150 656.5h9M154.5 652v9M151 656.5h9M155.5 652v9M152 656.5h9M156.5 652v9M153 656.5h9M157.5 652v9M154 656.5h9M158.5 652v9M155 656.5h9M159.5 652v9M156 656.5h9M160.5 652v9M157 656.5h9M161.5 652v9M158 656.5h9M162.5 652v9M159 656.5h9M163.5 652v9M160 656.5h9M164.5 652v9M161 656.5h9M165.5 652v9M163 656.5h9M167.5 652v9M164 656.5h9M168.5 652v9M165 656.5h9M169.5 652v9M166 656.5h9M170.5 652v9M167 656.5h9M171.5 652v9M168 656.5h9M172.5 652v9M169 656.5h9M173.5 652v9M170 656.5h9M174.5 652v9M171 656.5h9M175.5 652v9M172 656.5h9M176.5 652v9M173 656.5h9M177.5 652v9M174 656.5h9M178.5 652v9M175 656.5h9M179.5 652v9M176 656.5h9M180.5 652v9M177 656.5h9M181.5 652v9M178 656.5h9M182.5 652v9M179 656.5h9M183.5 652v9M180 656.5h9M184.5 652v9M181 656.5h9M185.5 652v9M182 656.5h9M186.5 652v9M183 656.5h9M187.5 652v9M184 656.5h9M188.5 652v9M185 656.5h9M189.5 652v9M186 656.5h9M190.5 652v9M187 656.5h9M191.5 652v9M188 656.5h9M192.5 652v9M189 656.5h9M193.5 652v9M190 656.5h9M194.5 652v9M191 656.5h9M195.5 652v9M192 656.5h9M196.5 652v9M193 656.5h9M197.5 652v9M194 656.5h9M198.5 652v9M195 656.5h9M199.5 652v9M196 656.5h9M200.5 652v9M197 656.5h9M201.5 652v9M198 656.5h9M202.5 652v9M199 656.5h9M203.5 652v9M200 656.5h9M204.5 652v9M201 656.5h9M205.5 652v9M202 656.5h9M206.5 652v9M203 656.5h9M207.5 652v9M205 656.5h9M209.5 652v9M206 656.5h9M210.5 652v9M207 656.5h9M211.5 652v9M208 656.5h9M212.5 652v9M209 656.5h9M213.5 652v9M210 656.5h9M214.5 652v9M211 656.5h9M215.5 652v9M212 656.5h9M216.5 652v9M213 656.5h9M217.5 652v9M214 656.5h9M218.5 652v9M215 656.5h9M219.5 652v9M216 656.5h9M220.5 652v9M217 656.5h9M221.5 652v9M218 656.5h9M222.5 652v9M219 656.5h9M223.5 652v9M220 656.5h9M224.5 652v9M221 656.5h9M225.5 652v9M222 656.5h9M226.5 652v9M223 656.5h9M227.5 652v9M225 656.5h9M229.5 652v9M226 656.5h9M230.5 652v9M227 656.5h9M231.5 652v9M228 656.5h9M232.5 652v9M229 656.5h9M233.5 652v9M230 656.5h9M234.5 652v9M231 656.5h9M235.5 652v9M232 656.5h9M236.5 652v9M233 656.5h9M237.5 652v9M234 656.5h9M238.5 652v9M235 656.5h9M239.5 652v9M236 656.5h9M240.5 652v9M237 656.5h9M241.5 652v9M238 656.5h9M242.5 652v9M239 656.5h9M243.5 652v9M240 656.5h9M244.5 652v9M241 656.5h9M245.5 652v9M242 656.5h9M246.5 652v9M243 656.5h9M247.5 652v9M244 656.5h9M248.5 652v9M245 656.5h9M249.5 652v9M246 656.5h9M250.5 652v9M247 656.5h9M251.5 652v9M248 656.5h9M252.5 652v9M249 656.5h9M253.5 652v9M250 656.5h9M254.5 652v9M251 656.5h9M255.5 652v9M252 656.5h9M256.5 652v9M253 656.5h9M257.5 652v9M254 656.5h9M258.5 652v9M255 656.5h9M259.5 652v9M256 656.5h9M260.5 652v9M257 656.5h9M261.5 652v9M258 656.5h9M262.5 652v9M259 656.5h9M263.5 652v9M260 656.5h9M264.5 652v9M261 656.5h9M265.5 652v9M262 656.5h9M266.5 652v9M263 656.5h9M267.5 652v9M264 656.5h9M268.5 652v9M265 656.5h9M269.5 652v9M266 656.5h9M270.5 652v9M267 656.5h9M271.5 652v9M268 656.5h9M272.5 652v9M269 656.5h9M273.5 652v9M270 656.5h9M274.5 652v9M271 656.5h9M275.5 652v9M272 656.5h9M276.5 652v9M273 656.5h9M277.5 652v9M274 656.5h9M278.5 652v9M275 656.5h9M279.5 652v9M276 656.5h9M280.5 652v9M277 656.5h9M281.5 652v9M278 656.5h9M282.5 652v9M279 656.5h9M283.5 652v9M280 656.5h9M284.5 652v9M281 656.5h9M285.5 652v9M282 656.5h9M286.5 652v9M283 656.5h9M287.5 652v9M284 656.5h9M288.5 652v9M285 656.5h9M289.5 652v9M286 656.5h9M290.5 652v9M287 656.5h9M291.5 652v9M288 656.5h9M292.5 652v9M289 656.5h9M293.5 652v9M290 656.5h9M294.5 652v9M291 656.5h9M295.5 652v9M292 656.5h9M296.5 652v9M293 656.5h9M297.5 652v9M294 656.5h9M298.5 652v9M295 656.5h9M299.5 652v9M296 656.5h9M300.5 652v9M297 656.5h9M301.5 652v9M298 656.5h9M302.5 652v9M299 656.5h9M303.5 652v9M300 656.5h9M304.5 652v9M301 656.5h9M305.5 652v9M302 656.5h9M306.5 652v9M303 656.5h9M307.5 652v9M304 656.5h9M308.5 652v9M305 656.5h9M309.5 652v9M306 656.5h9M310.5 652v9M307 656.5h9M311.5 652v9M308 656.5h9M312.5 652v9M309 656.5h9M313.5 652v9M310 656.5h9M314.5 652v9M311 656.5h9M315.5 652v9M312 656.5h9M316.5 652v9M313 656.5h9M317.5 652v9M314 656.5h9M318.5 652v9M315 656.5h9M319.5 652v9M316 656.5h9M320.5 652v9M317 656.5h9M321.5 652v9M318 656.5h9M322.5 652v9M319 656.5h9M323.5 652v9M320 656.5h9M324.5 652v9M321 656.5h9M325.5 652v9M322 656.5h9M326.5 652v9M323 656.5h9M327.5 652v9M324 656.5h9M328.5 652v9M325 656.5h9M329.5 652v9M326 656.5h9M330.5 652v9M327 656.5h9M331.5 652v9M328 656.5h9M332.5 652v9M329 656.5h9M333.5 652v9M330 656.5h9M334.5 652v9M331 656.5h9M335.5 652v9M332 656.5h9M336.5 652v9M333 656.5h9M337.5 652v9M334 656.5h9M338.5 652v9M335 656.5h9M339.5 652v9M336 656.5h9M340.5 652v9M337 656.5h9M341.5 652v9M338 656.5h9M342.5 652v9M339 656.5h9M343.5 652v9M340 656.5h9M344.5 652v9M341 656.5h9M345.5 652v9M342 656.5h9M346.5 652v9M343 656.5h9M347.5 652v9M344 656.5h9M348.5 652v9M345 656.5h9M349.5 652v9M346 656.5h9M350.5 652v9M347 656.5h9M351.5 652v9M348 656.5h9M352.5 652v9M349 656.5h9M353.5 652v9M350 656.5h9M354.5 652v9M351 656.5h9M355.5 652v9M352 656.5h9M356.5 652v9M353 656.5h9M357.5 652v9M354 656.5h9M358.5 652v9M355 656.5h9M359.5 652v9M356 656.5h9M360.5 652v9M357 656.5h9M361.5 652v9M358 656.5h9M362.5 652v9M359 656.5h9M363.5 652v9M360 656.5h9M364.5 652v9M361 656.5h9M365.5 652v9M362 656.5h9M366.5 652v9M363 656.5h9M367.5 652v9M364 656.5h9M368.5 652v9M365 656.5h9M369.5 652v9M366 656.5h9M370.5 652v9M367 656.5h9M371.5 652v9M368 656.5h9M372.5 652v9M369 656.5h9M373.5 652v9M370 656.5h9M374.5 652v9M371 656.5h9M375.5 652v9M372 656.5h9M376.5 652v9M373 656.5h9M377.5 652v9M374 656.5h9M378.5 652v9M375 656.5h9M379.5 652v9M376 656.5h9M380.5 652v9M377 656.5h9M381.5 652v9M378 656.5h9M382.5 652v9M379 656.5h9M383.5 652v9M380 656.5h9M384.5 652v9M381 656.5h9M385.5 652v9M382 656.5h9M386.5 652v9M383 656.5h9M387.5 652v9M384 656.5h9M388.5 652v9M385 656.5h9M389.5 652v9M386 656.5h9M390.5 652v9M387 656.5h9M391.5 652v9M388 656.5h9M392.5 652v9M389 656.5h9M393.5 652v9M390 656.5h9M394.5 652v9M391 656.5h9M395.5 652v9M392 656.5h9M396.5 652v9M393 656.5h9M397.5 652v9M394 656.5h9M398.5 652v9M395 656.5h9M399.5 652v9M396 656.5h9M400.5 652v9M397 656.5h9M401.5 652v9M398 656.5h9M402.5 652v9M399 656.5h9M403.5 652v9M400 656.5h9M404.5 652v9M401 656.5h9M405.5 652v9M402 656.5h9M406.5 652v9M403 656.5h9M407.5 652v9M404 656.5h9M408.5 652v9M405 656.5h9M409.5 652v9M406 656.5h9M410.5 652v9M407 656.5h9M411.5 652v9M408 656.5h9M412.5 652v9M409 656.5h9M413.5 652v9M410 656.5h9M414.5 652v9M411 656.5h9M415.5 652v9M412 656.5h9M416.5 652v9M413 656.5h9M417.5 652v9M414 656.5h9M418.5 652v9M415 656.5h9M419.5 652v9M416 656.5h9M420.5 652v9M417 656.5h9M421.5 652v9M418 656.5h9M422.5 652v9M419 656.5h9M423.5 652v9M420 656.5h9M424.5 652v9M421 656.5h9M425.5 652v9M422 656.5h9M426.5 652v9M423 656.5h9M427.5 652v9M424 656.5h9M428.5 652v9M425 656.5h9M429.5 652v9M426 656.5h9M430.5 652v9M427 656.5h9M431.5 652v9M428 656.5h9M432.5 652v9M429 656.5h9M433.5 652v9M430 656.5h9M434.5 652v9M431 656.5h9M435.5 652v9M440 656.5h9M444.5 652v9M441 656.5h9M445.5 652v9M442 656.5h9M446.5 652v9M443 656.5h9M447.5 652v9M444 656.5h9M448.5 652v9M445 656.5h9M449.5 652v9M446 656.5h9M450.5 652v9M447 656.5h9M451.5 652v9M448 656.5h9M452.5 652v9M449 656.5h9M453.5 652v9M450 656.5h9M454.5 652v9M451 656.5h9M455.5 652v9M452 656.5h9M456.5 652v9M453 656.5h9M457.5 652v9M454 656.5h9M458.5 652v9M455 656.5h9M459.5 652v9M456 656.5h9M460.5 652v9M457 656.5h9M461.5 652v9M458 656.5h9M462.5 652v9M459 656.5h9M463.5 652v9M460 656.5h9M464.5 652v9M461 656.5h9M465.5 652v9M462 656.5h9M466.5 652v9M463 656.5h9M467.5 652v9M464 656.5h9M468.5 652v9M465 656.5h9M469.5 652v9M466 656.5h9M470.5 652v9M467 656.5h9M471.5 652v9M468 656.5h9M472.5 652v9M469 656.5h9M473.5 652v9M470 656.5h9M474.5 652v9M471 656.5h9M475.5 652v9M472 656.5h9M476.5 652v9M473 656.5h9M477.5 652v9M474 656.5h9M478.5 652v9M475 656.5h9M479.5 652v9M476 656.5h9M480.5 652v9M477 656.5h9M481.5 652v9M478 656.5h9M482.5 652v9M479 656.5h9M483.5 652v9M480 656.5h9M484.5 652v9M481 656.5h9M485.5 652v9M482 656.5h9M486.5 652v9M483 656.5h9M487.5 652v9M484 656.5h9M488.5 652v9M485 656.5h9M489.5 652v9M486 656.5h9M490.5 652v9M487 656.5h9M491.5 652v9M488 656.5h9M492.5 652v9M489 656.5h9M493.5 652v9M490 656.5h9M494.5 652v9M491 656.5h9M495.5 652v9M492 656.5h9M496.5 652v9M493 656.5h9M497.5 652v9M494 656.5h9M498.5 652v9M495 656.5h9M499.5 652v9M496 656.5h9M500.5 652v9M497 656.5h9M501.5 652v9M498 656.5h9M502.5 652v9M499 656.5h9M503.5 652v9M500 656.5h9M504.5 652v9M501 656.5h9M505.5 652v9M502 656.5h9M506.5 652v9M503 656.5h9M507.5 652v9M504 656.5h9M508.5 652v9M505 656.5h9M509.5 652v9M506 656.5h9M510.5 652v9M507 656.5h9M511.5 652v9M508 656.5h9M512.5 652v9M509 656.5h9M513.5 652v9M510 656.5h9M514.5 652v9M511 656.5h9M515.5 652v9M512 656.5h9M516.5 652v9M513 656.5h9M517.5 652v9M514 656.5h9M518.5 652v9M515 656.5h9M519.5 652v9M516 656.5h9M520.5 652v9M517 656.5h9M521.5 652v9M518 656.5h9M522.5 652v9M519 656.5h9M523.5 652v9M520 656.5h9M524.5 652v9M521 656.5h9M525.5 652v9M522 656.5h9M526.5 652v9M523 656.5h9M527.5 652v9M524 656.5h9M528.5 652v9M525 656.5h9M529.5 652v9M526 656.5h9M530.5 652v9M527 656.5h9M531.5 652v9M528 656.5h9M532.5 652v9M529 656.5h9M533.5 652v9M530 656.5h9M534.5 652v9M531 656.5h9M535.5 652v9M532 656.5h9M536.5 652v9M533 656.5h9M537.5 652v9M534 656.5h9M538.5 652v9M535 656.5h9M539.5 652v9M536 656.5h9M540.5 652v9M537 656.5h9M541.5 652v9M538 656.5h9M542.5 652v9M539 656.5h9M543.5 652v9M540 656.5h9M544.5 652v9M541 656.5h9M545.5 652v9M542 656.5h9M546.5 652v9M543 656.5h9M547.5 652v9M544 656.5h9M548.5 652v9M545 656.5h9M549.5 652v9M546 656.5h9M550.5 652v9M547 656.5h9M551.5 652v9M548 656.5h9M552.5 652v9M549 656.5h9M553.5 652v9M550 656.5h9M554.5 652v9M551 656.5h9M555.5 652v9M552 656.5h9M556.5 652v9M553 656.5h9M557.5 652v9M554 656.5h9M558.5 652v9M555 656.5h9M559.5 652v9M556 656.5h9M560.5 652v9M557 656.5h9M561.5 652v9M558 656.5h9M562.5 652v9M559 656.5h9M563.5 652v9M97 658.5h9M101.5 654v9M98 657.5h9M102.5 653v9M103 658.5h9M107.5 654v9M300 550.5h9M304.5 546v9M305 550.5h9M309.5 546v9M354 550.5h9M358.5 546v9M367 550.5h9M371.5 546v9M368 550.5h9M372.5 546v9M383 550.5h9M387.5 546v9M396 550.5h9M400.5 546v9M397 550.5h9M401.5 546v9M398 550.5h9M402.5 546v9M456 550.5h9M460.5 546v9M461 550.5h9M465.5 546v9M472 550.5h9M476.5 546v9M487 550.5h9M491.5 546v9M494 550.5h9M498.5 546v9M517 550.5h9M521.5 546v9M543 550.5h9M547.5 546v9M548 550.5h9M552.5 546v9"/></g>
<path fill="none" stroke="#fff" stroke-width="1" stroke-linecap="square" d="M100.50 664.50 L99.50 664.50 L98.50 666.50 L98.50 667.50 L98.50 669.50 L98.50 670.50 L99.50 672.50 L100.50 672.50 L101.50 672.50 L102.50 672.50 L103.50 670.50 L103.50 669.50 L103.50 667.50 L103.50 666.50 L102.50 664.50 L101.50 664.50 L100.50 664.50 M157.50 664.50 L154.50 669.50 L159.50 669.50 M157.50 664.50 L157.50 672.50 M163.50 664.50 L162.50 664.50 L161.50 666.50 L161.50 667.50 L161.50 669.50 L161.50 670.50 L162.50 672.50 L163.50 672.50 L164.50 672.50 L165.50 672.50 L166.50 670.50 L166.50 669.50 L166.50 667.50 L166.50 666.50 L165.50 664.50 L164.50 664.50 L163.50 664.50 M171.50 664.50 L170.50 664.50 L169.50 666.50 L169.50 667.50 L169.50 669.50 L169.50 670.50 L170.50 672.50 L171.50 672.50 L172.50 672.50 L173.50 672.50 L174.50 670.50 L174.50 669.50 L174.50 667.50 L174.50 666.50 L173.50 664.50 L172.50 664.50 L171.50 664.50 M217.50 664.50 L216.50 664.50 L216.50 665.50 L216.50 666.50 L216.50 667.50 L217.50 667.50 L219.50 667.50 L220.50 668.50 L220.50 669.50 L221.50 669.50 L221.50 670.50 L220.50 671.50 L220.50 672.50 L219.50 672.50 L217.50 672.50 L216.50 672.50 L216.50 671.50 L216.50 670.50 L216.50 669.50 L216.50 669.50 L217.50 668.50 L218.50 667.50 L219.50 667.50 L220.50 667.50 L220.50 666.50 L220.50 665.50 L220.50 664.50 L219.50 664.50 L217.50 664.50 M225.50 664.50 L224.50 664.50 L223.50 666.50 L223.50 667.50 L223.50 669.50 L223.50 670.50 L224.50 672.50 L225.50 672.50 L226.50 672.50 L227.50 672.50 L228.50 670.50 L228.50 669.50 L228.50 667.50 L228.50 666.50 L227.50 664.50 L226.50 664.50 L225.50 664.50 M233.50 664.50 L232.50 664.50 L231.50 666.50 L231.50 667.50 L231.50 669.50 L231.50 670.50 L232.50 672.50 L233.50 672.50 L234.50 672.50 L235.50 672.50 L236.50 670.50 L236.50 669.50 L236.50 667.50 L236.50 666.50 L235.50 664.50 L234.50 664.50 L233.50 664.50 M275.50 666.50 L276.50 665.50 L277.50 664.50 L277.50 672.50 M282.50 666.50 L282.50 666.50 L282.50 665.50 L282.50 664.50 L283.50 664.50 L285.50 664.50 L285.50 664.50 L286.50 665.50 L286.50 666.50 L286.50 666.50 L286.50 667.50 L285.50 668.50 L281.50 672.50 L287.50 672.50 M291.50 664.50 L290.50 664.50 L289.50 666.50 L289.50 667.50 L289.50 669.50 L289.50 670.50 L290.50 672.50 L291.50 672.50 L292.50 672.50 L293.50 672.50 L294.50 670.50 L294.50 669.50 L294.50 667.50 L294.50 666.50 L293.50 664.50 L292.50 664.50 L291.50 664.50 M299.50 664.50 L298.50 664.50 L297.50 666.50 L296.50 667.50 L296.50 669.50 L297.50 670.50 L298.50 672.50 L299.50 672.50 L299.50 672.50 L301.50 672.50 L301.50 670.50 L302.50 669.50 L302.50 667.50 L301.50 666.50 L301.50 664.50 L299.50 664.50 L299.50 664.50 M337.50 666.50 L338.50 665.50 L339.50 664.50 L339.50 672.50 M348.50 665.50 L348.50 664.50 L347.50 664.50 L346.50 664.50 L345.50 664.50 L344.50 666.50 L344.50 667.50 L344.50 669.50 L344.50 671.50 L345.50 672.50 L346.50 672.50 L346.50 672.50 L347.50 672.50 L348.50 671.50 L349.50 670.50 L349.50 669.50 L348.50 668.50 L347.50 667.50 L346.50 667.50 L346.50 667.50 L345.50 667.50 L344.50 668.50 L344.50 669.50 M353.50 664.50 L352.50 664.50 L351.50 666.50 L351.50 667.50 L351.50 669.50 L351.50 670.50 L352.50 672.50 L353.50 672.50 L354.50 672.50 L355.50 672.50 L356.50 670.50 L356.50 669.50 L356.50 667.50 L356.50 666.50 L355.50 664.50 L354.50 664.50 L353.50 664.50 M361.50 664.50 L360.50 664.50 L359.50 666.50 L358.50 667.50 L358.50 669.50 L359.50 670.50 L360.50 672.50 L361.50 672.50 L361.50 672.50 L363.50 672.50 L363.50 670.50 L364.50 669.50 L364.50 667.50 L363.50 666.50 L363.50 664.50 L361.50 664.50 L361.50 664.50 M399.50 666.50 L399.50 666.50 L400.50 665.50 L400.50 664.50 L401.50 664.50 L402.50 664.50 L403.50 664.50 L403.50 665.50 L404.50 666.50 L404.50 666.50 L403.50 667.50 L403.50 668.50 L399.50 672.50 L404.50 672.50 M409.50 664.50 L407.50 664.50 L407.50 666.50 L406.50 667.50 L406.50 669.50 L407.50 670.50 L407.50 672.50 L409.50 672.50 L409.50 672.50 L410.50 672.50 L411.50 670.50 L412.50 669.50 L412.50 667.50 L411.50 666.50 L410.50 664.50 L409.50 664.50 L409.50 664.50 M416.50 664.50 L415.50 664.50 L414.50 666.50 L414.50 667.50 L414.50 669.50 L414.50 670.50 L415.50 672.50 L416.50 672.50 L417.50 672.50 L418.50 672.50 L419.50 670.50 L419.50 669.50 L419.50 667.50 L419.50 666.50 L418.50 664.50 L417.50 664.50 L416.50 664.50 M424.50 664.50 L423.50 664.50 L422.50 666.50 L421.50 667.50 L421.50 669.50 L422.50 670.50 L423.50 672.50 L424.50 672.50 L424.50 672.50 L426.50 672.50 L426.50 670.50 L427.50 669.50 L427.50 667.50 L426.50 666.50 L426.50 664.50 L424.50 664.50 L424.50 664.50 M461.50 666.50 L461.50 666.50 L462.50 665.50 L462.50 664.50 L463.50 664.50 L464.50 664.50 L465.50 664.50 L465.50 665.50 L466.50 666.50 L466.50 666.50 L465.50 667.50 L465.50 668.50 L461.50 672.50 L466.50 672.50 M472.50 664.50 L468.50 669.50 L474.50 669.50 M472.50 664.50 L472.50 672.50 M478.50 664.50 L477.50 664.50 L476.50 666.50 L476.50 667.50 L476.50 669.50 L476.50 670.50 L477.50 672.50 L478.50 672.50 L479.50 672.50 L480.50 672.50 L481.50 670.50 L481.50 669.50 L481.50 667.50 L481.50 666.50 L480.50 664.50 L479.50 664.50 L478.50 664.50 M486.50 664.50 L485.50 664.50 L484.50 666.50 L483.50 667.50 L483.50 669.50 L484.50 670.50 L485.50 672.50 L486.50 672.50 L486.50 672.50 L488.50 672.50 L488.50 670.50 L489.50 669.50 L489.50 667.50 L488.50 666.50 L488.50 664.50 L486.50 664.50 L486.50 664.50 M523.50 666.50 L523.50 666.50 L524.50 665.50 L524.50 664.50 L525.50 664.50 L526.50 664.50 L527.50 664.50 L527.50 665.50 L528.50 666.50 L528.50 666.50 L527.50 667.50 L527.50 668.50 L523.50 672.50 L528.50 672.50 M532.50 664.50 L531.50 664.50 L531.50 665.50 L531.50 666.50 L531.50 667.50 L532.50 667.50 L533.50 667.50 L534.50 668.50 L535.50 669.50 L536.50 669.50 L536.50 670.50 L535.50 671.50 L535.50 672.50 L534.50 672.50 L532.50 672.50 L531.50 672.50 L531.50 671.50 L530.50 670.50 L530.50 669.50 L531.50 669.50 L531.50 668.50 L533.50 667.50 L534.50 667.50 L535.50 667.50 L535.50 666.50 L535.50 665.50 L535.50 664.50 L534.50 664.50 L532.50 664.50 M540.50 664.50 L539.50 664.50 L538.50 666.50 L538.50 667.50 L538.50 669.50 L538.50 670.50 L539.50 672.50 L540.50 672.50 L541.50 672.50 L542.50 672.50 L543.50 670.50 L543.50 669.50 L543.50 667.50 L543.50 666.50 L542.50 664.50 L541.50 664.50 L540.50 664.50 M548.50 664.50 L547.50 664.50 L546.50 666.50 L545.50 667.50 L545.50 669.50 L546.50 670.50 L547.50 672.50 L548.50 672.50 L548.50 672.50 L550.50 672.50 L550.50 670.50 L551.50 669.50 L551.50 667.50 L550.50 666.50 L550.50 664.50 L548.50 664.50 L548.50 664.50 M586.50 664.50 L590.50 664.50 L587.50 667.50 L589.50 667.50 L589.50 667.50 L590.50 668.50 L590.50 669.50 L590.50 670.50 L590.50 671.50 L589.50 672.50 L588.50 672.50 L587.50 672.50 L586.50 672.50 L585.50 671.50 L585.50 670.50 M593.50 666.50 L593.50 666.50 L593.50 665.50 L593.50 664.50 L594.50 664.50 L596.50 664.50 L596.50 664.50 L597.50 665.50 L597.50 666.50 L597.50 666.50 L597.50 667.50 L596.50 668.50 L592.50 672.50 L598.50 672.50 M602.50 664.50 L601.50 664.50 L600.50 666.50 L600.50 667.50 L600.50 669.50 L600.50 670.50 L601.50 672.50 L602.50 672.50 L603.50 672.50 L604.50 672.50 L605.50 670.50 L605.50 669.50 L605.50 667.50 L605.50 666.50 L604.50 664.50 L603.50 664.50 L602.50 664.50 M610.50 664.50 L609.50 664.50 L608.50 666.50 L607.50 667.50 L607.50 669.50 L608.50 670.50 L609.50 672.50 L610.50 672.50 L610.50 672.50 L612.50 672.50 L612.50 670.50 L613.50 669.50 L613.50 667.50 L612.50 666.50 L612.50 664.50 L610.50 664.50 L610.50 664.50 M308.50 678.50 L308.50 684.50 L309.50 686.50 L310.50 686.50 L310.50 686.50 M307.50 681.50 L310.50 681.50 M312.50 678.50 L313.50 678.50 L313.50 678.50 L313.50 677.50 L312.50 678.50 M313.50 681.50 L313.50 686.50 M316.50 681.50 L316.50 686.50 M316.50 682.50 L317.50 681.50 L317.50 681.50 L319.50 681.50 L319.50 681.50 L320.50 682.50 L320.50 686.50 M320.50 682.50 L321.50 681.50 L322.50 681.50 L323.50 681.50 L324.50 681.50 L324.50 682.50 L324.50 686.50 M327.50 683.50 L331.50 683.50 L331.50 682.50 L331.50 681.50 L330.50 681.50 L330.50 681.50 L328.50 681.50 L328.50 681.50 L327.50 682.50 L327.50 683.50 L327.50 684.50 L327.50 685.50 L328.50 686.50 L328.50 686.50 L330.50 686.50 L330.50 686.50 L331.50 685.50 M342.50 677.50 L342.50 677.50 L341.50 678.50 L340.50 680.50 L340.50 682.50 L340.50 683.50 L340.50 685.50 L341.50 687.50 L342.50 688.50 L342.50 689.50 M345.50 678.50 L345.50 686.50 M345.50 678.50 L348.50 686.50 M351.50 678.50 L348.50 686.50 M351.50 678.50 L351.50 686.50 M354.50 678.50 L354.50 686.50 M354.50 678.50 L359.50 678.50 M354.50 682.50 L357.50 682.50 M354.50 686.50 L359.50 686.50 M363.50 678.50 L363.50 686.50 M360.50 678.50 L365.50 678.50 M367.50 677.50 L368.50 677.50 L368.50 678.50 L369.50 680.50 L370.50 682.50 L370.50 683.50 L369.50 685.50 L368.50 687.50 L368.50 688.50 L367.50 689.50 M55.50 39.50 L59.50 39.50 L57.50 42.50 L58.50 42.50 L59.50 42.50 L59.50 43.50 L59.50 44.50 L59.50 45.50 L59.50 46.50 L58.50 47.50 L57.50 47.50 L56.50 47.50 L55.50 47.50 L54.50 46.50 L54.50 45.50 M64.50 39.50 L63.50 39.50 L62.50 41.50 L62.50 42.50 L62.50 44.50 L62.50 45.50 L63.50 47.50 L64.50 47.50 L65.50 47.50 L66.50 47.50 L67.50 45.50 L67.50 44.50 L67.50 42.50 L67.50 41.50 L66.50 39.50 L65.50 39.50 L64.50 39.50 M71.50 39.50 L70.50 39.50 L70.50 41.50 L69.50 42.50 L69.50 44.50 L70.50 45.50 L70.50 47.50 L71.50 47.50 L72.50 47.50 L73.50 47.50 L74.50 45.50 L74.50 44.50 L74.50 42.50 L74.50 41.50 L73.50 39.50 L72.50 39.50 L71.50 39.50 M54.50 69.50 L54.50 69.50 L55.50 68.50 L55.50 67.50 L56.50 67.50 L58.50 67.50 L58.50 67.50 L59.50 68.50 L59.50 69.50 L59.50 69.50 L59.50 70.50 L58.50 71.50 L54.50 75.50 L59.50 75.50 M64.50 67.50 L63.50 67.50 L62.50 69.50 L62.50 70.50 L62.50 72.50 L62.50 73.50 L63.50 75.50 L64.50 75.50 L65.50 75.50 L66.50 75.50 L67.50 73.50 L67.50 72.50 L67.50 70.50 L67.50 69.50 L66.50 67.50 L65.50 67.50 L64.50 67.50 M71.50 67.50 L70.50 67.50 L70.50 69.50 L69.50 70.50 L69.50 72.50 L70.50 73.50 L70.50 75.50 L71.50 75.50 L72.50 75.50 L73.50 75.50 L74.50 73.50 L74.50 72.50 L74.50 70.50 L74.50 69.50 L73.50 67.50 L72.50 67.50 L71.50 67.50 M55.50 97.50 L56.50 96.50 L57.50 95.50 L57.50 103.50 M64.50 95.50 L63.50 95.50 L62.50 97.50 L62.50 98.50 L62.50 100.50 L62.50 101.50 L63.50 103.50 L64.50 103.50 L65.50 103.50 L66.50 103.50 L67.50 101.50 L67.50 100.50 L67.50 98.50 L67.50 97.50 L66.50 95.50 L65.50 95.50 L64.50 95.50 M71.50 95.50 L70.50 95.50 L70.50 97.50 L69.50 98.50 L69.50 100.50 L70.50 101.50 L70.50 103.50 L71.50 103.50 L72.50 103.50 L73.50 103.50 L74.50 101.50 L74.50 100.50 L74.50 98.50 L74.50 97.50 L73.50 95.50 L72.50 95.50 L71.50 95.50 M71.50 119.50 L70.50 119.50 L70.50 121.50 L69.50 122.50 L69.50 124.50 L70.50 125.50 L70.50 127.50 L71.50 127.50 L72.50 127.50 L73.50 127.50 L74.50 125.50 L74.50 124.50 L74.50 122.50 L74.50 121.50 L73.50 119.50 L72.50 119.50 L71.50 119.50 M55.50 148.50 L56.50 147.50 L57.50 146.50 L57.50 154.50 M66.50 146.50 L62.50 146.50 L62.50 149.50 L62.50 149.50 L64.50 149.50 L65.50 149.50 L66.50 149.50 L67.50 150.50 L67.50 151.50 L67.50 152.50 L67.50 153.50 L66.50 154.50 L65.50 154.50 L64.50 154.50 L62.50 154.50 L62.50 153.50 L62.50 152.50 M71.50 146.50 L70.50 146.50 L70.50 148.50 L69.50 149.50 L69.50 151.50 L70.50 152.50 L70.50 154.50 L71.50 154.50 L72.50 154.50 L73.50 154.50 L74.50 152.50 L74.50 151.50 L74.50 149.50 L74.50 148.50 L73.50 146.50 L72.50 146.50 L71.50 146.50 M55.50 175.50 L56.50 174.50 L57.50 173.50 L57.50 181.50 M64.50 173.50 L63.50 173.50 L62.50 175.50 L62.50 176.50 L62.50 178.50 L62.50 179.50 L63.50 181.50 L64.50 181.50 L65.50 181.50 L66.50 181.50 L67.50 179.50 L67.50 178.50 L67.50 176.50 L67.50 175.50 L66.50 173.50 L65.50 173.50 L64.50 173.50 M71.50 173.50 L70.50 173.50 L70.50 175.50 L69.50 176.50 L69.50 178.50 L70.50 179.50 L70.50 181.50 L71.50 181.50 L72.50 181.50 L73.50 181.50 L74.50 179.50 L74.50 178.50 L74.50 176.50 L74.50 175.50 L73.50 173.50 L72.50 173.50 L71.50 173.50 M66.50 201.50 L62.50 201.50 L62.50 204.50 L62.50 204.50 L64.50 204.50 L65.50 204.50 L66.50 204.50 L67.50 205.50 L67.50 206.50 L67.50 207.50 L67.50 208.50 L66.50 209.50 L65.50 209.50 L64.50 209.50 L62.50 209.50 L62.50 208.50 L62.50 207.50 M71.50 201.50 L70.50 201.50 L70.50 203.50 L69.50 204.50 L69.50 206.50 L70.50 207.50 L70.50 209.50 L71.50 209.50 L72.50 209.50 L73.50 209.50 L74.50 207.50 L74.50 206.50 L74.50 204.50 L74.50 203.50 L73.50 201.50 L72.50 201.50 L71.50 201.50 M71.50 224.50 L70.50 224.50 L70.50 226.50 L69.50 227.50 L69.50 229.50 L70.50 230.50 L70.50 232.50 L71.50 232.50 L72.50 232.50 L73.50 232.50 L74.50 230.50 L74.50 229.50 L74.50 227.50 L74.50 226.50 L73.50 224.50 L72.50 224.50 L71.50 224.50 M59.50 234.50 L60.50 233.50 L61.50 232.50 L61.50 240.50 M66.50 239.50 L66.50 240.50 L66.50 240.50 L67.50 240.50 L66.50 239.50 M71.50 232.50 L70.50 232.50 L70.50 234.50 L69.50 235.50 L69.50 237.50 L70.50 238.50 L70.50 240.50 L71.50 240.50 L72.50 240.50 L73.50 240.50 L74.50 238.50 L74.50 237.50 L74.50 235.50 L74.50 234.50 L73.50 232.50 L72.50 232.50 L71.50 232.50 M60.50 250.50 L59.50 250.50 L58.50 252.50 L58.50 253.50 L58.50 255.50 L58.50 256.50 L59.50 258.50 L60.50 258.50 L61.50 258.50 L62.50 258.50 L63.50 256.50 L63.50 255.50 L63.50 253.50 L63.50 252.50 L62.50 250.50 L61.50 250.50 L60.50 250.50 M66.50 257.50 L66.50 258.50 L66.50 258.50 L67.50 258.50 L66.50 257.50 M71.50 250.50 L70.50 250.50 L70.50 251.50 L70.50 252.50 L70.50 253.50 L71.50 253.50 L72.50 253.50 L73.50 254.50 L74.50 255.50 L74.50 255.50 L74.50 256.50 L74.50 257.50 L74.50 258.50 L73.50 258.50 L71.50 258.50 L70.50 258.50 L70.50 257.50 L69.50 256.50 L69.50 255.50 L70.50 255.50 L70.50 254.50 L71.50 253.50 L73.50 253.50 L74.50 253.50 L74.50 252.50 L74.50 251.50 L74.50 250.50 L73.50 250.50 L71.50 250.50 M60.50 271.50 L59.50 271.50 L58.50 273.50 L58.50 274.50 L58.50 276.50 L58.50 277.50 L59.50 279.50 L60.50 279.50 L61.50 279.50 L62.50 279.50 L63.50 277.50 L63.50 276.50 L63.50 274.50 L63.50 273.50 L62.50 271.50 L61.50 271.50 L60.50 271.50 M66.50 278.50 L66.50 279.50 L66.50 279.50 L67.50 279.50 L66.50 278.50 M74.50 272.50 L74.50 271.50 L73.50 271.50 L72.50 271.50 L71.50 271.50 L70.50 273.50 L70.50 274.50 L70.50 276.50 L70.50 278.50 L71.50 279.50 L72.50 279.50 L72.50 279.50 L73.50 279.50 L74.50 278.50 L74.50 277.50 L74.50 276.50 L74.50 275.50 L73.50 274.50 L72.50 274.50 L72.50 274.50 L71.50 274.50 L70.50 275.50 L70.50 276.50 M60.50 292.50 L59.50 292.50 L58.50 294.50 L58.50 295.50 L58.50 297.50 L58.50 298.50 L59.50 300.50 L60.50 300.50 L61.50 300.50 L62.50 300.50 L63.50 298.50 L63.50 297.50 L63.50 295.50 L63.50 294.50 L62.50 292.50 L61.50 292.50 L60.50 292.50 M66.50 299.50 L66.50 300.50 L66.50 300.50 L67.50 300.50 L66.50 299.50 M73.50 292.50 L69.50 297.50 L75.50 297.50 M73.50 292.50 L73.50 300.50 M60.50 313.50 L59.50 313.50 L58.50 315.50 L58.50 316.50 L58.50 318.50 L58.50 319.50 L59.50 321.50 L60.50 321.50 L61.50 321.50 L62.50 321.50 L63.50 319.50 L63.50 318.50 L63.50 316.50 L63.50 315.50 L62.50 313.50 L61.50 313.50 L60.50 313.50 M66.50 320.50 L66.50 321.50 L66.50 321.50 L67.50 321.50 L66.50 320.50 M70.50 315.50 L70.50 315.50 L70.50 314.50 L70.50 313.50 L71.50 313.50 L73.50 313.50 L73.50 313.50 L74.50 314.50 L74.50 315.50 L74.50 315.50 L74.50 316.50 L73.50 317.50 L69.50 321.50 L74.50 321.50 M60.50 330.50 L59.50 330.50 L58.50 332.50 L58.50 333.50 L58.50 335.50 L58.50 336.50 L59.50 338.50 L60.50 338.50 L61.50 338.50 L62.50 338.50 L63.50 336.50 L63.50 335.50 L63.50 333.50 L63.50 332.50 L62.50 330.50 L61.50 330.50 L60.50 330.50 M66.50 337.50 L66.50 338.50 L66.50 338.50 L67.50 338.50 L66.50 337.50 M71.50 330.50 L70.50 330.50 L70.50 332.50 L69.50 333.50 L69.50 335.50 L70.50 336.50 L70.50 338.50 L71.50 338.50 L72.50 338.50 L73.50 338.50 L74.50 336.50 L74.50 335.50 L74.50 333.50 L74.50 332.50 L73.50 330.50 L72.50 330.50 L71.50 330.50 M66.50 347.50 L62.50 347.50 L62.50 350.50 L62.50 350.50 L64.50 350.50 L65.50 350.50 L66.50 350.50 L67.50 351.50 L67.50 352.50 L67.50 353.50 L67.50 354.50 L66.50 355.50 L65.50 355.50 L64.50 355.50 L62.50 355.50 L62.50 354.50 L62.50 353.50 M71.50 347.50 L70.50 347.50 L70.50 349.50 L69.50 350.50 L69.50 352.50 L70.50 353.50 L70.50 355.50 L71.50 355.50 L72.50 355.50 L73.50 355.50 L74.50 353.50 L74.50 352.50 L74.50 350.50 L74.50 349.50 L73.50 347.50 L72.50 347.50 L71.50 347.50 M65.50 366.50 L62.50 371.50 L67.50 371.50 M65.50 366.50 L65.50 374.50 M71.50 366.50 L70.50 366.50 L70.50 368.50 L69.50 369.50 L69.50 371.50 L70.50 372.50 L70.50 374.50 L71.50 374.50 L72.50 374.50 L73.50 374.50 L74.50 372.50 L74.50 371.50 L74.50 369.50 L74.50 368.50 L73.50 366.50 L72.50 366.50 L71.50 366.50 M62.50 384.50 L67.50 384.50 L64.50 387.50 L65.50 387.50 L66.50 387.50 L67.50 388.50 L67.50 389.50 L67.50 390.50 L67.50 391.50 L66.50 392.50 L65.50 392.50 L64.50 392.50 L62.50 392.50 L62.50 391.50 L62.50 390.50 M71.50 384.50 L70.50 384.50 L70.50 386.50 L69.50 387.50 L69.50 389.50 L70.50 390.50 L70.50 392.50 L71.50 392.50 L72.50 392.50 L73.50 392.50 L74.50 390.50 L74.50 389.50 L74.50 387.50 L74.50 386.50 L73.50 384.50 L72.50 384.50 L71.50 384.50 M62.50 405.50 L62.50 405.50 L62.50 404.50 L63.50 403.50 L64.50 403.50 L65.50 403.50 L66.50 403.50 L66.50 404.50 L67.50 405.50 L67.50 405.50 L66.50 406.50 L65.50 407.50 L62.50 411.50 L67.50 411.50 M71.50 403.50 L70.50 403.50 L70.50 405.50 L69.50 406.50 L69.50 408.50 L70.50 409.50 L70.50 411.50 L71.50 411.50 L72.50 411.50 L73.50 411.50 L74.50 409.50 L74.50 408.50 L74.50 406.50 L74.50 405.50 L73.50 403.50 L72.50 403.50 L71.50 403.50 M63.50 424.50 L64.50 423.50 L65.50 422.50 L65.50 430.50 M71.50 422.50 L70.50 422.50 L70.50 424.50 L69.50 425.50 L69.50 427.50 L70.50 428.50 L70.50 430.50 L71.50 430.50 L72.50 430.50 L73.50 430.50 L74.50 428.50 L74.50 427.50 L74.50 425.50 L74.50 424.50 L73.50 422.50 L72.50 422.50 L71.50 422.50 M71.50 436.50 L70.50 436.50 L70.50 438.50 L69.50 439.50 L69.50 441.50 L70.50 442.50 L70.50 444.50 L71.50 444.50 L72.50 444.50 L73.50 444.50 L74.50 442.50 L74.50 441.50 L74.50 439.50 L74.50 438.50 L73.50 436.50 L72.50 436.50 L71.50 436.50 M48.50 448.50 L48.50 447.50 L50.50 446.50 L50.50 454.50 M58.50 446.50 L54.50 451.50 L60.50 451.50 M58.50 446.50 L58.50 454.50 M64.50 446.50 L63.50 446.50 L62.50 448.50 L62.50 449.50 L62.50 451.50 L62.50 452.50 L63.50 454.50 L64.50 454.50 L65.50 454.50 L66.50 454.50 L67.50 452.50 L67.50 451.50 L67.50 449.50 L67.50 448.50 L66.50 446.50 L65.50 446.50 L64.50 446.50 M71.50 446.50 L70.50 446.50 L70.50 448.50 L69.50 449.50 L69.50 451.50 L70.50 452.50 L70.50 454.50 L71.50 454.50 L72.50 454.50 L73.50 454.50 L74.50 452.50 L74.50 451.50 L74.50 449.50 L74.50 448.50 L73.50 446.50 L72.50 446.50 L71.50 446.50 M48.50 462.50 L48.50 461.50 L50.50 460.50 L50.50 468.50 M54.50 462.50 L54.50 462.50 L55.50 461.50 L55.50 460.50 L56.50 460.50 L58.50 460.50 L58.50 460.50 L59.50 461.50 L59.50 462.50 L59.50 462.50 L59.50 463.50 L58.50 464.50 L54.50 468.50 L59.50 468.50 M64.50 460.50 L63.50 460.50 L62.50 462.50 L62.50 463.50 L62.50 465.50 L62.50 466.50 L63.50 468.50 L64.50 468.50 L65.50 468.50 L66.50 468.50 L67.50 466.50 L67.50 465.50 L67.50 463.50 L67.50 462.50 L66.50 460.50 L65.50 460.50 L64.50 460.50 M71.50 460.50 L70.50 460.50 L70.50 462.50 L69.50 463.50 L69.50 465.50 L70.50 466.50 L70.50 468.50 L71.50 468.50 L72.50 468.50 L73.50 468.50 L74.50 466.50 L74.50 465.50 L74.50 463.50 L74.50 462.50 L73.50 460.50 L72.50 460.50 L71.50 460.50 M48.50 477.50 L48.50 476.50 L50.50 475.50 L50.50 483.50 M56.50 475.50 L55.50 475.50 L54.50 477.50 L54.50 478.50 L54.50 480.50 L54.50 481.50 L55.50 483.50 L56.50 483.50 L57.50 483.50 L58.50 483.50 L59.50 481.50 L59.50 480.50 L59.50 478.50 L59.50 477.50 L58.50 475.50 L57.50 475.50 L56.50 475.50 M64.50 475.50 L63.50 475.50 L62.50 477.50 L62.50 478.50 L62.50 480.50 L62.50 481.50 L63.50 483.50 L64.50 483.50 L65.50 483.50 L66.50 483.50 L67.50 481.50 L67.50 480.50 L67.50 478.50 L67.50 477.50 L66.50 475.50 L65.50 475.50 L64.50 475.50 M71.50 475.50 L70.50 475.50 L70.50 477.50 L69.50 478.50 L69.50 480.50 L70.50 481.50 L70.50 483.50 L71.50 483.50 L72.50 483.50 L73.50 483.50 L74.50 481.50 L74.50 480.50 L74.50 478.50 L74.50 477.50 L73.50 475.50 L72.50 475.50 L71.50 475.50 M56.50 489.50 L55.50 489.50 L54.50 490.50 L54.50 491.50 L55.50 492.50 L56.50 492.50 L57.50 492.50 L58.50 493.50 L59.50 494.50 L59.50 494.50 L59.50 495.50 L59.50 496.50 L59.50 497.50 L58.50 497.50 L56.50 497.50 L55.50 497.50 L54.50 496.50 L54.50 495.50 L54.50 494.50 L54.50 494.50 L55.50 493.50 L56.50 492.50 L58.50 492.50 L59.50 492.50 L59.50 491.50 L59.50 490.50 L59.50 489.50 L58.50 489.50 L56.50 489.50 M64.50 489.50 L63.50 489.50 L62.50 491.50 L62.50 492.50 L62.50 494.50 L62.50 495.50 L63.50 497.50 L64.50 497.50 L65.50 497.50 L66.50 497.50 L67.50 495.50 L67.50 494.50 L67.50 492.50 L67.50 491.50 L66.50 489.50 L65.50 489.50 L64.50 489.50 M71.50 489.50 L70.50 489.50 L70.50 491.50 L69.50 492.50 L69.50 494.50 L70.50 495.50 L70.50 497.50 L71.50 497.50 L72.50 497.50 L73.50 497.50 L74.50 495.50 L74.50 494.50 L74.50 492.50 L74.50 491.50 L73.50 489.50 L72.50 489.50 L71.50 489.50 M59.50 504.50 L59.50 503.50 L58.50 503.50 L57.50 503.50 L56.50 503.50 L55.50 505.50 L54.50 506.50 L54.50 508.50 L55.50 510.50 L56.50 511.50 L57.50 511.50 L57.50 511.50 L58.50 511.50 L59.50 510.50 L59.50 509.50 L59.50 508.50 L59.50 507.50 L58.50 506.50 L57.50 506.50 L57.50 506.50 L56.50 506.50 L55.50 507.50 L54.50 508.50 M64.50 503.50 L63.50 503.50 L62.50 505.50 L62.50 506.50 L62.50 508.50 L62.50 509.50 L63.50 511.50 L64.50 511.50 L65.50 511.50 L66.50 511.50 L67.50 509.50 L67.50 508.50 L67.50 506.50 L67.50 505.50 L66.50 503.50 L65.50 503.50 L64.50 503.50 M71.50 503.50 L70.50 503.50 L70.50 505.50 L69.50 506.50 L69.50 508.50 L70.50 509.50 L70.50 511.50 L71.50 511.50 L72.50 511.50 L73.50 511.50 L74.50 509.50 L74.50 508.50 L74.50 506.50 L74.50 505.50 L73.50 503.50 L72.50 503.50 L71.50 503.50 M58.50 517.50 L54.50 522.50 L60.50 522.50 M58.50 517.50 L58.50 525.50 M64.50 517.50 L63.50 517.50 L62.50 519.50 L62.50 520.50 L62.50 522.50 L62.50 523.50 L63.50 525.50 L64.50 525.50 L65.50 525.50 L66.50 525.50 L67.50 523.50 L67.50 522.50 L67.50 520.50 L67.50 519.50 L66.50 517.50 L65.50 517.50 L64.50 517.50 M71.50 517.50 L70.50 517.50 L70.50 519.50 L69.50 520.50 L69.50 522.50 L70.50 523.50 L70.50 525.50 L71.50 525.50 L72.50 525.50 L73.50 525.50 L74.50 523.50 L74.50 522.50 L74.50 520.50 L74.50 519.50 L73.50 517.50 L72.50 517.50 L71.50 517.50 M54.50 534.50 L54.50 534.50 L55.50 533.50 L55.50 532.50 L56.50 532.50 L58.50 532.50 L58.50 532.50 L59.50 533.50 L59.50 534.50 L59.50 534.50 L59.50 535.50 L58.50 536.50 L54.50 540.50 L59.50 540.50 M64.50 532.50 L63.50 532.50 L62.50 534.50 L62.50 535.50 L62.50 537.50 L62.50 538.50 L63.50 540.50 L64.50 540.50 L65.50 540.50 L66.50 540.50 L67.50 538.50 L67.50 537.50 L67.50 535.50 L67.50 534.50 L66.50 532.50 L65.50 532.50 L64.50 532.50 M71.50 532.50 L70.50 532.50 L70.50 534.50 L69.50 535.50 L69.50 537.50 L70.50 538.50 L70.50 540.50 L71.50 540.50 L72.50 540.50 L73.50 540.50 L74.50 538.50 L74.50 537.50 L74.50 535.50 L74.50 534.50 L73.50 532.50 L72.50 532.50 L71.50 532.50 M71.50 542.50 L70.50 542.50 L70.50 544.50 L69.50 545.50 L69.50 547.50 L70.50 548.50 L70.50 550.50 L71.50 550.50 L72.50 550.50 L73.50 550.50 L74.50 548.50 L74.50 547.50 L74.50 545.50 L74.50 544.50 L73.50 542.50 L72.50 542.50 L71.50 542.50 M59.50 552.50 L60.50 551.50 L61.50 550.50 L61.50 558.50 M66.50 557.50 L66.50 558.50 L66.50 558.50 L67.50 558.50 L66.50 557.50 M71.50 550.50 L70.50 550.50 L70.50 552.50 L69.50 553.50 L69.50 555.50 L70.50 556.50 L70.50 558.50 L71.50 558.50 L72.50 558.50 L73.50 558.50 L74.50 556.50 L74.50 555.50 L74.50 553.50 L74.50 552.50 L73.50 550.50 L72.50 550.50 L71.50 550.50 M60.50 567.50 L59.50 567.50 L58.50 569.50 L58.50 570.50 L58.50 572.50 L58.50 573.50 L59.50 575.50 L60.50 575.50 L61.50 575.50 L62.50 575.50 L63.50 573.50 L63.50 572.50 L63.50 570.50 L63.50 569.50 L62.50 567.50 L61.50 567.50 L60.50 567.50 M66.50 574.50 L66.50 575.50 L66.50 575.50 L67.50 575.50 L66.50 574.50 M71.50 567.50 L70.50 567.50 L70.50 568.50 L70.50 569.50 L70.50 570.50 L71.50 570.50 L72.50 570.50 L73.50 571.50 L74.50 572.50 L74.50 572.50 L74.50 573.50 L74.50 574.50 L74.50 575.50 L73.50 575.50 L71.50 575.50 L70.50 575.50 L70.50 574.50 L69.50 573.50 L69.50 572.50 L70.50 572.50 L70.50 571.50 L71.50 570.50 L73.50 570.50 L74.50 570.50 L74.50 569.50 L74.50 568.50 L74.50 567.50 L73.50 567.50 L71.50 567.50 M60.50 588.50 L59.50 588.50 L58.50 590.50 L58.50 591.50 L58.50 593.50 L58.50 594.50 L59.50 596.50 L60.50 596.50 L61.50 596.50 L62.50 596.50 L63.50 594.50 L63.50 593.50 L63.50 591.50 L63.50 590.50 L62.50 588.50 L61.50 588.50 L60.50 588.50 M66.50 595.50 L66.50 596.50 L66.50 596.50 L67.50 596.50 L66.50 595.50 M74.50 589.50 L74.50 588.50 L73.50 588.50 L72.50 588.50 L71.50 588.50 L70.50 590.50 L70.50 591.50 L70.50 593.50 L70.50 595.50 L71.50 596.50 L72.50 596.50 L72.50 596.50 L73.50 596.50 L74.50 595.50 L74.50 594.50 L74.50 593.50 L74.50 592.50 L73.50 591.50 L72.50 591.50 L72.50 591.50 L71.50 591.50 L70.50 592.50 L70.50 593.50 M60.50 609.50 L59.50 609.50 L58.50 611.50 L58.50 612.50 L58.50 614.50 L58.50 615.50 L59.50 617.50 L60.50 617.50 L61.50 617.50 L62.50 617.50 L63.50 615.50 L63.50 614.50 L63.50 612.50 L63.50 611.50 L62.50 609.50 L61.50 609.50 L60.50 609.50 M66.50 616.50 L66.50 617.50 L66.50 617.50 L67.50 617.50 L66.50 616.50 M73.50 609.50 L69.50 614.50 L75.50 614.50 M73.50 609.50 L73.50 617.50 M60.50 631.50 L59.50 631.50 L58.50 633.50 L58.50 634.50 L58.50 636.50 L58.50 637.50 L59.50 639.50 L60.50 639.50 L61.50 639.50 L62.50 639.50 L63.50 637.50 L63.50 636.50 L63.50 634.50 L63.50 633.50 L62.50 631.50 L61.50 631.50 L60.50 631.50 M66.50 638.50 L66.50 639.50 L66.50 639.50 L67.50 639.50 L66.50 638.50 M70.50 633.50 L70.50 633.50 L70.50 632.50 L70.50 631.50 L71.50 631.50 L73.50 631.50 L73.50 631.50 L74.50 632.50 L74.50 633.50 L74.50 633.50 L74.50 634.50 L73.50 635.50 L69.50 639.50 L74.50 639.50 M60.50 648.50 L59.50 648.50 L58.50 650.50 L58.50 651.50 L58.50 653.50 L58.50 654.50 L59.50 656.50 L60.50 656.50 L61.50 656.50 L62.50 656.50 L63.50 654.50 L63.50 653.50 L63.50 651.50 L63.50 650.50 L62.50 648.50 L61.50 648.50 L60.50 648.50 M66.50 655.50 L66.50 656.50 L66.50 656.50 L67.50 656.50 L66.50 655.50 M71.50 648.50 L70.50 648.50 L70.50 650.50 L69.50 651.50 L69.50 653.50 L70.50 654.50 L70.50 656.50 L71.50 656.50 L72.50 656.50 L73.50 656.50 L74.50 654.50 L74.50 653.50 L74.50 651.50 L74.50 650.50 L73.50 648.50 L72.50 648.50 L71.50 648.50 M34.50 96.50 L42.50 96.50 M34.50 96.50 L34.50 91.50 M38.50 96.50 L38.50 93.50 M42.50 96.50 L42.50 91.50 M34.50 90.50 L42.50 87.50 M34.50 84.50 L42.50 87.50 M34.50 81.50 L42.50 81.50 M34.50 84.50 L34.50 78.50 M35.50 72.50 L35.50 72.50 L34.50 74.50 L34.50 75.50 L35.50 76.50 L35.50 77.50 L36.50 77.50 L37.50 76.50 L37.50 76.50 L38.50 75.50 L38.50 73.50 L39.50 72.50 L39.50 72.50 L40.50 72.50 L41.50 72.50 L42.50 72.50 L42.50 74.50 L42.50 75.50 L42.50 76.50 L41.50 77.50 M34.50 69.50 L42.50 69.50 M34.50 69.50 L34.50 64.50 M38.50 69.50 L38.50 66.50 M42.50 69.50 L42.50 64.50 M34.50 62.50 L42.50 62.50 M34.50 62.50 L42.50 57.50 M34.50 57.50 L42.50 57.50 M34.50 52.50 L42.50 52.50 M34.50 55.50 L34.50 50.50 M34.50 209.50 L42.50 209.50 M34.50 209.50 L34.50 206.50 L35.50 205.50 L35.50 204.50 L36.50 204.50 L37.50 204.50 L39.50 204.50 L40.50 204.50 L41.50 204.50 L42.50 205.50 L42.50 206.50 L42.50 209.50 M34.50 201.50 L42.50 201.50 M34.50 201.50 L34.50 198.50 L35.50 196.50 L35.50 196.50 L36.50 196.50 L36.50 196.50 L37.50 196.50 L38.50 196.50 L38.50 198.50 L38.50 201.50 M38.50 198.50 L42.50 196.50 M34.50 191.50 L35.50 192.50 L35.50 193.50 L36.50 193.50 L37.50 194.50 L39.50 194.50 L40.50 193.50 L41.50 193.50 L42.50 192.50 L42.50 191.50 L42.50 190.50 L42.50 189.50 L41.50 188.50 L40.50 188.50 L39.50 188.50 L37.50 188.50 L36.50 188.50 L35.50 188.50 L35.50 189.50 L34.50 190.50 L34.50 191.50 M34.50 185.50 L42.50 185.50 M34.50 185.50 L34.50 182.50 L35.50 180.50 L35.50 180.50 L36.50 180.50 L37.50 180.50 L38.50 180.50 L38.50 180.50 L38.50 182.50 L38.50 185.50 M42.50 179.50 L42.50 170.50 M34.50 168.50 L42.50 171.50 M34.50 168.50 L42.50 165.50 M39.50 170.50 L39.50 166.50 M34.50 163.50 L42.50 163.50 M34.50 163.50 L42.50 160.50 M34.50 157.50 L42.50 160.50 M34.50 157.50 L42.50 157.50 M34.50 154.50 L42.50 154.50 M34.50 154.50 L34.50 151.50 L35.50 150.50 L35.50 149.50 L36.50 149.50 L37.50 149.50 L38.50 149.50 L38.50 150.50 L38.50 151.50 L38.50 154.50 M38.50 315.50 L46.50 315.50 M38.50 315.50 L38.50 312.50 L39.50 311.50 L39.50 310.50 L40.50 310.50 L41.50 310.50 L43.50 310.50 L44.50 310.50 L45.50 310.50 L46.50 311.50 L46.50 312.50 L46.50 315.50 M38.50 307.50 L46.50 307.50 M38.50 307.50 L38.50 304.50 L39.50 302.50 L39.50 302.50 L40.50 302.50 L40.50 302.50 L41.50 302.50 L42.50 302.50 L42.50 304.50 L42.50 307.50 M42.50 304.50 L46.50 302.50 M38.50 297.50 L39.50 298.50 L39.50 299.50 L40.50 299.50 L41.50 300.50 L43.50 300.50 L44.50 299.50 L45.50 299.50 L46.50 298.50 L46.50 297.50 L46.50 296.50 L46.50 295.50 L45.50 294.50 L44.50 294.50 L43.50 294.50 L41.50 294.50 L40.50 294.50 L39.50 294.50 L39.50 295.50 L38.50 296.50 L38.50 297.50 M38.50 291.50 L46.50 291.50 M38.50 291.50 L38.50 288.50 L39.50 286.50 L39.50 286.50 L40.50 286.50 L41.50 286.50 L42.50 286.50 L42.50 286.50 L42.50 288.50 L42.50 291.50 M46.50 285.50 L46.50 276.50 M38.50 276.50 L46.50 276.50 M38.50 276.50 L38.50 272.50 L39.50 271.50 L39.50 271.50 L40.50 270.50 L41.50 270.50 L42.50 271.50 L42.50 271.50 L42.50 272.50 L42.50 276.50 M38.50 266.50 L39.50 267.50 L39.50 268.50 L40.50 268.50 L41.50 268.50 L43.50 268.50 L44.50 268.50 L45.50 268.50 L46.50 267.50 L46.50 266.50 L46.50 265.50 L46.50 264.50 L45.50 263.50 L44.50 263.50 L43.50 262.50 L41.50 262.50 L40.50 263.50 L39.50 263.50 L39.50 264.50 L38.50 265.50 L38.50 266.50 M39.50 255.50 L39.50 256.50 L38.50 257.50 L38.50 258.50 L39.50 259.50 L39.50 260.50 L40.50 260.50 L41.50 260.50 L41.50 259.50 L42.50 259.50 L42.50 256.50 L43.50 256.50 L43.50 255.50 L44.50 255.50 L45.50 255.50 L46.50 256.50 L46.50 257.50 L46.50 258.50 L46.50 259.50 L45.50 260.50 M42.50 421.50 L50.50 421.50 M42.50 421.50 L42.50 418.50 L43.50 417.50 L43.50 416.50 L44.50 416.50 L45.50 416.50 L47.50 416.50 L48.50 416.50 L49.50 416.50 L50.50 417.50 L50.50 418.50 L50.50 421.50 M42.50 413.50 L50.50 413.50 M42.50 413.50 L42.50 410.50 L43.50 408.50 L43.50 408.50 L44.50 408.50 L44.50 408.50 L45.50 408.50 L46.50 408.50 L46.50 410.50 L46.50 413.50 M46.50 410.50 L50.50 408.50 M42.50 403.50 L43.50 404.50 L43.50 405.50 L44.50 405.50 L45.50 406.50 L47.50 406.50 L48.50 405.50 L49.50 405.50 L50.50 404.50 L50.50 403.50 L50.50 402.50 L50.50 401.50 L49.50 400.50 L48.50 400.50 L47.50 400.50 L45.50 400.50 L44.50 400.50 L43.50 400.50 L43.50 401.50 L42.50 402.50 L42.50 403.50 M42.50 397.50 L50.50 397.50 M42.50 397.50 L42.50 394.50 L43.50 392.50 L43.50 392.50 L44.50 392.50 L45.50 392.50 L46.50 392.50 L46.50 392.50 L46.50 394.50 L46.50 397.50 M50.50 391.50 L50.50 382.50 M44.50 376.50 L43.50 377.50 L43.50 378.50 L42.50 378.50 L42.50 380.50 L43.50 381.50 L43.50 381.50 L44.50 382.50 L45.50 382.50 L47.50 382.50 L48.50 382.50 L49.50 381.50 L50.50 381.50 L50.50 380.50 L50.50 378.50 L50.50 378.50 L49.50 377.50 L48.50 376.50 L47.50 376.50 M47.50 378.50 L47.50 376.50 M42.50 374.50 L50.50 374.50 M42.50 374.50 L42.50 371.50 L43.50 369.50 L43.50 369.50 L44.50 369.50 L44.50 369.50 L45.50 369.50 L46.50 369.50 L46.50 371.50 L46.50 374.50 M46.50 371.50 L50.50 369.50 M42.50 366.50 L50.50 366.50 M42.50 366.50 L42.50 363.50 L43.50 362.50 L43.50 362.50 L44.50 361.50 L45.50 361.50 L47.50 361.50 L48.50 361.50 L49.50 362.50 L50.50 362.50 L50.50 363.50 L50.50 366.50 M26.50 518.50 L34.50 518.50 M26.50 520.50 L26.50 515.50 M26.50 513.50 L34.50 513.50 M26.50 508.50 L34.50 508.50 M30.50 513.50 L30.50 508.50 M26.50 505.50 L34.50 505.50 M26.50 505.50 L26.50 502.50 L27.50 501.50 L27.50 500.50 L28.50 500.50 L28.50 500.50 L29.50 500.50 L30.50 501.50 L30.50 502.50 L30.50 505.50 M30.50 503.50 L34.50 500.50 M34.50 499.50 L34.50 491.50 M26.50 490.50 L34.50 490.50 M26.50 490.50 L26.50 487.50 L27.50 485.50 L27.50 485.50 L28.50 485.50 L29.50 485.50 L30.50 485.50 L30.50 485.50 L30.50 487.50 L30.50 490.50 M26.50 482.50 L34.50 482.50 M26.50 480.50 L34.50 474.50 M26.50 474.50 L34.50 480.50 M38.50 633.50 L46.50 633.50 M38.50 633.50 L38.50 629.50 L39.50 628.50 L39.50 628.50 L40.50 628.50 L40.50 628.50 L41.50 628.50 L42.50 628.50 L42.50 629.50 M42.50 633.50 L42.50 629.50 L42.50 628.50 L43.50 628.50 L43.50 628.50 L45.50 628.50 L45.50 628.50 L46.50 628.50 L46.50 629.50 L46.50 633.50 M38.50 625.50 L46.50 625.50 M38.50 625.50 L38.50 620.50 M42.50 625.50 L42.50 622.50 M46.50 625.50 L46.50 620.50 M38.50 618.50 L46.50 618.50 M38.50 618.50 L38.50 615.50 L39.50 613.50 L39.50 613.50 L40.50 613.50 L40.50 613.50 L41.50 613.50 L42.50 613.50 L42.50 615.50 L42.50 618.50 M42.50 615.50 L46.50 613.50 M38.50 610.50 L46.50 610.50 M38.50 610.50 L38.50 607.50 L39.50 606.50 L39.50 605.50 L40.50 605.50 L40.50 605.50 L41.50 605.50 L42.50 606.50 L42.50 607.50 L42.50 610.50 M42.50 607.50 L46.50 605.50 M46.50 604.50 L46.50 596.50 M39.50 590.50 L39.50 591.50 L38.50 592.50 L38.50 593.50 L39.50 594.50 L39.50 595.50 L40.50 595.50 L41.50 595.50 L41.50 594.50 L42.50 594.50 L42.50 591.50 L43.50 591.50 L43.50 590.50 L44.50 590.50 L45.50 590.50 L46.50 591.50 L46.50 592.50 L46.50 593.50 L46.50 594.50 L45.50 595.50 M38.50 587.50 L44.50 587.50 L45.50 587.50 L46.50 586.50 L46.50 585.50 L46.50 584.50 L46.50 583.50 L45.50 583.50 L44.50 582.50 L38.50 582.50 M38.50 579.50 L46.50 579.50 M38.50 579.50 L46.50 576.50 M38.50 573.50 L46.50 576.50 M38.50 573.50 L46.50 573.50"/>
<path fill="none" stroke="#fff" stroke-width="1" stroke-linecap="square" d="M297.50 6.50 L297.50 5.50 L296.50 4.50 L295.50 4.50 L293.50 4.50 L292.50 4.50 L291.50 5.50 L290.50 6.50 L290.50 8.50 L290.50 10.50 L290.50 12.50 L291.50 13.50 L292.50 14.50 L293.50 14.50 L295.50 14.50 L296.50 14.50 L297.50 13.50 L297.50 12.50 M307.50 6.50 L307.50 5.50 L306.50 4.50 L305.50 4.50 L303.50 4.50 L302.50 4.50 L301.50 5.50 L301.50 6.50 L300.50 8.50 L300.50 10.50 L301.50 12.50 L301.50 13.50 L302.50 14.50 L303.50 14.50 L305.50 14.50 L306.50 14.50 L307.50 13.50 L307.50 12.50 M311.50 4.50 L311.50 14.50 M311.50 4.50 L314.50 4.50 L315.50 4.50 L316.50 5.50 L317.50 6.50 L317.50 8.50 L317.50 10.50 L317.50 12.50 L316.50 13.50 L315.50 14.50 L314.50 14.50 L311.50 14.50 M388.50 4.50 L383.50 14.50 M381.50 4.50 L388.50 4.50"/>
</svg>
</body></html>
